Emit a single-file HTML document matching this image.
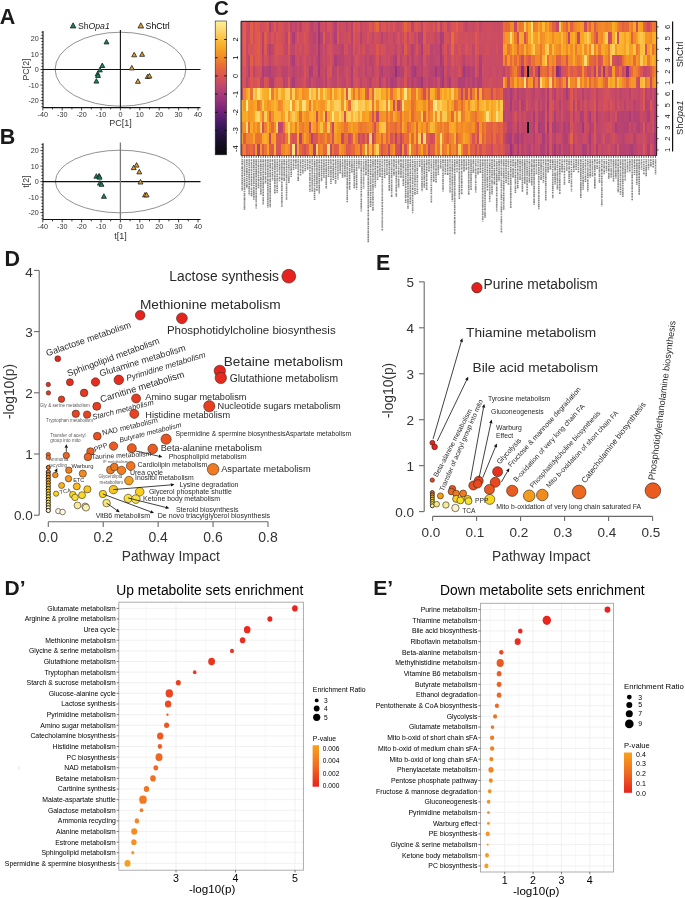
<!DOCTYPE html>
<html><head><meta charset="utf-8"><style>
html,body{margin:0;padding:0;background:#fff;}
svg{display:block;will-change:transform;}
text{font-family:"Liberation Sans", sans-serif;}
</style></head><body>
<svg width="685" height="898" viewBox="0 0 685 898" font-family='"Liberation Sans", sans-serif'>
<rect width="685" height="898" fill="#fff"/>
<text x="-0.30" y="23.80" font-size="21.5" fill="#1a1a1a" font-weight="bold">A</text>
<text x="-0.20" y="144.20" font-size="21.5" fill="#1a1a1a" font-weight="bold">B</text>
<text x="214.00" y="15.30" font-size="20.5" fill="#1a1a1a" font-weight="bold">C</text>
<text x="4.60" y="266.00" font-size="21.5" fill="#1a1a1a" font-weight="bold">D</text>
<text x="376.00" y="270.20" font-size="21.3" fill="#1a1a1a" font-weight="bold">E</text>
<text x="4.60" y="594.80" font-size="21" fill="#1a1a1a" font-weight="bold">D’</text>
<text x="373.20" y="595.20" font-size="21" fill="#1a1a1a" font-weight="bold">E’</text>
<ellipse cx="120.5" cy="69.2" rx="65.4" ry="37.0" fill="none" stroke="#6e6e6e" stroke-width="0.75"/>
<line x1="43.00" y1="31.00" x2="43.00" y2="107.60" stroke="#111" stroke-width="1.1"/>
<line x1="43.00" y1="107.60" x2="200.50" y2="107.60" stroke="#111" stroke-width="1.1"/>
<line x1="43.00" y1="69.50" x2="200.50" y2="69.50" stroke="#111" stroke-width="1.1"/>
<line x1="120.40" y1="30.00" x2="120.40" y2="107.60" stroke="#111" stroke-width="1.1"/>
<line x1="41.40" y1="106.82" x2="43.00" y2="106.82" stroke="#111" stroke-width="0.8"/>
<line x1="41.40" y1="103.71" x2="43.00" y2="103.71" stroke="#111" stroke-width="0.8"/>
<line x1="40.40" y1="100.60" x2="43.00" y2="100.60" stroke="#111" stroke-width="0.8"/>
<line x1="41.40" y1="97.49" x2="43.00" y2="97.49" stroke="#111" stroke-width="0.8"/>
<line x1="41.40" y1="94.38" x2="43.00" y2="94.38" stroke="#111" stroke-width="0.8"/>
<line x1="41.40" y1="91.27" x2="43.00" y2="91.27" stroke="#111" stroke-width="0.8"/>
<line x1="41.40" y1="88.16" x2="43.00" y2="88.16" stroke="#111" stroke-width="0.8"/>
<line x1="40.40" y1="85.05" x2="43.00" y2="85.05" stroke="#111" stroke-width="0.8"/>
<line x1="41.40" y1="81.94" x2="43.00" y2="81.94" stroke="#111" stroke-width="0.8"/>
<line x1="41.40" y1="78.83" x2="43.00" y2="78.83" stroke="#111" stroke-width="0.8"/>
<line x1="41.40" y1="75.72" x2="43.00" y2="75.72" stroke="#111" stroke-width="0.8"/>
<line x1="41.40" y1="72.61" x2="43.00" y2="72.61" stroke="#111" stroke-width="0.8"/>
<line x1="40.40" y1="69.50" x2="43.00" y2="69.50" stroke="#111" stroke-width="0.8"/>
<line x1="41.40" y1="66.39" x2="43.00" y2="66.39" stroke="#111" stroke-width="0.8"/>
<line x1="41.40" y1="63.28" x2="43.00" y2="63.28" stroke="#111" stroke-width="0.8"/>
<line x1="41.40" y1="60.17" x2="43.00" y2="60.17" stroke="#111" stroke-width="0.8"/>
<line x1="41.40" y1="57.06" x2="43.00" y2="57.06" stroke="#111" stroke-width="0.8"/>
<line x1="40.40" y1="53.95" x2="43.00" y2="53.95" stroke="#111" stroke-width="0.8"/>
<line x1="41.40" y1="50.84" x2="43.00" y2="50.84" stroke="#111" stroke-width="0.8"/>
<line x1="41.40" y1="47.73" x2="43.00" y2="47.73" stroke="#111" stroke-width="0.8"/>
<line x1="41.40" y1="44.62" x2="43.00" y2="44.62" stroke="#111" stroke-width="0.8"/>
<line x1="41.40" y1="41.51" x2="43.00" y2="41.51" stroke="#111" stroke-width="0.8"/>
<line x1="40.40" y1="38.40" x2="43.00" y2="38.40" stroke="#111" stroke-width="0.8"/>
<line x1="41.40" y1="35.29" x2="43.00" y2="35.29" stroke="#111" stroke-width="0.8"/>
<line x1="41.40" y1="32.18" x2="43.00" y2="32.18" stroke="#111" stroke-width="0.8"/>
<text x="38.80" y="41.00" font-size="7.2" text-anchor="end" fill="#333">20</text>
<text x="38.80" y="56.55" font-size="7.2" text-anchor="end" fill="#333">10</text>
<text x="38.80" y="72.10" font-size="7.2" text-anchor="end" fill="#333">0</text>
<text x="38.80" y="87.65" font-size="7.2" text-anchor="end" fill="#333">-10</text>
<text x="38.80" y="103.20" font-size="7.2" text-anchor="end" fill="#333">-20</text>
<line x1="42.80" y1="107.60" x2="42.80" y2="110.40" stroke="#111" stroke-width="0.8"/>
<line x1="52.50" y1="107.60" x2="52.50" y2="109.40" stroke="#111" stroke-width="0.8"/>
<line x1="62.20" y1="107.60" x2="62.20" y2="110.40" stroke="#111" stroke-width="0.8"/>
<line x1="71.90" y1="107.60" x2="71.90" y2="109.40" stroke="#111" stroke-width="0.8"/>
<line x1="81.60" y1="107.60" x2="81.60" y2="110.40" stroke="#111" stroke-width="0.8"/>
<line x1="91.30" y1="107.60" x2="91.30" y2="109.40" stroke="#111" stroke-width="0.8"/>
<line x1="101.00" y1="107.60" x2="101.00" y2="110.40" stroke="#111" stroke-width="0.8"/>
<line x1="110.70" y1="107.60" x2="110.70" y2="109.40" stroke="#111" stroke-width="0.8"/>
<line x1="120.40" y1="107.60" x2="120.40" y2="110.40" stroke="#111" stroke-width="0.8"/>
<line x1="130.10" y1="107.60" x2="130.10" y2="109.40" stroke="#111" stroke-width="0.8"/>
<line x1="139.80" y1="107.60" x2="139.80" y2="110.40" stroke="#111" stroke-width="0.8"/>
<line x1="149.50" y1="107.60" x2="149.50" y2="109.40" stroke="#111" stroke-width="0.8"/>
<line x1="159.20" y1="107.60" x2="159.20" y2="110.40" stroke="#111" stroke-width="0.8"/>
<line x1="168.90" y1="107.60" x2="168.90" y2="109.40" stroke="#111" stroke-width="0.8"/>
<line x1="178.60" y1="107.60" x2="178.60" y2="110.40" stroke="#111" stroke-width="0.8"/>
<line x1="188.30" y1="107.60" x2="188.30" y2="109.40" stroke="#111" stroke-width="0.8"/>
<line x1="198.00" y1="107.60" x2="198.00" y2="110.40" stroke="#111" stroke-width="0.8"/>
<text x="42.80" y="117.20" font-size="7.2" text-anchor="middle" fill="#333">-40</text>
<text x="62.20" y="117.20" font-size="7.2" text-anchor="middle" fill="#333">-30</text>
<text x="81.60" y="117.20" font-size="7.2" text-anchor="middle" fill="#333">-20</text>
<text x="101.00" y="117.20" font-size="7.2" text-anchor="middle" fill="#333">-10</text>
<text x="120.40" y="117.20" font-size="7.2" text-anchor="middle" fill="#333">0</text>
<text x="139.80" y="117.20" font-size="7.2" text-anchor="middle" fill="#333">10</text>
<text x="159.20" y="117.20" font-size="7.2" text-anchor="middle" fill="#333">20</text>
<text x="178.60" y="117.20" font-size="7.2" text-anchor="middle" fill="#333">30</text>
<text x="198.00" y="117.20" font-size="7.2" text-anchor="middle" fill="#333">40</text>
<text x="28.60" y="69.50" font-size="8.8" text-anchor="middle" fill="#333" transform="rotate(-90 28.60 69.50)">PC[2]</text>
<text x="120.40" y="126.20" font-size="9" text-anchor="middle" fill="#333">PC[1]</text>
<polygon points="106.50,39.41 104.05,43.91 108.95,43.91" fill="#16855a" stroke="#1e2a26" stroke-width="0.85" stroke-linejoin="round"/>
<polygon points="102.30,63.01 99.85,67.51 104.75,67.51" fill="#16855a" stroke="#1e2a26" stroke-width="0.85" stroke-linejoin="round"/>
<polygon points="99.90,67.41 97.45,71.91 102.35,71.91" fill="#16855a" stroke="#1e2a26" stroke-width="0.85" stroke-linejoin="round"/>
<polygon points="97.60,71.41 95.15,75.91 100.05,75.91" fill="#16855a" stroke="#1e2a26" stroke-width="0.85" stroke-linejoin="round"/>
<polygon points="98.00,73.01 95.55,77.51 100.45,77.51" fill="#16855a" stroke="#1e2a26" stroke-width="0.85" stroke-linejoin="round"/>
<polygon points="96.40,78.61 93.95,83.11 98.85,83.11" fill="#16855a" stroke="#1e2a26" stroke-width="0.85" stroke-linejoin="round"/>
<polygon points="134.20,52.31 131.75,56.81 136.65,56.81" fill="#f09a2c" stroke="#1e2a26" stroke-width="0.85" stroke-linejoin="round"/>
<polygon points="142.10,51.81 139.65,56.31 144.55,56.31" fill="#f09a2c" stroke="#1e2a26" stroke-width="0.85" stroke-linejoin="round"/>
<polygon points="131.80,65.41 129.35,69.91 134.25,69.91" fill="#f09a2c" stroke="#1e2a26" stroke-width="0.85" stroke-linejoin="round"/>
<polygon points="147.70,74.01 145.25,78.51 150.15,78.51" fill="#f09a2c" stroke="#1e2a26" stroke-width="0.85" stroke-linejoin="round"/>
<polygon points="149.50,73.51 147.05,78.01 151.95,78.01" fill="#f09a2c" stroke="#1e2a26" stroke-width="0.85" stroke-linejoin="round"/>
<polygon points="137.90,78.81 135.45,83.31 140.35,83.31" fill="#f09a2c" stroke="#1e2a26" stroke-width="0.85" stroke-linejoin="round"/>
<ellipse cx="120.2" cy="181.5" rx="64.8" ry="31.3" fill="none" stroke="#6e6e6e" stroke-width="0.75"/>
<line x1="43.00" y1="143.20" x2="43.00" y2="219.57" stroke="#111" stroke-width="1.1"/>
<line x1="43.00" y1="219.57" x2="200.50" y2="219.57" stroke="#111" stroke-width="1.1"/>
<line x1="43.00" y1="181.60" x2="200.50" y2="181.60" stroke="#111" stroke-width="1.1"/>
<line x1="120.40" y1="142.50" x2="120.40" y2="219.57" stroke="#7a7a7a" stroke-width="1.3"/>
<line x1="41.40" y1="218.80" x2="43.00" y2="218.80" stroke="#111" stroke-width="0.8"/>
<line x1="41.40" y1="215.70" x2="43.00" y2="215.70" stroke="#111" stroke-width="0.8"/>
<line x1="40.40" y1="212.60" x2="43.00" y2="212.60" stroke="#111" stroke-width="0.8"/>
<line x1="41.40" y1="209.50" x2="43.00" y2="209.50" stroke="#111" stroke-width="0.8"/>
<line x1="41.40" y1="206.40" x2="43.00" y2="206.40" stroke="#111" stroke-width="0.8"/>
<line x1="41.40" y1="203.30" x2="43.00" y2="203.30" stroke="#111" stroke-width="0.8"/>
<line x1="41.40" y1="200.20" x2="43.00" y2="200.20" stroke="#111" stroke-width="0.8"/>
<line x1="40.40" y1="197.10" x2="43.00" y2="197.10" stroke="#111" stroke-width="0.8"/>
<line x1="41.40" y1="194.00" x2="43.00" y2="194.00" stroke="#111" stroke-width="0.8"/>
<line x1="41.40" y1="190.90" x2="43.00" y2="190.90" stroke="#111" stroke-width="0.8"/>
<line x1="41.40" y1="187.80" x2="43.00" y2="187.80" stroke="#111" stroke-width="0.8"/>
<line x1="41.40" y1="184.70" x2="43.00" y2="184.70" stroke="#111" stroke-width="0.8"/>
<line x1="40.40" y1="181.60" x2="43.00" y2="181.60" stroke="#111" stroke-width="0.8"/>
<line x1="41.40" y1="178.50" x2="43.00" y2="178.50" stroke="#111" stroke-width="0.8"/>
<line x1="41.40" y1="175.40" x2="43.00" y2="175.40" stroke="#111" stroke-width="0.8"/>
<line x1="41.40" y1="172.30" x2="43.00" y2="172.30" stroke="#111" stroke-width="0.8"/>
<line x1="41.40" y1="169.20" x2="43.00" y2="169.20" stroke="#111" stroke-width="0.8"/>
<line x1="40.40" y1="166.10" x2="43.00" y2="166.10" stroke="#111" stroke-width="0.8"/>
<line x1="41.40" y1="163.00" x2="43.00" y2="163.00" stroke="#111" stroke-width="0.8"/>
<line x1="41.40" y1="159.90" x2="43.00" y2="159.90" stroke="#111" stroke-width="0.8"/>
<line x1="41.40" y1="156.80" x2="43.00" y2="156.80" stroke="#111" stroke-width="0.8"/>
<line x1="41.40" y1="153.70" x2="43.00" y2="153.70" stroke="#111" stroke-width="0.8"/>
<line x1="40.40" y1="150.60" x2="43.00" y2="150.60" stroke="#111" stroke-width="0.8"/>
<line x1="41.40" y1="147.50" x2="43.00" y2="147.50" stroke="#111" stroke-width="0.8"/>
<line x1="41.40" y1="144.40" x2="43.00" y2="144.40" stroke="#111" stroke-width="0.8"/>
<text x="38.80" y="153.20" font-size="7.2" text-anchor="end" fill="#333">20</text>
<text x="38.80" y="168.70" font-size="7.2" text-anchor="end" fill="#333">10</text>
<text x="38.80" y="184.20" font-size="7.2" text-anchor="end" fill="#333">0</text>
<text x="38.80" y="199.70" font-size="7.2" text-anchor="end" fill="#333">-10</text>
<text x="38.80" y="215.20" font-size="7.2" text-anchor="end" fill="#333">-20</text>
<line x1="42.80" y1="219.57" x2="42.80" y2="222.38" stroke="#111" stroke-width="0.8"/>
<line x1="52.50" y1="219.57" x2="52.50" y2="221.38" stroke="#111" stroke-width="0.8"/>
<line x1="62.20" y1="219.57" x2="62.20" y2="222.38" stroke="#111" stroke-width="0.8"/>
<line x1="71.90" y1="219.57" x2="71.90" y2="221.38" stroke="#111" stroke-width="0.8"/>
<line x1="81.60" y1="219.57" x2="81.60" y2="222.38" stroke="#111" stroke-width="0.8"/>
<line x1="91.30" y1="219.57" x2="91.30" y2="221.38" stroke="#111" stroke-width="0.8"/>
<line x1="101.00" y1="219.57" x2="101.00" y2="222.38" stroke="#111" stroke-width="0.8"/>
<line x1="110.70" y1="219.57" x2="110.70" y2="221.38" stroke="#111" stroke-width="0.8"/>
<line x1="120.40" y1="219.57" x2="120.40" y2="222.38" stroke="#111" stroke-width="0.8"/>
<line x1="130.10" y1="219.57" x2="130.10" y2="221.38" stroke="#111" stroke-width="0.8"/>
<line x1="139.80" y1="219.57" x2="139.80" y2="222.38" stroke="#111" stroke-width="0.8"/>
<line x1="149.50" y1="219.57" x2="149.50" y2="221.38" stroke="#111" stroke-width="0.8"/>
<line x1="159.20" y1="219.57" x2="159.20" y2="222.38" stroke="#111" stroke-width="0.8"/>
<line x1="168.90" y1="219.57" x2="168.90" y2="221.38" stroke="#111" stroke-width="0.8"/>
<line x1="178.60" y1="219.57" x2="178.60" y2="222.38" stroke="#111" stroke-width="0.8"/>
<line x1="188.30" y1="219.57" x2="188.30" y2="221.38" stroke="#111" stroke-width="0.8"/>
<line x1="198.00" y1="219.57" x2="198.00" y2="222.38" stroke="#111" stroke-width="0.8"/>
<text x="42.80" y="229.17" font-size="7.2" text-anchor="middle" fill="#333">-40</text>
<text x="62.20" y="229.17" font-size="7.2" text-anchor="middle" fill="#333">-30</text>
<text x="81.60" y="229.17" font-size="7.2" text-anchor="middle" fill="#333">-20</text>
<text x="101.00" y="229.17" font-size="7.2" text-anchor="middle" fill="#333">-10</text>
<text x="120.40" y="229.17" font-size="7.2" text-anchor="middle" fill="#333">0</text>
<text x="139.80" y="229.17" font-size="7.2" text-anchor="middle" fill="#333">10</text>
<text x="159.20" y="229.17" font-size="7.2" text-anchor="middle" fill="#333">20</text>
<text x="178.60" y="229.17" font-size="7.2" text-anchor="middle" fill="#333">30</text>
<text x="198.00" y="229.17" font-size="7.2" text-anchor="middle" fill="#333">40</text>
<text x="28.60" y="181.60" font-size="8.8" text-anchor="middle" fill="#333" transform="rotate(-90 28.60 181.60)">t[2]</text>
<text x="120.40" y="239.00" font-size="9" text-anchor="middle" fill="#333">t[1]</text>
<polygon points="96.40,173.71 93.95,178.21 98.85,178.21" fill="#16855a" stroke="#1e2a26" stroke-width="0.85" stroke-linejoin="round"/>
<polygon points="99.10,173.41 96.65,177.91 101.55,177.91" fill="#16855a" stroke="#1e2a26" stroke-width="0.85" stroke-linejoin="round"/>
<polygon points="99.60,174.71 97.15,179.21 102.05,179.21" fill="#16855a" stroke="#1e2a26" stroke-width="0.85" stroke-linejoin="round"/>
<polygon points="99.90,180.61 97.45,185.11 102.35,185.11" fill="#16855a" stroke="#1e2a26" stroke-width="0.85" stroke-linejoin="round"/>
<polygon points="101.50,181.81 99.05,186.31 103.95,186.31" fill="#16855a" stroke="#1e2a26" stroke-width="0.85" stroke-linejoin="round"/>
<polygon points="103.90,193.81 101.45,198.31 106.35,198.31" fill="#16855a" stroke="#1e2a26" stroke-width="0.85" stroke-linejoin="round"/>
<polygon points="136.60,162.61 134.15,167.11 139.05,167.11" fill="#f09a2c" stroke="#1e2a26" stroke-width="0.85" stroke-linejoin="round"/>
<polygon points="133.70,165.11 131.25,169.61 136.15,169.61" fill="#f09a2c" stroke="#1e2a26" stroke-width="0.85" stroke-linejoin="round"/>
<polygon points="139.30,169.41 136.85,173.91 141.75,173.91" fill="#f09a2c" stroke="#1e2a26" stroke-width="0.85" stroke-linejoin="round"/>
<polygon points="140.50,179.51 138.05,184.01 142.95,184.01" fill="#f09a2c" stroke="#1e2a26" stroke-width="0.85" stroke-linejoin="round"/>
<polygon points="145.00,192.41 142.55,196.91 147.45,196.91" fill="#f09a2c" stroke="#1e2a26" stroke-width="0.85" stroke-linejoin="round"/>
<polygon points="146.60,192.41 144.15,196.91 149.05,196.91" fill="#f09a2c" stroke="#1e2a26" stroke-width="0.85" stroke-linejoin="round"/>
<polygon points="73.10,22.81 70.30,27.96 75.90,27.96" fill="#16855a" stroke="#1e2a26" stroke-width="0.85" stroke-linejoin="round"/>
<text x="77.9" y="28.8" font-size="8.7" fill="#222">Sh<tspan font-style="italic">Opa1</tspan></text>
<polygon points="140.80,22.81 138.00,27.96 143.60,27.96" fill="#f09a2c" stroke="#1e2a26" stroke-width="0.85" stroke-linejoin="round"/>
<text x="145.60" y="28.80" font-size="8.7">ShCtrl</text>
<g shape-rendering="crispEdges">
<rect x="241.00" y="21.30" width="2.69" height="11.53" fill="#d04f5d"/>
<rect x="243.34" y="21.30" width="2.69" height="11.53" fill="#e05d47"/>
<rect x="245.67" y="21.30" width="2.69" height="11.53" fill="#cd4d60"/>
<rect x="248.01" y="21.30" width="2.69" height="11.53" fill="#c84a66"/>
<rect x="250.34" y="21.30" width="2.69" height="11.53" fill="#e25f45"/>
<rect x="252.68" y="21.30" width="2.69" height="11.53" fill="#d04f5d"/>
<rect x="255.01" y="21.30" width="2.69" height="11.53" fill="#df5a4b"/>
<rect x="257.35" y="21.30" width="2.69" height="11.53" fill="#dc574f"/>
<rect x="259.68" y="21.30" width="2.69" height="11.53" fill="#cf4e5e"/>
<rect x="262.02" y="21.30" width="2.69" height="11.53" fill="#d2505b"/>
<rect x="264.35" y="21.30" width="2.69" height="11.53" fill="#d45258"/>
<rect x="266.69" y="21.30" width="2.69" height="11.53" fill="#de594c"/>
<rect x="269.02" y="21.30" width="2.69" height="11.53" fill="#b03f75"/>
<rect x="271.36" y="21.30" width="2.69" height="11.53" fill="#cb4c63"/>
<rect x="273.70" y="21.30" width="2.69" height="11.53" fill="#de5a4b"/>
<rect x="276.03" y="21.30" width="2.69" height="11.53" fill="#c64968"/>
<rect x="278.37" y="21.30" width="2.69" height="11.53" fill="#d85454"/>
<rect x="280.70" y="21.30" width="2.69" height="11.53" fill="#d75356"/>
<rect x="283.04" y="21.30" width="2.69" height="11.53" fill="#cd4d60"/>
<rect x="285.37" y="21.30" width="2.69" height="11.53" fill="#c74a67"/>
<rect x="287.71" y="21.30" width="2.69" height="11.53" fill="#d85454"/>
<rect x="290.04" y="21.30" width="2.69" height="11.53" fill="#bb446f"/>
<rect x="292.38" y="21.30" width="2.69" height="11.53" fill="#c4486a"/>
<rect x="294.71" y="21.30" width="2.69" height="11.53" fill="#bc446f"/>
<rect x="297.05" y="21.30" width="2.69" height="11.53" fill="#cc4d61"/>
<rect x="299.38" y="21.30" width="2.69" height="11.53" fill="#ba446f"/>
<rect x="301.72" y="21.30" width="2.69" height="11.53" fill="#d1505c"/>
<rect x="304.06" y="21.30" width="2.69" height="11.53" fill="#cf4f5e"/>
<rect x="306.39" y="21.30" width="2.69" height="11.53" fill="#d3515a"/>
<rect x="308.73" y="21.30" width="2.69" height="11.53" fill="#c1476c"/>
<rect x="311.06" y="21.30" width="2.69" height="11.53" fill="#b64272"/>
<rect x="313.40" y="21.30" width="2.69" height="11.53" fill="#c64968"/>
<rect x="315.73" y="21.30" width="2.69" height="11.53" fill="#c74a67"/>
<rect x="318.07" y="21.30" width="2.69" height="11.53" fill="#a2397a"/>
<rect x="320.40" y="21.30" width="2.69" height="11.53" fill="#c94b65"/>
<rect x="322.74" y="21.30" width="2.69" height="11.53" fill="#d2505a"/>
<rect x="325.07" y="21.30" width="2.69" height="11.53" fill="#c2476b"/>
<rect x="327.41" y="21.30" width="2.69" height="11.53" fill="#d65356"/>
<rect x="329.74" y="21.30" width="2.69" height="11.53" fill="#d55257"/>
<rect x="332.08" y="21.30" width="2.69" height="11.53" fill="#c54869"/>
<rect x="334.42" y="21.30" width="2.69" height="11.53" fill="#b44173"/>
<rect x="336.75" y="21.30" width="2.69" height="11.53" fill="#d55258"/>
<rect x="339.09" y="21.30" width="2.69" height="11.53" fill="#ca4c63"/>
<rect x="341.42" y="21.30" width="2.69" height="11.53" fill="#cb4c63"/>
<rect x="343.76" y="21.30" width="2.69" height="11.53" fill="#cd4d60"/>
<rect x="346.09" y="21.30" width="2.69" height="11.53" fill="#bd456e"/>
<rect x="348.43" y="21.30" width="2.69" height="11.53" fill="#cc4d61"/>
<rect x="350.76" y="21.30" width="2.69" height="11.53" fill="#b94370"/>
<rect x="353.10" y="21.30" width="2.69" height="11.53" fill="#de594c"/>
<rect x="355.43" y="21.30" width="2.69" height="11.53" fill="#d3515a"/>
<rect x="357.77" y="21.30" width="2.69" height="11.53" fill="#d95453"/>
<rect x="360.11" y="21.30" width="2.69" height="11.53" fill="#c0466c"/>
<rect x="362.44" y="21.30" width="2.69" height="11.53" fill="#cc4c62"/>
<rect x="364.78" y="21.30" width="2.69" height="11.53" fill="#ca4b64"/>
<rect x="367.11" y="21.30" width="2.69" height="11.53" fill="#d04f5d"/>
<rect x="369.45" y="21.30" width="2.69" height="11.53" fill="#dd574e"/>
<rect x="371.78" y="21.30" width="2.69" height="11.53" fill="#d04f5d"/>
<rect x="374.12" y="21.30" width="2.69" height="11.53" fill="#e05c48"/>
<rect x="376.45" y="21.30" width="2.69" height="11.53" fill="#e76939"/>
<rect x="378.79" y="21.30" width="2.69" height="11.53" fill="#ca4b64"/>
<rect x="381.12" y="21.30" width="2.69" height="11.53" fill="#da5553"/>
<rect x="383.46" y="21.30" width="2.69" height="11.53" fill="#dc5650"/>
<rect x="385.79" y="21.30" width="2.69" height="11.53" fill="#ce4e60"/>
<rect x="388.13" y="21.30" width="2.69" height="11.53" fill="#d85455"/>
<rect x="390.47" y="21.30" width="2.69" height="11.53" fill="#d14f5c"/>
<rect x="392.80" y="21.30" width="2.69" height="11.53" fill="#dd574f"/>
<rect x="395.14" y="21.30" width="2.69" height="11.53" fill="#cc4d61"/>
<rect x="397.47" y="21.30" width="2.69" height="11.53" fill="#c74a67"/>
<rect x="399.81" y="21.30" width="2.69" height="11.53" fill="#cb4c63"/>
<rect x="402.14" y="21.30" width="2.69" height="11.53" fill="#d85454"/>
<rect x="404.48" y="21.30" width="2.69" height="11.53" fill="#e6673c"/>
<rect x="406.81" y="21.30" width="2.69" height="11.53" fill="#db5551"/>
<rect x="409.15" y="21.30" width="2.69" height="11.53" fill="#de5a4b"/>
<rect x="411.48" y="21.30" width="2.69" height="11.53" fill="#bd456e"/>
<rect x="413.82" y="21.30" width="2.69" height="11.53" fill="#d95453"/>
<rect x="416.15" y="21.30" width="2.69" height="11.53" fill="#dd584e"/>
<rect x="418.49" y="21.30" width="2.69" height="11.53" fill="#d55257"/>
<rect x="420.83" y="21.30" width="2.69" height="11.53" fill="#bc456f"/>
<rect x="423.16" y="21.30" width="2.69" height="11.53" fill="#df5a4b"/>
<rect x="425.50" y="21.30" width="2.69" height="11.53" fill="#d85454"/>
<rect x="427.83" y="21.30" width="2.69" height="11.53" fill="#d35159"/>
<rect x="430.17" y="21.30" width="2.69" height="11.53" fill="#d14f5c"/>
<rect x="432.50" y="21.30" width="2.69" height="11.53" fill="#db5651"/>
<rect x="434.84" y="21.30" width="2.69" height="11.53" fill="#c74a67"/>
<rect x="437.17" y="21.30" width="2.69" height="11.53" fill="#e05c49"/>
<rect x="439.51" y="21.30" width="2.69" height="11.53" fill="#bc456e"/>
<rect x="441.84" y="21.30" width="2.69" height="11.53" fill="#d1505c"/>
<rect x="444.18" y="21.30" width="2.69" height="11.53" fill="#dc5650"/>
<rect x="446.51" y="21.30" width="2.69" height="11.53" fill="#bf466d"/>
<rect x="448.85" y="21.30" width="2.69" height="11.53" fill="#ca4b64"/>
<rect x="451.19" y="21.30" width="2.69" height="11.53" fill="#d85455"/>
<rect x="453.52" y="21.30" width="2.69" height="11.53" fill="#d95453"/>
<rect x="455.86" y="21.30" width="2.69" height="11.53" fill="#e25f45"/>
<rect x="458.19" y="21.30" width="2.69" height="11.53" fill="#d3515a"/>
<rect x="460.53" y="21.30" width="2.69" height="11.53" fill="#d75355"/>
<rect x="462.86" y="21.30" width="2.69" height="11.53" fill="#c84a66"/>
<rect x="465.20" y="21.30" width="2.69" height="11.53" fill="#bd456e"/>
<rect x="467.53" y="21.30" width="2.69" height="11.53" fill="#cd4d60"/>
<rect x="469.87" y="21.30" width="2.69" height="11.53" fill="#ca4b64"/>
<rect x="472.20" y="21.30" width="2.69" height="11.53" fill="#c74a67"/>
<rect x="474.54" y="21.30" width="2.69" height="11.53" fill="#cc4d61"/>
<rect x="476.87" y="21.30" width="2.69" height="11.53" fill="#d65257"/>
<rect x="479.21" y="21.30" width="2.69" height="11.53" fill="#c0466c"/>
<rect x="481.55" y="21.30" width="2.69" height="11.53" fill="#ce4e60"/>
<rect x="483.88" y="21.30" width="2.69" height="11.53" fill="#cb4c62"/>
<rect x="486.22" y="21.30" width="2.69" height="11.53" fill="#ce4e5f"/>
<rect x="488.55" y="21.30" width="2.69" height="11.53" fill="#cd4d60"/>
<rect x="490.89" y="21.30" width="2.69" height="11.53" fill="#cc4c62"/>
<rect x="493.22" y="21.30" width="2.69" height="11.53" fill="#c74a66"/>
<rect x="495.56" y="21.30" width="2.69" height="11.53" fill="#ca4b64"/>
<rect x="497.89" y="21.30" width="2.69" height="11.53" fill="#c74a67"/>
<rect x="500.23" y="21.30" width="2.69" height="11.53" fill="#cf4e5e"/>
<rect x="502.56" y="21.30" width="2.69" height="11.53" fill="#e96f36"/>
<rect x="504.90" y="21.30" width="2.69" height="11.53" fill="#e6663c"/>
<rect x="507.23" y="21.30" width="2.69" height="11.53" fill="#e76939"/>
<rect x="509.57" y="21.30" width="2.69" height="11.53" fill="#f28a28"/>
<rect x="511.91" y="21.30" width="2.69" height="11.53" fill="#f28a28"/>
<rect x="514.24" y="21.30" width="2.69" height="11.53" fill="#c54969"/>
<rect x="516.58" y="21.30" width="2.69" height="11.53" fill="#f18829"/>
<rect x="518.91" y="21.30" width="2.69" height="11.53" fill="#ec7732"/>
<rect x="521.25" y="21.30" width="2.69" height="11.53" fill="#ee7c2f"/>
<rect x="523.58" y="21.30" width="2.69" height="11.53" fill="#fbca55"/>
<rect x="525.92" y="21.30" width="2.69" height="11.53" fill="#f38c27"/>
<rect x="528.25" y="21.30" width="2.69" height="11.53" fill="#f8a723"/>
<rect x="530.59" y="21.30" width="2.69" height="11.53" fill="#fcdf7c"/>
<rect x="532.92" y="21.30" width="2.69" height="11.53" fill="#ed7b2f"/>
<rect x="535.26" y="21.30" width="2.69" height="11.53" fill="#f0842b"/>
<rect x="537.59" y="21.30" width="2.69" height="11.53" fill="#f7a223"/>
<rect x="539.93" y="21.30" width="2.69" height="11.53" fill="#f38e27"/>
<rect x="542.27" y="21.30" width="2.69" height="11.53" fill="#fab837"/>
<rect x="544.60" y="21.30" width="2.69" height="11.53" fill="#f38e27"/>
<rect x="546.94" y="21.30" width="2.69" height="11.53" fill="#f8a422"/>
<rect x="549.27" y="21.30" width="2.69" height="11.53" fill="#ef812d"/>
<rect x="551.61" y="21.30" width="2.69" height="11.53" fill="#e15f45"/>
<rect x="553.94" y="21.30" width="2.69" height="11.53" fill="#e26143"/>
<rect x="556.28" y="21.30" width="2.69" height="11.53" fill="#c74a67"/>
<rect x="558.61" y="21.30" width="2.69" height="11.53" fill="#fccd5a"/>
<rect x="560.95" y="21.30" width="2.69" height="11.53" fill="#f28c28"/>
<rect x="563.28" y="21.30" width="2.69" height="11.53" fill="#ec7632"/>
<rect x="565.62" y="21.30" width="2.69" height="11.53" fill="#e36143"/>
<rect x="567.96" y="21.30" width="2.69" height="11.53" fill="#f59725"/>
<rect x="570.29" y="21.30" width="2.69" height="11.53" fill="#e26143"/>
<rect x="572.63" y="21.30" width="2.69" height="11.53" fill="#ee7c2f"/>
<rect x="574.96" y="21.30" width="2.69" height="11.53" fill="#f18829"/>
<rect x="577.30" y="21.30" width="2.69" height="11.53" fill="#f49126"/>
<rect x="579.63" y="21.30" width="2.69" height="11.53" fill="#f69b24"/>
<rect x="581.97" y="21.30" width="2.69" height="11.53" fill="#f59825"/>
<rect x="584.30" y="21.30" width="2.69" height="11.53" fill="#cd4d61"/>
<rect x="586.64" y="21.30" width="2.69" height="11.53" fill="#f0822c"/>
<rect x="588.97" y="21.30" width="2.69" height="11.53" fill="#e5653e"/>
<rect x="591.31" y="21.30" width="2.69" height="11.53" fill="#f39027"/>
<rect x="593.64" y="21.30" width="2.69" height="11.53" fill="#e05d48"/>
<rect x="595.98" y="21.30" width="2.69" height="11.53" fill="#ec7732"/>
<rect x="598.32" y="21.30" width="2.69" height="11.53" fill="#f1862a"/>
<rect x="600.65" y="21.30" width="2.69" height="11.53" fill="#f38d27"/>
<rect x="602.99" y="21.30" width="2.69" height="11.53" fill="#f28b28"/>
<rect x="605.32" y="21.30" width="2.69" height="11.53" fill="#ef802d"/>
<rect x="607.66" y="21.30" width="2.69" height="11.53" fill="#f1872a"/>
<rect x="609.99" y="21.30" width="2.69" height="11.53" fill="#f28928"/>
<rect x="612.33" y="21.30" width="2.69" height="11.53" fill="#f9ac29"/>
<rect x="614.66" y="21.30" width="2.69" height="11.53" fill="#f69c24"/>
<rect x="617.00" y="21.30" width="2.69" height="11.53" fill="#ef7f2d"/>
<rect x="619.33" y="21.30" width="2.69" height="11.53" fill="#ea7035"/>
<rect x="621.67" y="21.30" width="2.69" height="11.53" fill="#e26044"/>
<rect x="624.00" y="21.30" width="2.69" height="11.53" fill="#e7683b"/>
<rect x="626.34" y="21.30" width="2.69" height="11.53" fill="#e7683a"/>
<rect x="628.68" y="21.30" width="2.69" height="11.53" fill="#f28b28"/>
<rect x="631.01" y="21.30" width="2.69" height="11.53" fill="#ef7f2e"/>
<rect x="633.35" y="21.30" width="2.69" height="11.53" fill="#f8a925"/>
<rect x="635.68" y="21.30" width="2.69" height="11.53" fill="#d04f5d"/>
<rect x="638.02" y="21.30" width="2.69" height="11.53" fill="#f8a522"/>
<rect x="640.35" y="21.30" width="2.69" height="11.53" fill="#f79f23"/>
<rect x="642.69" y="21.30" width="2.69" height="11.53" fill="#e36241"/>
<rect x="645.02" y="21.30" width="2.69" height="11.53" fill="#de594c"/>
<rect x="647.36" y="21.30" width="2.69" height="11.53" fill="#ca4b64"/>
<rect x="649.69" y="21.30" width="2.69" height="11.53" fill="#df5a4b"/>
<rect x="652.03" y="21.30" width="2.69" height="11.53" fill="#ed7930"/>
<rect x="654.36" y="21.30" width="2.69" height="11.53" fill="#eb7433"/>
<rect x="241.00" y="32.48" width="2.69" height="11.53" fill="#cd4d61"/>
<rect x="243.34" y="32.48" width="2.69" height="11.53" fill="#e26044"/>
<rect x="245.67" y="32.48" width="2.69" height="11.53" fill="#c74a67"/>
<rect x="248.01" y="32.48" width="2.69" height="11.53" fill="#c94b65"/>
<rect x="250.34" y="32.48" width="2.69" height="11.53" fill="#e05d47"/>
<rect x="252.68" y="32.48" width="2.69" height="11.53" fill="#cf4f5e"/>
<rect x="255.01" y="32.48" width="2.69" height="11.53" fill="#dd574f"/>
<rect x="257.35" y="32.48" width="2.69" height="11.53" fill="#e05d47"/>
<rect x="259.68" y="32.48" width="2.69" height="11.53" fill="#d75355"/>
<rect x="262.02" y="32.48" width="2.69" height="11.53" fill="#b94370"/>
<rect x="264.35" y="32.48" width="2.69" height="11.53" fill="#e05d47"/>
<rect x="266.69" y="32.48" width="2.69" height="11.53" fill="#d14f5c"/>
<rect x="269.02" y="32.48" width="2.69" height="11.53" fill="#c84a66"/>
<rect x="271.36" y="32.48" width="2.69" height="11.53" fill="#d85455"/>
<rect x="273.70" y="32.48" width="2.69" height="11.53" fill="#cc4c62"/>
<rect x="276.03" y="32.48" width="2.69" height="11.53" fill="#dc564f"/>
<rect x="278.37" y="32.48" width="2.69" height="11.53" fill="#d85454"/>
<rect x="280.70" y="32.48" width="2.69" height="11.53" fill="#d04f5c"/>
<rect x="283.04" y="32.48" width="2.69" height="11.53" fill="#cd4d61"/>
<rect x="285.37" y="32.48" width="2.69" height="11.53" fill="#bc446f"/>
<rect x="287.71" y="32.48" width="2.69" height="11.53" fill="#e36241"/>
<rect x="290.04" y="32.48" width="2.69" height="11.53" fill="#c74a67"/>
<rect x="292.38" y="32.48" width="2.69" height="11.53" fill="#ad3e77"/>
<rect x="294.71" y="32.48" width="2.69" height="11.53" fill="#c54969"/>
<rect x="297.05" y="32.48" width="2.69" height="11.53" fill="#d95453"/>
<rect x="299.38" y="32.48" width="2.69" height="11.53" fill="#cd4d60"/>
<rect x="301.72" y="32.48" width="2.69" height="11.53" fill="#d14f5c"/>
<rect x="304.06" y="32.48" width="2.69" height="11.53" fill="#db5551"/>
<rect x="306.39" y="32.48" width="2.69" height="11.53" fill="#d14f5c"/>
<rect x="308.73" y="32.48" width="2.69" height="11.53" fill="#c3476b"/>
<rect x="311.06" y="32.48" width="2.69" height="11.53" fill="#bd456e"/>
<rect x="313.40" y="32.48" width="2.69" height="11.53" fill="#b94370"/>
<rect x="315.73" y="32.48" width="2.69" height="11.53" fill="#c84a66"/>
<rect x="318.07" y="32.48" width="2.69" height="11.53" fill="#9f377b"/>
<rect x="320.40" y="32.48" width="2.69" height="11.53" fill="#b74371"/>
<rect x="322.74" y="32.48" width="2.69" height="11.53" fill="#df5b4a"/>
<rect x="325.07" y="32.48" width="2.69" height="11.53" fill="#c2476b"/>
<rect x="327.41" y="32.48" width="2.69" height="11.53" fill="#c54968"/>
<rect x="329.74" y="32.48" width="2.69" height="11.53" fill="#d3515a"/>
<rect x="332.08" y="32.48" width="2.69" height="11.53" fill="#c0466c"/>
<rect x="334.42" y="32.48" width="2.69" height="11.53" fill="#ae3e77"/>
<rect x="336.75" y="32.48" width="2.69" height="11.53" fill="#df5a4b"/>
<rect x="339.09" y="32.48" width="2.69" height="11.53" fill="#c64968"/>
<rect x="341.42" y="32.48" width="2.69" height="11.53" fill="#c94b64"/>
<rect x="343.76" y="32.48" width="2.69" height="11.53" fill="#ce4e60"/>
<rect x="346.09" y="32.48" width="2.69" height="11.53" fill="#cd4d60"/>
<rect x="348.43" y="32.48" width="2.69" height="11.53" fill="#d2505a"/>
<rect x="350.76" y="32.48" width="2.69" height="11.53" fill="#b64272"/>
<rect x="353.10" y="32.48" width="2.69" height="11.53" fill="#db5651"/>
<rect x="355.43" y="32.48" width="2.69" height="11.53" fill="#cf4f5e"/>
<rect x="357.77" y="32.48" width="2.69" height="11.53" fill="#d2505a"/>
<rect x="360.11" y="32.48" width="2.69" height="11.53" fill="#b54272"/>
<rect x="362.44" y="32.48" width="2.69" height="11.53" fill="#cb4c62"/>
<rect x="364.78" y="32.48" width="2.69" height="11.53" fill="#cb4c62"/>
<rect x="367.11" y="32.48" width="2.69" height="11.53" fill="#d75356"/>
<rect x="369.45" y="32.48" width="2.69" height="11.53" fill="#cf4e5e"/>
<rect x="371.78" y="32.48" width="2.69" height="11.53" fill="#bf466d"/>
<rect x="374.12" y="32.48" width="2.69" height="11.53" fill="#d3515a"/>
<rect x="376.45" y="32.48" width="2.69" height="11.53" fill="#d04f5d"/>
<rect x="378.79" y="32.48" width="2.69" height="11.53" fill="#ca4b64"/>
<rect x="381.12" y="32.48" width="2.69" height="11.53" fill="#b74371"/>
<rect x="383.46" y="32.48" width="2.69" height="11.53" fill="#ca4b64"/>
<rect x="385.79" y="32.48" width="2.69" height="11.53" fill="#c2476b"/>
<rect x="388.13" y="32.48" width="2.69" height="11.53" fill="#d04f5d"/>
<rect x="390.47" y="32.48" width="2.69" height="11.53" fill="#cc4d61"/>
<rect x="392.80" y="32.48" width="2.69" height="11.53" fill="#c0466c"/>
<rect x="395.14" y="32.48" width="2.69" height="11.53" fill="#c84a66"/>
<rect x="397.47" y="32.48" width="2.69" height="11.53" fill="#d75355"/>
<rect x="399.81" y="32.48" width="2.69" height="11.53" fill="#c64968"/>
<rect x="402.14" y="32.48" width="2.69" height="11.53" fill="#cf4e5e"/>
<rect x="404.48" y="32.48" width="2.69" height="11.53" fill="#dd584e"/>
<rect x="406.81" y="32.48" width="2.69" height="11.53" fill="#c2476b"/>
<rect x="409.15" y="32.48" width="2.69" height="11.53" fill="#d95453"/>
<rect x="411.48" y="32.48" width="2.69" height="11.53" fill="#d2505b"/>
<rect x="413.82" y="32.48" width="2.69" height="11.53" fill="#c54869"/>
<rect x="416.15" y="32.48" width="2.69" height="11.53" fill="#d04f5d"/>
<rect x="418.49" y="32.48" width="2.69" height="11.53" fill="#b64272"/>
<rect x="420.83" y="32.48" width="2.69" height="11.53" fill="#b34174"/>
<rect x="423.16" y="32.48" width="2.69" height="11.53" fill="#e05c48"/>
<rect x="425.50" y="32.48" width="2.69" height="11.53" fill="#cb4c63"/>
<rect x="427.83" y="32.48" width="2.69" height="11.53" fill="#cd4d60"/>
<rect x="430.17" y="32.48" width="2.69" height="11.53" fill="#d04f5d"/>
<rect x="432.50" y="32.48" width="2.69" height="11.53" fill="#ca4c63"/>
<rect x="434.84" y="32.48" width="2.69" height="11.53" fill="#bf466d"/>
<rect x="437.17" y="32.48" width="2.69" height="11.53" fill="#c94b64"/>
<rect x="439.51" y="32.48" width="2.69" height="11.53" fill="#ac3e77"/>
<rect x="441.84" y="32.48" width="2.69" height="11.53" fill="#b04075"/>
<rect x="444.18" y="32.48" width="2.69" height="11.53" fill="#d55258"/>
<rect x="446.51" y="32.48" width="2.69" height="11.53" fill="#d65356"/>
<rect x="448.85" y="32.48" width="2.69" height="11.53" fill="#c74a67"/>
<rect x="451.19" y="32.48" width="2.69" height="11.53" fill="#e86b38"/>
<rect x="453.52" y="32.48" width="2.69" height="11.53" fill="#d85454"/>
<rect x="455.86" y="32.48" width="2.69" height="11.53" fill="#da5552"/>
<rect x="458.19" y="32.48" width="2.69" height="11.53" fill="#d04f5d"/>
<rect x="460.53" y="32.48" width="2.69" height="11.53" fill="#d14f5c"/>
<rect x="462.86" y="32.48" width="2.69" height="11.53" fill="#d04f5e"/>
<rect x="465.20" y="32.48" width="2.69" height="11.53" fill="#d1505c"/>
<rect x="467.53" y="32.48" width="2.69" height="11.53" fill="#cf4e5e"/>
<rect x="469.87" y="32.48" width="2.69" height="11.53" fill="#cf4f5e"/>
<rect x="472.20" y="32.48" width="2.69" height="11.53" fill="#cf4e5e"/>
<rect x="474.54" y="32.48" width="2.69" height="11.53" fill="#dd584d"/>
<rect x="476.87" y="32.48" width="2.69" height="11.53" fill="#d3515a"/>
<rect x="479.21" y="32.48" width="2.69" height="11.53" fill="#cc4d61"/>
<rect x="481.55" y="32.48" width="2.69" height="11.53" fill="#cd4d61"/>
<rect x="483.88" y="32.48" width="2.69" height="11.53" fill="#c94b64"/>
<rect x="486.22" y="32.48" width="2.69" height="11.53" fill="#cf4e5e"/>
<rect x="488.55" y="32.48" width="2.69" height="11.53" fill="#ce4e5f"/>
<rect x="490.89" y="32.48" width="2.69" height="11.53" fill="#cb4c62"/>
<rect x="493.22" y="32.48" width="2.69" height="11.53" fill="#cc4d61"/>
<rect x="495.56" y="32.48" width="2.69" height="11.53" fill="#ce4e60"/>
<rect x="497.89" y="32.48" width="2.69" height="11.53" fill="#c84a65"/>
<rect x="500.23" y="32.48" width="2.69" height="11.53" fill="#cc4d61"/>
<rect x="502.56" y="32.48" width="2.69" height="11.53" fill="#f1862a"/>
<rect x="504.90" y="32.48" width="2.69" height="11.53" fill="#f49626"/>
<rect x="507.23" y="32.48" width="2.69" height="11.53" fill="#f59825"/>
<rect x="509.57" y="32.48" width="2.69" height="11.53" fill="#fcdb75"/>
<rect x="511.91" y="32.48" width="2.69" height="11.53" fill="#f9ab27"/>
<rect x="514.24" y="32.48" width="2.69" height="11.53" fill="#ee7c2f"/>
<rect x="516.58" y="32.48" width="2.69" height="11.53" fill="#d2505a"/>
<rect x="518.91" y="32.48" width="2.69" height="11.53" fill="#f9ac29"/>
<rect x="521.25" y="32.48" width="2.69" height="11.53" fill="#f8a824"/>
<rect x="523.58" y="32.48" width="2.69" height="11.53" fill="#d3515a"/>
<rect x="525.92" y="32.48" width="2.69" height="11.53" fill="#ea7134"/>
<rect x="528.25" y="32.48" width="2.69" height="11.53" fill="#f9ae2b"/>
<rect x="530.59" y="32.48" width="2.69" height="11.53" fill="#fccf5e"/>
<rect x="532.92" y="32.48" width="2.69" height="11.53" fill="#f7a323"/>
<rect x="535.26" y="32.48" width="2.69" height="11.53" fill="#f69b24"/>
<rect x="537.59" y="32.48" width="2.69" height="11.53" fill="#fab836"/>
<rect x="539.93" y="32.48" width="2.69" height="11.53" fill="#f28b28"/>
<rect x="542.27" y="32.48" width="2.69" height="11.53" fill="#f49326"/>
<rect x="544.60" y="32.48" width="2.69" height="11.53" fill="#f8a422"/>
<rect x="546.94" y="32.48" width="2.69" height="11.53" fill="#f9ad2a"/>
<rect x="549.27" y="32.48" width="2.69" height="11.53" fill="#f7a323"/>
<rect x="551.61" y="32.48" width="2.69" height="11.53" fill="#f38c27"/>
<rect x="553.94" y="32.48" width="2.69" height="11.53" fill="#f7a223"/>
<rect x="556.28" y="32.48" width="2.69" height="11.53" fill="#f7a323"/>
<rect x="558.61" y="32.48" width="2.69" height="11.53" fill="#f69d24"/>
<rect x="560.95" y="32.48" width="2.69" height="11.53" fill="#faba39"/>
<rect x="563.28" y="32.48" width="2.69" height="11.53" fill="#f69c24"/>
<rect x="565.62" y="32.48" width="2.69" height="11.53" fill="#f0852b"/>
<rect x="567.96" y="32.48" width="2.69" height="11.53" fill="#be466d"/>
<rect x="570.29" y="32.48" width="2.69" height="11.53" fill="#f8a422"/>
<rect x="572.63" y="32.48" width="2.69" height="11.53" fill="#f9af2d"/>
<rect x="574.96" y="32.48" width="2.69" height="11.53" fill="#f49226"/>
<rect x="577.30" y="32.48" width="2.69" height="11.53" fill="#c3486b"/>
<rect x="579.63" y="32.48" width="2.69" height="11.53" fill="#f7a323"/>
<rect x="581.97" y="32.48" width="2.69" height="11.53" fill="#f8a522"/>
<rect x="584.30" y="32.48" width="2.69" height="11.53" fill="#faba39"/>
<rect x="586.64" y="32.48" width="2.69" height="11.53" fill="#fccf5d"/>
<rect x="588.97" y="32.48" width="2.69" height="11.53" fill="#fab432"/>
<rect x="591.31" y="32.48" width="2.69" height="11.53" fill="#f28928"/>
<rect x="593.64" y="32.48" width="2.69" height="11.53" fill="#e6673b"/>
<rect x="595.98" y="32.48" width="2.69" height="11.53" fill="#d14f5c"/>
<rect x="598.32" y="32.48" width="2.69" height="11.53" fill="#f39027"/>
<rect x="600.65" y="32.48" width="2.69" height="11.53" fill="#f1852a"/>
<rect x="602.99" y="32.48" width="2.69" height="11.53" fill="#f9ae2b"/>
<rect x="605.32" y="32.48" width="2.69" height="11.53" fill="#fccf5d"/>
<rect x="607.66" y="32.48" width="2.69" height="11.53" fill="#c74a66"/>
<rect x="609.99" y="32.48" width="2.69" height="11.53" fill="#cf4f5e"/>
<rect x="612.33" y="32.48" width="2.69" height="11.53" fill="#f8aa27"/>
<rect x="614.66" y="32.48" width="2.69" height="11.53" fill="#fcd365"/>
<rect x="617.00" y="32.48" width="2.69" height="11.53" fill="#cc4d61"/>
<rect x="619.33" y="32.48" width="2.69" height="11.53" fill="#fab735"/>
<rect x="621.67" y="32.48" width="2.69" height="11.53" fill="#f9b230"/>
<rect x="624.00" y="32.48" width="2.69" height="11.53" fill="#f7a223"/>
<rect x="626.34" y="32.48" width="2.69" height="11.53" fill="#fab432"/>
<rect x="628.68" y="32.48" width="2.69" height="11.53" fill="#f8a522"/>
<rect x="631.01" y="32.48" width="2.69" height="11.53" fill="#e25f45"/>
<rect x="633.35" y="32.48" width="2.69" height="11.53" fill="#f28a28"/>
<rect x="635.68" y="32.48" width="2.69" height="11.53" fill="#f69d24"/>
<rect x="638.02" y="32.48" width="2.69" height="11.53" fill="#fbbc3b"/>
<rect x="640.35" y="32.48" width="2.69" height="11.53" fill="#fbc64b"/>
<rect x="642.69" y="32.48" width="2.69" height="11.53" fill="#faba39"/>
<rect x="645.02" y="32.48" width="2.69" height="11.53" fill="#f49526"/>
<rect x="647.36" y="32.48" width="2.69" height="11.53" fill="#f49626"/>
<rect x="649.69" y="32.48" width="2.69" height="11.53" fill="#f28c28"/>
<rect x="652.03" y="32.48" width="2.69" height="11.53" fill="#f8aa26"/>
<rect x="654.36" y="32.48" width="2.69" height="11.53" fill="#f9b02e"/>
<rect x="241.00" y="43.67" width="2.69" height="11.53" fill="#c84a66"/>
<rect x="243.34" y="43.67" width="2.69" height="11.53" fill="#e26044"/>
<rect x="245.67" y="43.67" width="2.69" height="11.53" fill="#c4486a"/>
<rect x="248.01" y="43.67" width="2.69" height="11.53" fill="#d75355"/>
<rect x="250.34" y="43.67" width="2.69" height="11.53" fill="#d55258"/>
<rect x="252.68" y="43.67" width="2.69" height="11.53" fill="#db5552"/>
<rect x="255.01" y="43.67" width="2.69" height="11.53" fill="#dd574f"/>
<rect x="257.35" y="43.67" width="2.69" height="11.53" fill="#e15e46"/>
<rect x="259.68" y="43.67" width="2.69" height="11.53" fill="#d75355"/>
<rect x="262.02" y="43.67" width="2.69" height="11.53" fill="#b74272"/>
<rect x="264.35" y="43.67" width="2.69" height="11.53" fill="#de5a4c"/>
<rect x="266.69" y="43.67" width="2.69" height="11.53" fill="#c0466c"/>
<rect x="269.02" y="43.67" width="2.69" height="11.53" fill="#b44173"/>
<rect x="271.36" y="43.67" width="2.69" height="11.53" fill="#c0466c"/>
<rect x="273.70" y="43.67" width="2.69" height="11.53" fill="#d35159"/>
<rect x="276.03" y="43.67" width="2.69" height="11.53" fill="#dc574f"/>
<rect x="278.37" y="43.67" width="2.69" height="11.53" fill="#d75355"/>
<rect x="280.70" y="43.67" width="2.69" height="11.53" fill="#d85454"/>
<rect x="283.04" y="43.67" width="2.69" height="11.53" fill="#cb4c62"/>
<rect x="285.37" y="43.67" width="2.69" height="11.53" fill="#c1476c"/>
<rect x="287.71" y="43.67" width="2.69" height="11.53" fill="#de5a4b"/>
<rect x="290.04" y="43.67" width="2.69" height="11.53" fill="#c2476b"/>
<rect x="292.38" y="43.67" width="2.69" height="11.53" fill="#c1476c"/>
<rect x="294.71" y="43.67" width="2.69" height="11.53" fill="#d3515a"/>
<rect x="297.05" y="43.67" width="2.69" height="11.53" fill="#c94b64"/>
<rect x="299.38" y="43.67" width="2.69" height="11.53" fill="#d2505b"/>
<rect x="301.72" y="43.67" width="2.69" height="11.53" fill="#c84b65"/>
<rect x="304.06" y="43.67" width="2.69" height="11.53" fill="#d45158"/>
<rect x="306.39" y="43.67" width="2.69" height="11.53" fill="#d2505b"/>
<rect x="308.73" y="43.67" width="2.69" height="11.53" fill="#c3486b"/>
<rect x="311.06" y="43.67" width="2.69" height="11.53" fill="#bd456e"/>
<rect x="313.40" y="43.67" width="2.69" height="11.53" fill="#c0466d"/>
<rect x="315.73" y="43.67" width="2.69" height="11.53" fill="#ca4b64"/>
<rect x="318.07" y="43.67" width="2.69" height="11.53" fill="#a73b7a"/>
<rect x="320.40" y="43.67" width="2.69" height="11.53" fill="#bf466d"/>
<rect x="322.74" y="43.67" width="2.69" height="11.53" fill="#cf4f5e"/>
<rect x="325.07" y="43.67" width="2.69" height="11.53" fill="#c0466c"/>
<rect x="327.41" y="43.67" width="2.69" height="11.53" fill="#d45159"/>
<rect x="329.74" y="43.67" width="2.69" height="11.53" fill="#d55258"/>
<rect x="332.08" y="43.67" width="2.69" height="11.53" fill="#c84a65"/>
<rect x="334.42" y="43.67" width="2.69" height="11.53" fill="#c3476b"/>
<rect x="336.75" y="43.67" width="2.69" height="11.53" fill="#c64968"/>
<rect x="339.09" y="43.67" width="2.69" height="11.53" fill="#bd456e"/>
<rect x="341.42" y="43.67" width="2.69" height="11.53" fill="#b84371"/>
<rect x="343.76" y="43.67" width="2.69" height="11.53" fill="#d35159"/>
<rect x="346.09" y="43.67" width="2.69" height="11.53" fill="#d1505c"/>
<rect x="348.43" y="43.67" width="2.69" height="11.53" fill="#c3486b"/>
<rect x="350.76" y="43.67" width="2.69" height="11.53" fill="#bc456e"/>
<rect x="353.10" y="43.67" width="2.69" height="11.53" fill="#d75356"/>
<rect x="355.43" y="43.67" width="2.69" height="11.53" fill="#c94b65"/>
<rect x="357.77" y="43.67" width="2.69" height="11.53" fill="#d65356"/>
<rect x="360.11" y="43.67" width="2.69" height="11.53" fill="#c54968"/>
<rect x="362.44" y="43.67" width="2.69" height="11.53" fill="#d45159"/>
<rect x="364.78" y="43.67" width="2.69" height="11.53" fill="#c4486a"/>
<rect x="367.11" y="43.67" width="2.69" height="11.53" fill="#c1476b"/>
<rect x="369.45" y="43.67" width="2.69" height="11.53" fill="#cd4d60"/>
<rect x="371.78" y="43.67" width="2.69" height="11.53" fill="#cc4d61"/>
<rect x="374.12" y="43.67" width="2.69" height="11.53" fill="#cc4d61"/>
<rect x="376.45" y="43.67" width="2.69" height="11.53" fill="#dd574e"/>
<rect x="378.79" y="43.67" width="2.69" height="11.53" fill="#ce4e60"/>
<rect x="381.12" y="43.67" width="2.69" height="11.53" fill="#d75355"/>
<rect x="383.46" y="43.67" width="2.69" height="11.53" fill="#d2505b"/>
<rect x="385.79" y="43.67" width="2.69" height="11.53" fill="#c64968"/>
<rect x="388.13" y="43.67" width="2.69" height="11.53" fill="#c74a67"/>
<rect x="390.47" y="43.67" width="2.69" height="11.53" fill="#cc4d61"/>
<rect x="392.80" y="43.67" width="2.69" height="11.53" fill="#c54969"/>
<rect x="395.14" y="43.67" width="2.69" height="11.53" fill="#be466d"/>
<rect x="397.47" y="43.67" width="2.69" height="11.53" fill="#d04f5d"/>
<rect x="399.81" y="43.67" width="2.69" height="11.53" fill="#c94b65"/>
<rect x="402.14" y="43.67" width="2.69" height="11.53" fill="#ba4470"/>
<rect x="404.48" y="43.67" width="2.69" height="11.53" fill="#e05d48"/>
<rect x="406.81" y="43.67" width="2.69" height="11.53" fill="#cc4c62"/>
<rect x="409.15" y="43.67" width="2.69" height="11.53" fill="#c84b65"/>
<rect x="411.48" y="43.67" width="2.69" height="11.53" fill="#b44173"/>
<rect x="413.82" y="43.67" width="2.69" height="11.53" fill="#c54968"/>
<rect x="416.15" y="43.67" width="2.69" height="11.53" fill="#d95453"/>
<rect x="418.49" y="43.67" width="2.69" height="11.53" fill="#c54869"/>
<rect x="420.83" y="43.67" width="2.69" height="11.53" fill="#a93c79"/>
<rect x="423.16" y="43.67" width="2.69" height="11.53" fill="#d85454"/>
<rect x="425.50" y="43.67" width="2.69" height="11.53" fill="#d55258"/>
<rect x="427.83" y="43.67" width="2.69" height="11.53" fill="#d65356"/>
<rect x="430.17" y="43.67" width="2.69" height="11.53" fill="#ba4470"/>
<rect x="432.50" y="43.67" width="2.69" height="11.53" fill="#c4486a"/>
<rect x="434.84" y="43.67" width="2.69" height="11.53" fill="#c0466d"/>
<rect x="437.17" y="43.67" width="2.69" height="11.53" fill="#c0466c"/>
<rect x="439.51" y="43.67" width="2.69" height="11.53" fill="#a73b7a"/>
<rect x="441.84" y="43.67" width="2.69" height="11.53" fill="#c84b65"/>
<rect x="444.18" y="43.67" width="2.69" height="11.53" fill="#d75356"/>
<rect x="446.51" y="43.67" width="2.69" height="11.53" fill="#bf466d"/>
<rect x="448.85" y="43.67" width="2.69" height="11.53" fill="#cc4c62"/>
<rect x="451.19" y="43.67" width="2.69" height="11.53" fill="#e5653e"/>
<rect x="453.52" y="43.67" width="2.69" height="11.53" fill="#cd4d61"/>
<rect x="455.86" y="43.67" width="2.69" height="11.53" fill="#c94b64"/>
<rect x="458.19" y="43.67" width="2.69" height="11.53" fill="#d75355"/>
<rect x="460.53" y="43.67" width="2.69" height="11.53" fill="#c74a67"/>
<rect x="462.86" y="43.67" width="2.69" height="11.53" fill="#ca4c63"/>
<rect x="465.20" y="43.67" width="2.69" height="11.53" fill="#d95454"/>
<rect x="467.53" y="43.67" width="2.69" height="11.53" fill="#d14f5c"/>
<rect x="469.87" y="43.67" width="2.69" height="11.53" fill="#d3515a"/>
<rect x="472.20" y="43.67" width="2.69" height="11.53" fill="#c1476b"/>
<rect x="474.54" y="43.67" width="2.69" height="11.53" fill="#dd584e"/>
<rect x="476.87" y="43.67" width="2.69" height="11.53" fill="#d55257"/>
<rect x="479.21" y="43.67" width="2.69" height="11.53" fill="#cb4c62"/>
<rect x="481.55" y="43.67" width="2.69" height="11.53" fill="#ca4b64"/>
<rect x="483.88" y="43.67" width="2.69" height="11.53" fill="#cf4e5e"/>
<rect x="486.22" y="43.67" width="2.69" height="11.53" fill="#d2505b"/>
<rect x="488.55" y="43.67" width="2.69" height="11.53" fill="#ca4b64"/>
<rect x="490.89" y="43.67" width="2.69" height="11.53" fill="#c94b65"/>
<rect x="493.22" y="43.67" width="2.69" height="11.53" fill="#c94b65"/>
<rect x="495.56" y="43.67" width="2.69" height="11.53" fill="#d2505a"/>
<rect x="497.89" y="43.67" width="2.69" height="11.53" fill="#c64968"/>
<rect x="500.23" y="43.67" width="2.69" height="11.53" fill="#cb4c62"/>
<rect x="502.56" y="43.67" width="2.69" height="11.53" fill="#f79f23"/>
<rect x="504.90" y="43.67" width="2.69" height="11.53" fill="#f7a223"/>
<rect x="507.23" y="43.67" width="2.69" height="11.53" fill="#eb7334"/>
<rect x="509.57" y="43.67" width="2.69" height="11.53" fill="#f1852a"/>
<rect x="511.91" y="43.67" width="2.69" height="11.53" fill="#f8a723"/>
<rect x="514.24" y="43.67" width="2.69" height="11.53" fill="#f49226"/>
<rect x="516.58" y="43.67" width="2.69" height="11.53" fill="#e76939"/>
<rect x="518.91" y="43.67" width="2.69" height="11.53" fill="#f38e27"/>
<rect x="521.25" y="43.67" width="2.69" height="11.53" fill="#ef802d"/>
<rect x="523.58" y="43.67" width="2.69" height="11.53" fill="#f9b02e"/>
<rect x="525.92" y="43.67" width="2.69" height="11.53" fill="#f0832b"/>
<rect x="528.25" y="43.67" width="2.69" height="11.53" fill="#f59725"/>
<rect x="530.59" y="43.67" width="2.69" height="11.53" fill="#f9b331"/>
<rect x="532.92" y="43.67" width="2.69" height="11.53" fill="#fbcb56"/>
<rect x="535.26" y="43.67" width="2.69" height="11.53" fill="#f49526"/>
<rect x="537.59" y="43.67" width="2.69" height="11.53" fill="#f59725"/>
<rect x="539.93" y="43.67" width="2.69" height="11.53" fill="#ec7732"/>
<rect x="542.27" y="43.67" width="2.69" height="11.53" fill="#f49526"/>
<rect x="544.60" y="43.67" width="2.69" height="11.53" fill="#fbc448"/>
<rect x="546.94" y="43.67" width="2.69" height="11.53" fill="#fccd5b"/>
<rect x="549.27" y="43.67" width="2.69" height="11.53" fill="#f1862a"/>
<rect x="551.61" y="43.67" width="2.69" height="11.53" fill="#fab836"/>
<rect x="553.94" y="43.67" width="2.69" height="11.53" fill="#f69c24"/>
<rect x="556.28" y="43.67" width="2.69" height="11.53" fill="#f39027"/>
<rect x="558.61" y="43.67" width="2.69" height="11.53" fill="#f0852b"/>
<rect x="560.95" y="43.67" width="2.69" height="11.53" fill="#f9ae2b"/>
<rect x="563.28" y="43.67" width="2.69" height="11.53" fill="#f7a423"/>
<rect x="565.62" y="43.67" width="2.69" height="11.53" fill="#f18829"/>
<rect x="567.96" y="43.67" width="2.69" height="11.53" fill="#f8a926"/>
<rect x="570.29" y="43.67" width="2.69" height="11.53" fill="#f38e27"/>
<rect x="572.63" y="43.67" width="2.69" height="11.53" fill="#f8a925"/>
<rect x="574.96" y="43.67" width="2.69" height="11.53" fill="#ed7a30"/>
<rect x="577.30" y="43.67" width="2.69" height="11.53" fill="#f79f23"/>
<rect x="579.63" y="43.67" width="2.69" height="11.53" fill="#f59625"/>
<rect x="581.97" y="43.67" width="2.69" height="11.53" fill="#fbbe3d"/>
<rect x="584.30" y="43.67" width="2.69" height="11.53" fill="#f38e27"/>
<rect x="586.64" y="43.67" width="2.69" height="11.53" fill="#f9b331"/>
<rect x="588.97" y="43.67" width="2.69" height="11.53" fill="#f1862a"/>
<rect x="591.31" y="43.67" width="2.69" height="11.53" fill="#fcd365"/>
<rect x="593.64" y="43.67" width="2.69" height="11.53" fill="#f0842b"/>
<rect x="595.98" y="43.67" width="2.69" height="11.53" fill="#f9ab27"/>
<rect x="598.32" y="43.67" width="2.69" height="11.53" fill="#ed7b2f"/>
<rect x="600.65" y="43.67" width="2.69" height="11.53" fill="#f8a824"/>
<rect x="602.99" y="43.67" width="2.69" height="11.53" fill="#f8a926"/>
<rect x="605.32" y="43.67" width="2.69" height="11.53" fill="#f59a25"/>
<rect x="607.66" y="43.67" width="2.69" height="11.53" fill="#ed7930"/>
<rect x="609.99" y="43.67" width="2.69" height="11.53" fill="#fbc346"/>
<rect x="612.33" y="43.67" width="2.69" height="11.53" fill="#fcce5c"/>
<rect x="614.66" y="43.67" width="2.69" height="11.53" fill="#f59a25"/>
<rect x="617.00" y="43.67" width="2.69" height="11.53" fill="#fab533"/>
<rect x="619.33" y="43.67" width="2.69" height="11.53" fill="#f9b230"/>
<rect x="621.67" y="43.67" width="2.69" height="11.53" fill="#f9ad2b"/>
<rect x="624.00" y="43.67" width="2.69" height="11.53" fill="#f7a223"/>
<rect x="626.34" y="43.67" width="2.69" height="11.53" fill="#fbbd3c"/>
<rect x="628.68" y="43.67" width="2.69" height="11.53" fill="#f69e24"/>
<rect x="631.01" y="43.67" width="2.69" height="11.53" fill="#f7a023"/>
<rect x="633.35" y="43.67" width="2.69" height="11.53" fill="#fbc346"/>
<rect x="635.68" y="43.67" width="2.69" height="11.53" fill="#eb7532"/>
<rect x="638.02" y="43.67" width="2.69" height="11.53" fill="#f28a28"/>
<rect x="640.35" y="43.67" width="2.69" height="11.53" fill="#fbbd3d"/>
<rect x="642.69" y="43.67" width="2.69" height="11.53" fill="#fbc54a"/>
<rect x="645.02" y="43.67" width="2.69" height="11.53" fill="#d65356"/>
<rect x="647.36" y="43.67" width="2.69" height="11.53" fill="#f59a25"/>
<rect x="649.69" y="43.67" width="2.69" height="11.53" fill="#fab331"/>
<rect x="652.03" y="43.67" width="2.69" height="11.53" fill="#ea7134"/>
<rect x="654.36" y="43.67" width="2.69" height="11.53" fill="#f39127"/>
<rect x="241.00" y="54.85" width="2.69" height="11.53" fill="#cb4c62"/>
<rect x="243.34" y="54.85" width="2.69" height="11.53" fill="#e15e46"/>
<rect x="245.67" y="54.85" width="2.69" height="11.53" fill="#c64968"/>
<rect x="248.01" y="54.85" width="2.69" height="11.53" fill="#ba4470"/>
<rect x="250.34" y="54.85" width="2.69" height="11.53" fill="#e26044"/>
<rect x="252.68" y="54.85" width="2.69" height="11.53" fill="#d04f5d"/>
<rect x="255.01" y="54.85" width="2.69" height="11.53" fill="#dd584e"/>
<rect x="257.35" y="54.85" width="2.69" height="11.53" fill="#df5b49"/>
<rect x="259.68" y="54.85" width="2.69" height="11.53" fill="#dc5650"/>
<rect x="262.02" y="54.85" width="2.69" height="11.53" fill="#bd456e"/>
<rect x="264.35" y="54.85" width="2.69" height="11.53" fill="#d55258"/>
<rect x="266.69" y="54.85" width="2.69" height="11.53" fill="#cd4d60"/>
<rect x="269.02" y="54.85" width="2.69" height="11.53" fill="#bc446f"/>
<rect x="271.36" y="54.85" width="2.69" height="11.53" fill="#c84a66"/>
<rect x="273.70" y="54.85" width="2.69" height="11.53" fill="#d1505c"/>
<rect x="276.03" y="54.85" width="2.69" height="11.53" fill="#d45258"/>
<rect x="278.37" y="54.85" width="2.69" height="11.53" fill="#cd4e60"/>
<rect x="280.70" y="54.85" width="2.69" height="11.53" fill="#ca4b64"/>
<rect x="283.04" y="54.85" width="2.69" height="11.53" fill="#ca4c63"/>
<rect x="285.37" y="54.85" width="2.69" height="11.53" fill="#c94b65"/>
<rect x="287.71" y="54.85" width="2.69" height="11.53" fill="#d3515a"/>
<rect x="290.04" y="54.85" width="2.69" height="11.53" fill="#b94371"/>
<rect x="292.38" y="54.85" width="2.69" height="11.53" fill="#ab3d78"/>
<rect x="294.71" y="54.85" width="2.69" height="11.53" fill="#c84a66"/>
<rect x="297.05" y="54.85" width="2.69" height="11.53" fill="#d1505c"/>
<rect x="299.38" y="54.85" width="2.69" height="11.53" fill="#c3486b"/>
<rect x="301.72" y="54.85" width="2.69" height="11.53" fill="#cc4d61"/>
<rect x="304.06" y="54.85" width="2.69" height="11.53" fill="#d2505b"/>
<rect x="306.39" y="54.85" width="2.69" height="11.53" fill="#c64968"/>
<rect x="308.73" y="54.85" width="2.69" height="11.53" fill="#ca4c63"/>
<rect x="311.06" y="54.85" width="2.69" height="11.53" fill="#bc446f"/>
<rect x="313.40" y="54.85" width="2.69" height="11.53" fill="#c74a67"/>
<rect x="315.73" y="54.85" width="2.69" height="11.53" fill="#be456e"/>
<rect x="318.07" y="54.85" width="2.69" height="11.53" fill="#a83c7a"/>
<rect x="320.40" y="54.85" width="2.69" height="11.53" fill="#c0466c"/>
<rect x="322.74" y="54.85" width="2.69" height="11.53" fill="#cb4c63"/>
<rect x="325.07" y="54.85" width="2.69" height="11.53" fill="#c4486a"/>
<rect x="327.41" y="54.85" width="2.69" height="11.53" fill="#cd4d60"/>
<rect x="329.74" y="54.85" width="2.69" height="11.53" fill="#d75355"/>
<rect x="332.08" y="54.85" width="2.69" height="11.53" fill="#cb4c62"/>
<rect x="334.42" y="54.85" width="2.69" height="11.53" fill="#ab3d79"/>
<rect x="336.75" y="54.85" width="2.69" height="11.53" fill="#ba4470"/>
<rect x="339.09" y="54.85" width="2.69" height="11.53" fill="#bb446f"/>
<rect x="341.42" y="54.85" width="2.69" height="11.53" fill="#bb446f"/>
<rect x="343.76" y="54.85" width="2.69" height="11.53" fill="#c3486a"/>
<rect x="346.09" y="54.85" width="2.69" height="11.53" fill="#c64968"/>
<rect x="348.43" y="54.85" width="2.69" height="11.53" fill="#c54969"/>
<rect x="350.76" y="54.85" width="2.69" height="11.53" fill="#b94370"/>
<rect x="353.10" y="54.85" width="2.69" height="11.53" fill="#c74a67"/>
<rect x="355.43" y="54.85" width="2.69" height="11.53" fill="#d65356"/>
<rect x="357.77" y="54.85" width="2.69" height="11.53" fill="#cd4d61"/>
<rect x="360.11" y="54.85" width="2.69" height="11.53" fill="#c64967"/>
<rect x="362.44" y="54.85" width="2.69" height="11.53" fill="#c84a66"/>
<rect x="364.78" y="54.85" width="2.69" height="11.53" fill="#bc456f"/>
<rect x="367.11" y="54.85" width="2.69" height="11.53" fill="#c84a66"/>
<rect x="369.45" y="54.85" width="2.69" height="11.53" fill="#bb446f"/>
<rect x="371.78" y="54.85" width="2.69" height="11.53" fill="#bc456e"/>
<rect x="374.12" y="54.85" width="2.69" height="11.53" fill="#c84a66"/>
<rect x="376.45" y="54.85" width="2.69" height="11.53" fill="#d85454"/>
<rect x="378.79" y="54.85" width="2.69" height="11.53" fill="#bd456e"/>
<rect x="381.12" y="54.85" width="2.69" height="11.53" fill="#ca4b64"/>
<rect x="383.46" y="54.85" width="2.69" height="11.53" fill="#cd4d61"/>
<rect x="385.79" y="54.85" width="2.69" height="11.53" fill="#c74a66"/>
<rect x="388.13" y="54.85" width="2.69" height="11.53" fill="#ce4e5f"/>
<rect x="390.47" y="54.85" width="2.69" height="11.53" fill="#c1476c"/>
<rect x="392.80" y="54.85" width="2.69" height="11.53" fill="#b54173"/>
<rect x="395.14" y="54.85" width="2.69" height="11.53" fill="#ae3f76"/>
<rect x="397.47" y="54.85" width="2.69" height="11.53" fill="#d45159"/>
<rect x="399.81" y="54.85" width="2.69" height="11.53" fill="#b94370"/>
<rect x="402.14" y="54.85" width="2.69" height="11.53" fill="#cc4c62"/>
<rect x="404.48" y="54.85" width="2.69" height="11.53" fill="#cd4d61"/>
<rect x="406.81" y="54.85" width="2.69" height="11.53" fill="#b84371"/>
<rect x="409.15" y="54.85" width="2.69" height="11.53" fill="#cd4d60"/>
<rect x="411.48" y="54.85" width="2.69" height="11.53" fill="#b84371"/>
<rect x="413.82" y="54.85" width="2.69" height="11.53" fill="#c74a67"/>
<rect x="416.15" y="54.85" width="2.69" height="11.53" fill="#c64968"/>
<rect x="418.49" y="54.85" width="2.69" height="11.53" fill="#bd456e"/>
<rect x="420.83" y="54.85" width="2.69" height="11.53" fill="#b44173"/>
<rect x="423.16" y="54.85" width="2.69" height="11.53" fill="#d55258"/>
<rect x="425.50" y="54.85" width="2.69" height="11.53" fill="#c3486a"/>
<rect x="427.83" y="54.85" width="2.69" height="11.53" fill="#c4486a"/>
<rect x="430.17" y="54.85" width="2.69" height="11.53" fill="#ba4470"/>
<rect x="432.50" y="54.85" width="2.69" height="11.53" fill="#c0466c"/>
<rect x="434.84" y="54.85" width="2.69" height="11.53" fill="#c1476c"/>
<rect x="437.17" y="54.85" width="2.69" height="11.53" fill="#c64967"/>
<rect x="439.51" y="54.85" width="2.69" height="11.53" fill="#a43a7a"/>
<rect x="441.84" y="54.85" width="2.69" height="11.53" fill="#b94370"/>
<rect x="444.18" y="54.85" width="2.69" height="11.53" fill="#d45159"/>
<rect x="446.51" y="54.85" width="2.69" height="11.53" fill="#c44869"/>
<rect x="448.85" y="54.85" width="2.69" height="11.53" fill="#c1476c"/>
<rect x="451.19" y="54.85" width="2.69" height="11.53" fill="#da5552"/>
<rect x="453.52" y="54.85" width="2.69" height="11.53" fill="#cc4c62"/>
<rect x="455.86" y="54.85" width="2.69" height="11.53" fill="#d45159"/>
<rect x="458.19" y="54.85" width="2.69" height="11.53" fill="#cd4d60"/>
<rect x="460.53" y="54.85" width="2.69" height="11.53" fill="#c4486a"/>
<rect x="462.86" y="54.85" width="2.69" height="11.53" fill="#b74371"/>
<rect x="465.20" y="54.85" width="2.69" height="11.53" fill="#ca4b64"/>
<rect x="467.53" y="54.85" width="2.69" height="11.53" fill="#c74a67"/>
<rect x="469.87" y="54.85" width="2.69" height="11.53" fill="#cc4d61"/>
<rect x="472.20" y="54.85" width="2.69" height="11.53" fill="#c1476c"/>
<rect x="474.54" y="54.85" width="2.69" height="11.53" fill="#d75356"/>
<rect x="476.87" y="54.85" width="2.69" height="11.53" fill="#cd4d60"/>
<rect x="479.21" y="54.85" width="2.69" height="11.53" fill="#af3f76"/>
<rect x="481.55" y="54.85" width="2.69" height="11.53" fill="#c94b65"/>
<rect x="483.88" y="54.85" width="2.69" height="11.53" fill="#cc4d61"/>
<rect x="486.22" y="54.85" width="2.69" height="11.53" fill="#ca4b64"/>
<rect x="488.55" y="54.85" width="2.69" height="11.53" fill="#c74a66"/>
<rect x="490.89" y="54.85" width="2.69" height="11.53" fill="#ca4c63"/>
<rect x="493.22" y="54.85" width="2.69" height="11.53" fill="#c74a67"/>
<rect x="495.56" y="54.85" width="2.69" height="11.53" fill="#cc4d61"/>
<rect x="497.89" y="54.85" width="2.69" height="11.53" fill="#ca4c63"/>
<rect x="500.23" y="54.85" width="2.69" height="11.53" fill="#ca4b64"/>
<rect x="502.56" y="54.85" width="2.69" height="11.53" fill="#f28929"/>
<rect x="504.90" y="54.85" width="2.69" height="11.53" fill="#e36142"/>
<rect x="507.23" y="54.85" width="2.69" height="11.53" fill="#f59625"/>
<rect x="509.57" y="54.85" width="2.69" height="11.53" fill="#e86939"/>
<rect x="511.91" y="54.85" width="2.69" height="11.53" fill="#f1862a"/>
<rect x="514.24" y="54.85" width="2.69" height="11.53" fill="#e7693a"/>
<rect x="516.58" y="54.85" width="2.69" height="11.53" fill="#f0832b"/>
<rect x="518.91" y="54.85" width="2.69" height="11.53" fill="#e36241"/>
<rect x="521.25" y="54.85" width="2.69" height="11.53" fill="#c94b64"/>
<rect x="523.58" y="54.85" width="2.69" height="11.53" fill="#ed7a30"/>
<rect x="525.92" y="54.85" width="2.69" height="11.53" fill="#e36242"/>
<rect x="528.25" y="54.85" width="2.69" height="11.53" fill="#de594d"/>
<rect x="530.59" y="54.85" width="2.69" height="11.53" fill="#ec7532"/>
<rect x="532.92" y="54.85" width="2.69" height="11.53" fill="#ea6f35"/>
<rect x="535.26" y="54.85" width="2.69" height="11.53" fill="#f1862a"/>
<rect x="537.59" y="54.85" width="2.69" height="11.53" fill="#f0852b"/>
<rect x="539.93" y="54.85" width="2.69" height="11.53" fill="#ea7134"/>
<rect x="542.27" y="54.85" width="2.69" height="11.53" fill="#fab331"/>
<rect x="544.60" y="54.85" width="2.69" height="11.53" fill="#fbcc57"/>
<rect x="546.94" y="54.85" width="2.69" height="11.53" fill="#e96c37"/>
<rect x="549.27" y="54.85" width="2.69" height="11.53" fill="#f49226"/>
<rect x="551.61" y="54.85" width="2.69" height="11.53" fill="#f0832b"/>
<rect x="553.94" y="54.85" width="2.69" height="11.53" fill="#f38d27"/>
<rect x="556.28" y="54.85" width="2.69" height="11.53" fill="#df5b4a"/>
<rect x="558.61" y="54.85" width="2.69" height="11.53" fill="#e15e46"/>
<rect x="560.95" y="54.85" width="2.69" height="11.53" fill="#ed7831"/>
<rect x="563.28" y="54.85" width="2.69" height="11.53" fill="#ee7d2f"/>
<rect x="565.62" y="54.85" width="2.69" height="11.53" fill="#d85455"/>
<rect x="567.96" y="54.85" width="2.69" height="11.53" fill="#f38e27"/>
<rect x="570.29" y="54.85" width="2.69" height="11.53" fill="#f38d27"/>
<rect x="572.63" y="54.85" width="2.69" height="11.53" fill="#f8a925"/>
<rect x="574.96" y="54.85" width="2.69" height="11.53" fill="#f28928"/>
<rect x="577.30" y="54.85" width="2.69" height="11.53" fill="#ee7c2f"/>
<rect x="579.63" y="54.85" width="2.69" height="11.53" fill="#f28929"/>
<rect x="581.97" y="54.85" width="2.69" height="11.53" fill="#f7a023"/>
<rect x="584.30" y="54.85" width="2.69" height="11.53" fill="#fcd971"/>
<rect x="586.64" y="54.85" width="2.69" height="11.53" fill="#f59625"/>
<rect x="588.97" y="54.85" width="2.69" height="11.53" fill="#e76939"/>
<rect x="591.31" y="54.85" width="2.69" height="11.53" fill="#e5653e"/>
<rect x="593.64" y="54.85" width="2.69" height="11.53" fill="#df5b4a"/>
<rect x="595.98" y="54.85" width="2.69" height="11.53" fill="#eb7533"/>
<rect x="598.32" y="54.85" width="2.69" height="11.53" fill="#d45159"/>
<rect x="600.65" y="54.85" width="2.69" height="11.53" fill="#df5b49"/>
<rect x="602.99" y="54.85" width="2.69" height="11.53" fill="#f59725"/>
<rect x="605.32" y="54.85" width="2.69" height="11.53" fill="#f28928"/>
<rect x="607.66" y="54.85" width="2.69" height="11.53" fill="#ea7035"/>
<rect x="609.99" y="54.85" width="2.69" height="11.53" fill="#fbc245"/>
<rect x="612.33" y="54.85" width="2.69" height="11.53" fill="#d2505b"/>
<rect x="614.66" y="54.85" width="2.69" height="11.53" fill="#cc4c62"/>
<rect x="617.00" y="54.85" width="2.69" height="11.53" fill="#c2476b"/>
<rect x="619.33" y="54.85" width="2.69" height="11.53" fill="#ce4e5f"/>
<rect x="621.67" y="54.85" width="2.69" height="11.53" fill="#ea7234"/>
<rect x="624.00" y="54.85" width="2.69" height="11.53" fill="#f1862a"/>
<rect x="626.34" y="54.85" width="2.69" height="11.53" fill="#f59725"/>
<rect x="628.68" y="54.85" width="2.69" height="11.53" fill="#f39127"/>
<rect x="631.01" y="54.85" width="2.69" height="11.53" fill="#f69b24"/>
<rect x="633.35" y="54.85" width="2.69" height="11.53" fill="#e86a38"/>
<rect x="635.68" y="54.85" width="2.69" height="11.53" fill="#f59a25"/>
<rect x="638.02" y="54.85" width="2.69" height="11.53" fill="#f28a28"/>
<rect x="640.35" y="54.85" width="2.69" height="11.53" fill="#fbcb55"/>
<rect x="642.69" y="54.85" width="2.69" height="11.53" fill="#f8a522"/>
<rect x="645.02" y="54.85" width="2.69" height="11.53" fill="#f9b230"/>
<rect x="647.36" y="54.85" width="2.69" height="11.53" fill="#ed7931"/>
<rect x="649.69" y="54.85" width="2.69" height="11.53" fill="#f69c24"/>
<rect x="652.03" y="54.85" width="2.69" height="11.53" fill="#fab331"/>
<rect x="654.36" y="54.85" width="2.69" height="11.53" fill="#f7a023"/>
<rect x="241.00" y="66.03" width="2.69" height="11.53" fill="#c94b64"/>
<rect x="243.34" y="66.03" width="2.69" height="11.53" fill="#d75355"/>
<rect x="245.67" y="66.03" width="2.69" height="11.53" fill="#c74a67"/>
<rect x="248.01" y="66.03" width="2.69" height="11.53" fill="#b14075"/>
<rect x="250.34" y="66.03" width="2.69" height="11.53" fill="#da5553"/>
<rect x="252.68" y="66.03" width="2.69" height="11.53" fill="#bc456e"/>
<rect x="255.01" y="66.03" width="2.69" height="11.53" fill="#cd4d61"/>
<rect x="257.35" y="66.03" width="2.69" height="11.53" fill="#d1505c"/>
<rect x="259.68" y="66.03" width="2.69" height="11.53" fill="#d45159"/>
<rect x="262.02" y="66.03" width="2.69" height="11.53" fill="#ab3d78"/>
<rect x="264.35" y="66.03" width="2.69" height="11.53" fill="#ba4470"/>
<rect x="266.69" y="66.03" width="2.69" height="11.53" fill="#b44173"/>
<rect x="269.02" y="66.03" width="2.69" height="11.53" fill="#ac3e78"/>
<rect x="271.36" y="66.03" width="2.69" height="11.53" fill="#bc456e"/>
<rect x="273.70" y="66.03" width="2.69" height="11.53" fill="#bf466d"/>
<rect x="276.03" y="66.03" width="2.69" height="11.53" fill="#c4486a"/>
<rect x="278.37" y="66.03" width="2.69" height="11.53" fill="#cd4d60"/>
<rect x="280.70" y="66.03" width="2.69" height="11.53" fill="#be466d"/>
<rect x="283.04" y="66.03" width="2.69" height="11.53" fill="#bb446f"/>
<rect x="285.37" y="66.03" width="2.69" height="11.53" fill="#bc446f"/>
<rect x="287.71" y="66.03" width="2.69" height="11.53" fill="#c94b64"/>
<rect x="290.04" y="66.03" width="2.69" height="11.53" fill="#c54969"/>
<rect x="292.38" y="66.03" width="2.69" height="11.53" fill="#bb446f"/>
<rect x="294.71" y="66.03" width="2.69" height="11.53" fill="#bd456e"/>
<rect x="297.05" y="66.03" width="2.69" height="11.53" fill="#c64968"/>
<rect x="299.38" y="66.03" width="2.69" height="11.53" fill="#be466d"/>
<rect x="301.72" y="66.03" width="2.69" height="11.53" fill="#c64968"/>
<rect x="304.06" y="66.03" width="2.69" height="11.53" fill="#d75356"/>
<rect x="306.39" y="66.03" width="2.69" height="11.53" fill="#ca4b64"/>
<rect x="308.73" y="66.03" width="2.69" height="11.53" fill="#ac3e77"/>
<rect x="311.06" y="66.03" width="2.69" height="11.53" fill="#af3f76"/>
<rect x="313.40" y="66.03" width="2.69" height="11.53" fill="#c84b65"/>
<rect x="315.73" y="66.03" width="2.69" height="11.53" fill="#c94b65"/>
<rect x="318.07" y="66.03" width="2.69" height="11.53" fill="#a3397a"/>
<rect x="320.40" y="66.03" width="2.69" height="11.53" fill="#c2476b"/>
<rect x="322.74" y="66.03" width="2.69" height="11.53" fill="#cb4c62"/>
<rect x="325.07" y="66.03" width="2.69" height="11.53" fill="#bb446f"/>
<rect x="327.41" y="66.03" width="2.69" height="11.53" fill="#d85454"/>
<rect x="329.74" y="66.03" width="2.69" height="11.53" fill="#dc5650"/>
<rect x="332.08" y="66.03" width="2.69" height="11.53" fill="#b94370"/>
<rect x="334.42" y="66.03" width="2.69" height="11.53" fill="#bc456e"/>
<rect x="336.75" y="66.03" width="2.69" height="11.53" fill="#d14f5c"/>
<rect x="339.09" y="66.03" width="2.69" height="11.53" fill="#be456e"/>
<rect x="341.42" y="66.03" width="2.69" height="11.53" fill="#be456d"/>
<rect x="343.76" y="66.03" width="2.69" height="11.53" fill="#c74a67"/>
<rect x="346.09" y="66.03" width="2.69" height="11.53" fill="#cf4f5e"/>
<rect x="348.43" y="66.03" width="2.69" height="11.53" fill="#c54969"/>
<rect x="350.76" y="66.03" width="2.69" height="11.53" fill="#ab3d78"/>
<rect x="353.10" y="66.03" width="2.69" height="11.53" fill="#d45159"/>
<rect x="355.43" y="66.03" width="2.69" height="11.53" fill="#d04f5d"/>
<rect x="357.77" y="66.03" width="2.69" height="11.53" fill="#c0466c"/>
<rect x="360.11" y="66.03" width="2.69" height="11.53" fill="#c4486a"/>
<rect x="362.44" y="66.03" width="2.69" height="11.53" fill="#c94b65"/>
<rect x="364.78" y="66.03" width="2.69" height="11.53" fill="#b84371"/>
<rect x="367.11" y="66.03" width="2.69" height="11.53" fill="#c54969"/>
<rect x="369.45" y="66.03" width="2.69" height="11.53" fill="#c64968"/>
<rect x="371.78" y="66.03" width="2.69" height="11.53" fill="#b84371"/>
<rect x="374.12" y="66.03" width="2.69" height="11.53" fill="#ca4c63"/>
<rect x="376.45" y="66.03" width="2.69" height="11.53" fill="#cd4d61"/>
<rect x="378.79" y="66.03" width="2.69" height="11.53" fill="#bb446f"/>
<rect x="381.12" y="66.03" width="2.69" height="11.53" fill="#af3f76"/>
<rect x="383.46" y="66.03" width="2.69" height="11.53" fill="#c2476b"/>
<rect x="385.79" y="66.03" width="2.69" height="11.53" fill="#bf466d"/>
<rect x="388.13" y="66.03" width="2.69" height="11.53" fill="#c0466d"/>
<rect x="390.47" y="66.03" width="2.69" height="11.53" fill="#b84371"/>
<rect x="392.80" y="66.03" width="2.69" height="11.53" fill="#b54173"/>
<rect x="395.14" y="66.03" width="2.69" height="11.53" fill="#95327b"/>
<rect x="397.47" y="66.03" width="2.69" height="11.53" fill="#b24074"/>
<rect x="399.81" y="66.03" width="2.69" height="11.53" fill="#b74371"/>
<rect x="402.14" y="66.03" width="2.69" height="11.53" fill="#b34174"/>
<rect x="404.48" y="66.03" width="2.69" height="11.53" fill="#d45159"/>
<rect x="406.81" y="66.03" width="2.69" height="11.53" fill="#c64968"/>
<rect x="409.15" y="66.03" width="2.69" height="11.53" fill="#c4486a"/>
<rect x="411.48" y="66.03" width="2.69" height="11.53" fill="#af3f76"/>
<rect x="413.82" y="66.03" width="2.69" height="11.53" fill="#a43a7a"/>
<rect x="416.15" y="66.03" width="2.69" height="11.53" fill="#b84371"/>
<rect x="418.49" y="66.03" width="2.69" height="11.53" fill="#c0466c"/>
<rect x="420.83" y="66.03" width="2.69" height="11.53" fill="#b94370"/>
<rect x="423.16" y="66.03" width="2.69" height="11.53" fill="#ca4c63"/>
<rect x="425.50" y="66.03" width="2.69" height="11.53" fill="#c84a66"/>
<rect x="427.83" y="66.03" width="2.69" height="11.53" fill="#bf466d"/>
<rect x="430.17" y="66.03" width="2.69" height="11.53" fill="#ba4470"/>
<rect x="432.50" y="66.03" width="2.69" height="11.53" fill="#b74371"/>
<rect x="434.84" y="66.03" width="2.69" height="11.53" fill="#a2397a"/>
<rect x="437.17" y="66.03" width="2.69" height="11.53" fill="#b94370"/>
<rect x="439.51" y="66.03" width="2.69" height="11.53" fill="#ae3f77"/>
<rect x="441.84" y="66.03" width="2.69" height="11.53" fill="#a63b7a"/>
<rect x="444.18" y="66.03" width="2.69" height="11.53" fill="#cd4d60"/>
<rect x="446.51" y="66.03" width="2.69" height="11.53" fill="#bc446f"/>
<rect x="448.85" y="66.03" width="2.69" height="11.53" fill="#c1476c"/>
<rect x="451.19" y="66.03" width="2.69" height="11.53" fill="#cd4d60"/>
<rect x="453.52" y="66.03" width="2.69" height="11.53" fill="#c54869"/>
<rect x="455.86" y="66.03" width="2.69" height="11.53" fill="#c84a66"/>
<rect x="458.19" y="66.03" width="2.69" height="11.53" fill="#d45159"/>
<rect x="460.53" y="66.03" width="2.69" height="11.53" fill="#bd456e"/>
<rect x="462.86" y="66.03" width="2.69" height="11.53" fill="#a1387b"/>
<rect x="465.20" y="66.03" width="2.69" height="11.53" fill="#b74271"/>
<rect x="467.53" y="66.03" width="2.69" height="11.53" fill="#af3f76"/>
<rect x="469.87" y="66.03" width="2.69" height="11.53" fill="#bc456e"/>
<rect x="472.20" y="66.03" width="2.69" height="11.53" fill="#b54272"/>
<rect x="474.54" y="66.03" width="2.69" height="11.53" fill="#d65257"/>
<rect x="476.87" y="66.03" width="2.69" height="11.53" fill="#c54969"/>
<rect x="479.21" y="66.03" width="2.69" height="11.53" fill="#ab3d78"/>
<rect x="481.55" y="66.03" width="2.69" height="11.53" fill="#cf4e5f"/>
<rect x="483.88" y="66.03" width="2.69" height="11.53" fill="#c74a66"/>
<rect x="486.22" y="66.03" width="2.69" height="11.53" fill="#c94b65"/>
<rect x="488.55" y="66.03" width="2.69" height="11.53" fill="#c54869"/>
<rect x="490.89" y="66.03" width="2.69" height="11.53" fill="#ca4b64"/>
<rect x="493.22" y="66.03" width="2.69" height="11.53" fill="#cb4c63"/>
<rect x="495.56" y="66.03" width="2.69" height="11.53" fill="#c4486a"/>
<rect x="497.89" y="66.03" width="2.69" height="11.53" fill="#ca4c63"/>
<rect x="500.23" y="66.03" width="2.69" height="11.53" fill="#c74a66"/>
<rect x="502.56" y="66.03" width="2.69" height="11.53" fill="#bb446f"/>
<rect x="504.90" y="66.03" width="2.69" height="11.53" fill="#d35159"/>
<rect x="507.23" y="66.03" width="2.69" height="11.53" fill="#cd4d60"/>
<rect x="509.57" y="66.03" width="2.69" height="11.53" fill="#e05d48"/>
<rect x="511.91" y="66.03" width="2.69" height="11.53" fill="#eb7234"/>
<rect x="514.24" y="66.03" width="2.69" height="11.53" fill="#f0822c"/>
<rect x="516.58" y="66.03" width="2.69" height="11.53" fill="#df5b4a"/>
<rect x="518.91" y="66.03" width="2.69" height="11.53" fill="#d65257"/>
<rect x="521.25" y="66.03" width="2.69" height="11.53" fill="#8f2f7c"/>
<rect x="523.58" y="66.03" width="2.69" height="11.53" fill="#db5552"/>
<rect x="525.92" y="66.03" width="2.69" height="11.53" fill="#e46341"/>
<rect x="528.25" y="66.03" width="2.69" height="11.53" fill="#d55257"/>
<rect x="530.59" y="66.03" width="2.69" height="11.53" fill="#d14f5c"/>
<rect x="532.92" y="66.03" width="2.69" height="11.53" fill="#ea6f35"/>
<rect x="535.26" y="66.03" width="2.69" height="11.53" fill="#c74a66"/>
<rect x="537.59" y="66.03" width="2.69" height="11.53" fill="#92307c"/>
<rect x="539.93" y="66.03" width="2.69" height="11.53" fill="#e6663c"/>
<rect x="542.27" y="66.03" width="2.69" height="11.53" fill="#ea7135"/>
<rect x="544.60" y="66.03" width="2.69" height="11.53" fill="#e96c37"/>
<rect x="546.94" y="66.03" width="2.69" height="11.53" fill="#dd584e"/>
<rect x="549.27" y="66.03" width="2.69" height="11.53" fill="#ef7f2e"/>
<rect x="551.61" y="66.03" width="2.69" height="11.53" fill="#dd574e"/>
<rect x="553.94" y="66.03" width="2.69" height="11.53" fill="#ec7532"/>
<rect x="556.28" y="66.03" width="2.69" height="11.53" fill="#8c2d7c"/>
<rect x="558.61" y="66.03" width="2.69" height="11.53" fill="#a1387b"/>
<rect x="560.95" y="66.03" width="2.69" height="11.53" fill="#cf4e5f"/>
<rect x="563.28" y="66.03" width="2.69" height="11.53" fill="#d55258"/>
<rect x="565.62" y="66.03" width="2.69" height="11.53" fill="#dc5650"/>
<rect x="567.96" y="66.03" width="2.69" height="11.53" fill="#ea7035"/>
<rect x="570.29" y="66.03" width="2.69" height="11.53" fill="#de594c"/>
<rect x="572.63" y="66.03" width="2.69" height="11.53" fill="#e46340"/>
<rect x="574.96" y="66.03" width="2.69" height="11.53" fill="#e46341"/>
<rect x="577.30" y="66.03" width="2.69" height="11.53" fill="#d75356"/>
<rect x="579.63" y="66.03" width="2.69" height="11.53" fill="#dc5650"/>
<rect x="581.97" y="66.03" width="2.69" height="11.53" fill="#f39027"/>
<rect x="584.30" y="66.03" width="2.69" height="11.53" fill="#e36142"/>
<rect x="586.64" y="66.03" width="2.69" height="11.53" fill="#ce4e5f"/>
<rect x="588.97" y="66.03" width="2.69" height="11.53" fill="#d04f5d"/>
<rect x="591.31" y="66.03" width="2.69" height="11.53" fill="#e15e47"/>
<rect x="593.64" y="66.03" width="2.69" height="11.53" fill="#b24074"/>
<rect x="595.98" y="66.03" width="2.69" height="11.53" fill="#f0822c"/>
<rect x="598.32" y="66.03" width="2.69" height="11.53" fill="#c1476c"/>
<rect x="600.65" y="66.03" width="2.69" height="11.53" fill="#ea7134"/>
<rect x="602.99" y="66.03" width="2.69" height="11.53" fill="#9f377b"/>
<rect x="605.32" y="66.03" width="2.69" height="11.53" fill="#e5653e"/>
<rect x="607.66" y="66.03" width="2.69" height="11.53" fill="#ce4e5f"/>
<rect x="609.99" y="66.03" width="2.69" height="11.53" fill="#c54968"/>
<rect x="612.33" y="66.03" width="2.69" height="11.53" fill="#f59a25"/>
<rect x="614.66" y="66.03" width="2.69" height="11.53" fill="#de594d"/>
<rect x="617.00" y="66.03" width="2.69" height="11.53" fill="#d75356"/>
<rect x="619.33" y="66.03" width="2.69" height="11.53" fill="#e96e36"/>
<rect x="621.67" y="66.03" width="2.69" height="11.53" fill="#ca4c63"/>
<rect x="624.00" y="66.03" width="2.69" height="11.53" fill="#d85454"/>
<rect x="626.34" y="66.03" width="2.69" height="11.53" fill="#8e2e7c"/>
<rect x="628.68" y="66.03" width="2.69" height="11.53" fill="#dd584e"/>
<rect x="631.01" y="66.03" width="2.69" height="11.53" fill="#e86b38"/>
<rect x="633.35" y="66.03" width="2.69" height="11.53" fill="#f1872a"/>
<rect x="635.68" y="66.03" width="2.69" height="11.53" fill="#ee7e2e"/>
<rect x="638.02" y="66.03" width="2.69" height="11.53" fill="#e6673b"/>
<rect x="640.35" y="66.03" width="2.69" height="11.53" fill="#db5551"/>
<rect x="642.69" y="66.03" width="2.69" height="11.53" fill="#c3476b"/>
<rect x="645.02" y="66.03" width="2.69" height="11.53" fill="#c1476c"/>
<rect x="647.36" y="66.03" width="2.69" height="11.53" fill="#cc4d61"/>
<rect x="649.69" y="66.03" width="2.69" height="11.53" fill="#dd574e"/>
<rect x="652.03" y="66.03" width="2.69" height="11.53" fill="#ea7035"/>
<rect x="654.36" y="66.03" width="2.69" height="11.53" fill="#ee7f2e"/>
<rect x="241.00" y="77.22" width="2.69" height="11.53" fill="#cb4c62"/>
<rect x="243.34" y="77.22" width="2.69" height="11.53" fill="#d85454"/>
<rect x="245.67" y="77.22" width="2.69" height="11.53" fill="#bb446f"/>
<rect x="248.01" y="77.22" width="2.69" height="11.53" fill="#c84a66"/>
<rect x="250.34" y="77.22" width="2.69" height="11.53" fill="#dd574e"/>
<rect x="252.68" y="77.22" width="2.69" height="11.53" fill="#d3515a"/>
<rect x="255.01" y="77.22" width="2.69" height="11.53" fill="#d75355"/>
<rect x="257.35" y="77.22" width="2.69" height="11.53" fill="#de5a4b"/>
<rect x="259.68" y="77.22" width="2.69" height="11.53" fill="#bd456e"/>
<rect x="262.02" y="77.22" width="2.69" height="11.53" fill="#b84371"/>
<rect x="264.35" y="77.22" width="2.69" height="11.53" fill="#dc5650"/>
<rect x="266.69" y="77.22" width="2.69" height="11.53" fill="#d2505b"/>
<rect x="269.02" y="77.22" width="2.69" height="11.53" fill="#b64272"/>
<rect x="271.36" y="77.22" width="2.69" height="11.53" fill="#b03f76"/>
<rect x="273.70" y="77.22" width="2.69" height="11.53" fill="#cb4c63"/>
<rect x="276.03" y="77.22" width="2.69" height="11.53" fill="#d75355"/>
<rect x="278.37" y="77.22" width="2.69" height="11.53" fill="#d55258"/>
<rect x="280.70" y="77.22" width="2.69" height="11.53" fill="#d45159"/>
<rect x="283.04" y="77.22" width="2.69" height="11.53" fill="#b94370"/>
<rect x="285.37" y="77.22" width="2.69" height="11.53" fill="#c1476c"/>
<rect x="287.71" y="77.22" width="2.69" height="11.53" fill="#e05d48"/>
<rect x="290.04" y="77.22" width="2.69" height="11.53" fill="#bc446f"/>
<rect x="292.38" y="77.22" width="2.69" height="11.53" fill="#aa3d79"/>
<rect x="294.71" y="77.22" width="2.69" height="11.53" fill="#c3486a"/>
<rect x="297.05" y="77.22" width="2.69" height="11.53" fill="#c64968"/>
<rect x="299.38" y="77.22" width="2.69" height="11.53" fill="#c84a66"/>
<rect x="301.72" y="77.22" width="2.69" height="11.53" fill="#ce4e60"/>
<rect x="304.06" y="77.22" width="2.69" height="11.53" fill="#d65356"/>
<rect x="306.39" y="77.22" width="2.69" height="11.53" fill="#c0466c"/>
<rect x="308.73" y="77.22" width="2.69" height="11.53" fill="#b64272"/>
<rect x="311.06" y="77.22" width="2.69" height="11.53" fill="#cc4d61"/>
<rect x="313.40" y="77.22" width="2.69" height="11.53" fill="#c3486b"/>
<rect x="315.73" y="77.22" width="2.69" height="11.53" fill="#bb446f"/>
<rect x="318.07" y="77.22" width="2.69" height="11.53" fill="#bb446f"/>
<rect x="320.40" y="77.22" width="2.69" height="11.53" fill="#bc446f"/>
<rect x="322.74" y="77.22" width="2.69" height="11.53" fill="#c94b64"/>
<rect x="325.07" y="77.22" width="2.69" height="11.53" fill="#b84371"/>
<rect x="327.41" y="77.22" width="2.69" height="11.53" fill="#d1505c"/>
<rect x="329.74" y="77.22" width="2.69" height="11.53" fill="#c74a66"/>
<rect x="332.08" y="77.22" width="2.69" height="11.53" fill="#bf466d"/>
<rect x="334.42" y="77.22" width="2.69" height="11.53" fill="#be466d"/>
<rect x="336.75" y="77.22" width="2.69" height="11.53" fill="#d1505c"/>
<rect x="339.09" y="77.22" width="2.69" height="11.53" fill="#c74a67"/>
<rect x="341.42" y="77.22" width="2.69" height="11.53" fill="#bf466d"/>
<rect x="343.76" y="77.22" width="2.69" height="11.53" fill="#be456e"/>
<rect x="346.09" y="77.22" width="2.69" height="11.53" fill="#d2505b"/>
<rect x="348.43" y="77.22" width="2.69" height="11.53" fill="#c84a66"/>
<rect x="350.76" y="77.22" width="2.69" height="11.53" fill="#af3f76"/>
<rect x="353.10" y="77.22" width="2.69" height="11.53" fill="#d1505c"/>
<rect x="355.43" y="77.22" width="2.69" height="11.53" fill="#d75355"/>
<rect x="357.77" y="77.22" width="2.69" height="11.53" fill="#cc4d61"/>
<rect x="360.11" y="77.22" width="2.69" height="11.53" fill="#bc446f"/>
<rect x="362.44" y="77.22" width="2.69" height="11.53" fill="#ca4b64"/>
<rect x="364.78" y="77.22" width="2.69" height="11.53" fill="#cc4c62"/>
<rect x="367.11" y="77.22" width="2.69" height="11.53" fill="#c1476c"/>
<rect x="369.45" y="77.22" width="2.69" height="11.53" fill="#b84371"/>
<rect x="371.78" y="77.22" width="2.69" height="11.53" fill="#ce4e5f"/>
<rect x="374.12" y="77.22" width="2.69" height="11.53" fill="#cc4d61"/>
<rect x="376.45" y="77.22" width="2.69" height="11.53" fill="#d1505c"/>
<rect x="378.79" y="77.22" width="2.69" height="11.53" fill="#b03f76"/>
<rect x="381.12" y="77.22" width="2.69" height="11.53" fill="#c54968"/>
<rect x="383.46" y="77.22" width="2.69" height="11.53" fill="#d1505b"/>
<rect x="385.79" y="77.22" width="2.69" height="11.53" fill="#b34174"/>
<rect x="388.13" y="77.22" width="2.69" height="11.53" fill="#c74a67"/>
<rect x="390.47" y="77.22" width="2.69" height="11.53" fill="#ad3e77"/>
<rect x="392.80" y="77.22" width="2.69" height="11.53" fill="#b44173"/>
<rect x="395.14" y="77.22" width="2.69" height="11.53" fill="#b34174"/>
<rect x="397.47" y="77.22" width="2.69" height="11.53" fill="#cc4d61"/>
<rect x="399.81" y="77.22" width="2.69" height="11.53" fill="#c0466c"/>
<rect x="402.14" y="77.22" width="2.69" height="11.53" fill="#c2476b"/>
<rect x="404.48" y="77.22" width="2.69" height="11.53" fill="#da5552"/>
<rect x="406.81" y="77.22" width="2.69" height="11.53" fill="#b54272"/>
<rect x="409.15" y="77.22" width="2.69" height="11.53" fill="#c84a66"/>
<rect x="411.48" y="77.22" width="2.69" height="11.53" fill="#b14075"/>
<rect x="413.82" y="77.22" width="2.69" height="11.53" fill="#c1476c"/>
<rect x="416.15" y="77.22" width="2.69" height="11.53" fill="#b94370"/>
<rect x="418.49" y="77.22" width="2.69" height="11.53" fill="#b04075"/>
<rect x="420.83" y="77.22" width="2.69" height="11.53" fill="#9e377b"/>
<rect x="423.16" y="77.22" width="2.69" height="11.53" fill="#c1476c"/>
<rect x="425.50" y="77.22" width="2.69" height="11.53" fill="#c84a65"/>
<rect x="427.83" y="77.22" width="2.69" height="11.53" fill="#b94370"/>
<rect x="430.17" y="77.22" width="2.69" height="11.53" fill="#bb446f"/>
<rect x="432.50" y="77.22" width="2.69" height="11.53" fill="#c4486a"/>
<rect x="434.84" y="77.22" width="2.69" height="11.53" fill="#b74371"/>
<rect x="437.17" y="77.22" width="2.69" height="11.53" fill="#ce4e5f"/>
<rect x="439.51" y="77.22" width="2.69" height="11.53" fill="#b34174"/>
<rect x="441.84" y="77.22" width="2.69" height="11.53" fill="#a3397a"/>
<rect x="444.18" y="77.22" width="2.69" height="11.53" fill="#c74a67"/>
<rect x="446.51" y="77.22" width="2.69" height="11.53" fill="#b74271"/>
<rect x="448.85" y="77.22" width="2.69" height="11.53" fill="#a93c7a"/>
<rect x="451.19" y="77.22" width="2.69" height="11.53" fill="#ce4e5f"/>
<rect x="453.52" y="77.22" width="2.69" height="11.53" fill="#c74a66"/>
<rect x="455.86" y="77.22" width="2.69" height="11.53" fill="#c84a66"/>
<rect x="458.19" y="77.22" width="2.69" height="11.53" fill="#b14075"/>
<rect x="460.53" y="77.22" width="2.69" height="11.53" fill="#b44173"/>
<rect x="462.86" y="77.22" width="2.69" height="11.53" fill="#b24074"/>
<rect x="465.20" y="77.22" width="2.69" height="11.53" fill="#c3476b"/>
<rect x="467.53" y="77.22" width="2.69" height="11.53" fill="#b74371"/>
<rect x="469.87" y="77.22" width="2.69" height="11.53" fill="#c2476b"/>
<rect x="472.20" y="77.22" width="2.69" height="11.53" fill="#b04075"/>
<rect x="474.54" y="77.22" width="2.69" height="11.53" fill="#c1476c"/>
<rect x="476.87" y="77.22" width="2.69" height="11.53" fill="#b24074"/>
<rect x="479.21" y="77.22" width="2.69" height="11.53" fill="#af3f76"/>
<rect x="481.55" y="77.22" width="2.69" height="11.53" fill="#c84a66"/>
<rect x="483.88" y="77.22" width="2.69" height="11.53" fill="#cc4d61"/>
<rect x="486.22" y="77.22" width="2.69" height="11.53" fill="#ca4c63"/>
<rect x="488.55" y="77.22" width="2.69" height="11.53" fill="#d2505b"/>
<rect x="490.89" y="77.22" width="2.69" height="11.53" fill="#ce4e5f"/>
<rect x="493.22" y="77.22" width="2.69" height="11.53" fill="#ca4c63"/>
<rect x="495.56" y="77.22" width="2.69" height="11.53" fill="#c74a67"/>
<rect x="497.89" y="77.22" width="2.69" height="11.53" fill="#cd4d60"/>
<rect x="500.23" y="77.22" width="2.69" height="11.53" fill="#ca4b64"/>
<rect x="502.56" y="77.22" width="2.69" height="11.53" fill="#f7a223"/>
<rect x="504.90" y="77.22" width="2.69" height="11.53" fill="#ee7d2f"/>
<rect x="507.23" y="77.22" width="2.69" height="11.53" fill="#c74a67"/>
<rect x="509.57" y="77.22" width="2.69" height="11.53" fill="#ef822c"/>
<rect x="511.91" y="77.22" width="2.69" height="11.53" fill="#ec7632"/>
<rect x="514.24" y="77.22" width="2.69" height="11.53" fill="#f8a522"/>
<rect x="516.58" y="77.22" width="2.69" height="11.53" fill="#f0822c"/>
<rect x="518.91" y="77.22" width="2.69" height="11.53" fill="#f59825"/>
<rect x="521.25" y="77.22" width="2.69" height="11.53" fill="#f38c27"/>
<rect x="523.58" y="77.22" width="2.69" height="11.53" fill="#fce180"/>
<rect x="525.92" y="77.22" width="2.69" height="11.53" fill="#e46340"/>
<rect x="528.25" y="77.22" width="2.69" height="11.53" fill="#f49526"/>
<rect x="530.59" y="77.22" width="2.69" height="11.53" fill="#f69b24"/>
<rect x="532.92" y="77.22" width="2.69" height="11.53" fill="#d2505b"/>
<rect x="535.26" y="77.22" width="2.69" height="11.53" fill="#ef802d"/>
<rect x="537.59" y="77.22" width="2.69" height="11.53" fill="#cb4c63"/>
<rect x="539.93" y="77.22" width="2.69" height="11.53" fill="#fcd871"/>
<rect x="542.27" y="77.22" width="2.69" height="11.53" fill="#f9ac29"/>
<rect x="544.60" y="77.22" width="2.69" height="11.53" fill="#f49526"/>
<rect x="546.94" y="77.22" width="2.69" height="11.53" fill="#f0832b"/>
<rect x="549.27" y="77.22" width="2.69" height="11.53" fill="#fcd56a"/>
<rect x="551.61" y="77.22" width="2.69" height="11.53" fill="#e4643f"/>
<rect x="553.94" y="77.22" width="2.69" height="11.53" fill="#f39127"/>
<rect x="556.28" y="77.22" width="2.69" height="11.53" fill="#ea7135"/>
<rect x="558.61" y="77.22" width="2.69" height="11.53" fill="#e05c48"/>
<rect x="560.95" y="77.22" width="2.69" height="11.53" fill="#ec7732"/>
<rect x="563.28" y="77.22" width="2.69" height="11.53" fill="#f49426"/>
<rect x="565.62" y="77.22" width="2.69" height="11.53" fill="#ca4c63"/>
<rect x="567.96" y="77.22" width="2.69" height="11.53" fill="#fbc64c"/>
<rect x="570.29" y="77.22" width="2.69" height="11.53" fill="#f28928"/>
<rect x="572.63" y="77.22" width="2.69" height="11.53" fill="#f28b28"/>
<rect x="574.96" y="77.22" width="2.69" height="11.53" fill="#ed7931"/>
<rect x="577.30" y="77.22" width="2.69" height="11.53" fill="#fccf5e"/>
<rect x="579.63" y="77.22" width="2.69" height="11.53" fill="#f1852a"/>
<rect x="581.97" y="77.22" width="2.69" height="11.53" fill="#f7a023"/>
<rect x="584.30" y="77.22" width="2.69" height="11.53" fill="#ef7f2d"/>
<rect x="586.64" y="77.22" width="2.69" height="11.53" fill="#f7a023"/>
<rect x="588.97" y="77.22" width="2.69" height="11.53" fill="#e5653f"/>
<rect x="591.31" y="77.22" width="2.69" height="11.53" fill="#f1852a"/>
<rect x="593.64" y="77.22" width="2.69" height="11.53" fill="#e96d36"/>
<rect x="595.98" y="77.22" width="2.69" height="11.53" fill="#ee7e2e"/>
<rect x="598.32" y="77.22" width="2.69" height="11.53" fill="#f69b24"/>
<rect x="600.65" y="77.22" width="2.69" height="11.53" fill="#f39027"/>
<rect x="602.99" y="77.22" width="2.69" height="11.53" fill="#ea7134"/>
<rect x="605.32" y="77.22" width="2.69" height="11.53" fill="#e36143"/>
<rect x="607.66" y="77.22" width="2.69" height="11.53" fill="#f9b02d"/>
<rect x="609.99" y="77.22" width="2.69" height="11.53" fill="#f69d24"/>
<rect x="612.33" y="77.22" width="2.69" height="11.53" fill="#f9ad2a"/>
<rect x="614.66" y="77.22" width="2.69" height="11.53" fill="#ec7831"/>
<rect x="617.00" y="77.22" width="2.69" height="11.53" fill="#fbc143"/>
<rect x="619.33" y="77.22" width="2.69" height="11.53" fill="#f7a123"/>
<rect x="621.67" y="77.22" width="2.69" height="11.53" fill="#f28a28"/>
<rect x="624.00" y="77.22" width="2.69" height="11.53" fill="#ef802d"/>
<rect x="626.34" y="77.22" width="2.69" height="11.53" fill="#e6673b"/>
<rect x="628.68" y="77.22" width="2.69" height="11.53" fill="#f28929"/>
<rect x="631.01" y="77.22" width="2.69" height="11.53" fill="#f59a25"/>
<rect x="633.35" y="77.22" width="2.69" height="11.53" fill="#f59925"/>
<rect x="635.68" y="77.22" width="2.69" height="11.53" fill="#d1505c"/>
<rect x="638.02" y="77.22" width="2.69" height="11.53" fill="#c64968"/>
<rect x="640.35" y="77.22" width="2.69" height="11.53" fill="#fab635"/>
<rect x="642.69" y="77.22" width="2.69" height="11.53" fill="#fbc347"/>
<rect x="645.02" y="77.22" width="2.69" height="11.53" fill="#ef7f2e"/>
<rect x="647.36" y="77.22" width="2.69" height="11.53" fill="#f38f27"/>
<rect x="649.69" y="77.22" width="2.69" height="11.53" fill="#c74a67"/>
<rect x="652.03" y="77.22" width="2.69" height="11.53" fill="#f0852b"/>
<rect x="654.36" y="77.22" width="2.69" height="11.53" fill="#f49426"/>
<rect x="241.00" y="88.40" width="2.69" height="11.53" fill="#c0466c"/>
<rect x="243.34" y="88.40" width="2.69" height="11.53" fill="#f1862a"/>
<rect x="245.67" y="88.40" width="2.69" height="11.53" fill="#f7a223"/>
<rect x="248.01" y="88.40" width="2.69" height="11.53" fill="#fab433"/>
<rect x="250.34" y="88.40" width="2.69" height="11.53" fill="#ea7134"/>
<rect x="252.68" y="88.40" width="2.69" height="11.53" fill="#fccd5a"/>
<rect x="255.01" y="88.40" width="2.69" height="11.53" fill="#fab635"/>
<rect x="257.35" y="88.40" width="2.69" height="11.53" fill="#fce281"/>
<rect x="259.68" y="88.40" width="2.69" height="11.53" fill="#fbc850"/>
<rect x="262.02" y="88.40" width="2.69" height="11.53" fill="#f9b12f"/>
<rect x="264.35" y="88.40" width="2.69" height="11.53" fill="#f9ae2b"/>
<rect x="266.69" y="88.40" width="2.69" height="11.53" fill="#f8a825"/>
<rect x="269.02" y="88.40" width="2.69" height="11.53" fill="#fcde7a"/>
<rect x="271.36" y="88.40" width="2.69" height="11.53" fill="#ed7a30"/>
<rect x="273.70" y="88.40" width="2.69" height="11.53" fill="#f9ae2b"/>
<rect x="276.03" y="88.40" width="2.69" height="11.53" fill="#f49326"/>
<rect x="278.37" y="88.40" width="2.69" height="11.53" fill="#fbc347"/>
<rect x="280.70" y="88.40" width="2.69" height="11.53" fill="#f9ac29"/>
<rect x="283.04" y="88.40" width="2.69" height="11.53" fill="#f8aa26"/>
<rect x="285.37" y="88.40" width="2.69" height="11.53" fill="#fcd163"/>
<rect x="287.71" y="88.40" width="2.69" height="11.53" fill="#fcd365"/>
<rect x="290.04" y="88.40" width="2.69" height="11.53" fill="#f38d27"/>
<rect x="292.38" y="88.40" width="2.69" height="11.53" fill="#fccc58"/>
<rect x="294.71" y="88.40" width="2.69" height="11.53" fill="#f38e27"/>
<rect x="297.05" y="88.40" width="2.69" height="11.53" fill="#f69e24"/>
<rect x="299.38" y="88.40" width="2.69" height="11.53" fill="#f9ae2b"/>
<rect x="301.72" y="88.40" width="2.69" height="11.53" fill="#f28b28"/>
<rect x="304.06" y="88.40" width="2.69" height="11.53" fill="#f49226"/>
<rect x="306.39" y="88.40" width="2.69" height="11.53" fill="#f59825"/>
<rect x="308.73" y="88.40" width="2.69" height="11.53" fill="#fcdb76"/>
<rect x="311.06" y="88.40" width="2.69" height="11.53" fill="#fab938"/>
<rect x="313.40" y="88.40" width="2.69" height="11.53" fill="#fbc74e"/>
<rect x="315.73" y="88.40" width="2.69" height="11.53" fill="#f38f27"/>
<rect x="318.07" y="88.40" width="2.69" height="11.53" fill="#fcd66c"/>
<rect x="320.40" y="88.40" width="2.69" height="11.53" fill="#f7a023"/>
<rect x="322.74" y="88.40" width="2.69" height="11.53" fill="#fcce5c"/>
<rect x="325.07" y="88.40" width="2.69" height="11.53" fill="#fab634"/>
<rect x="327.41" y="88.40" width="2.69" height="11.53" fill="#f7a023"/>
<rect x="329.74" y="88.40" width="2.69" height="11.53" fill="#f28929"/>
<rect x="332.08" y="88.40" width="2.69" height="11.53" fill="#fbc54b"/>
<rect x="334.42" y="88.40" width="2.69" height="11.53" fill="#f69e24"/>
<rect x="336.75" y="88.40" width="2.69" height="11.53" fill="#f9b230"/>
<rect x="339.09" y="88.40" width="2.69" height="11.53" fill="#fbbc3b"/>
<rect x="341.42" y="88.40" width="2.69" height="11.53" fill="#f49526"/>
<rect x="343.76" y="88.40" width="2.69" height="11.53" fill="#fbc345"/>
<rect x="346.09" y="88.40" width="2.69" height="11.53" fill="#d95453"/>
<rect x="348.43" y="88.40" width="2.69" height="11.53" fill="#fcd76f"/>
<rect x="350.76" y="88.40" width="2.69" height="11.53" fill="#f69d24"/>
<rect x="353.10" y="88.40" width="2.69" height="11.53" fill="#eb7433"/>
<rect x="355.43" y="88.40" width="2.69" height="11.53" fill="#f8a925"/>
<rect x="357.77" y="88.40" width="2.69" height="11.53" fill="#ec7632"/>
<rect x="360.11" y="88.40" width="2.69" height="11.53" fill="#f59a25"/>
<rect x="362.44" y="88.40" width="2.69" height="11.53" fill="#f8aa27"/>
<rect x="364.78" y="88.40" width="2.69" height="11.53" fill="#e15e47"/>
<rect x="367.11" y="88.40" width="2.69" height="11.53" fill="#d85454"/>
<rect x="369.45" y="88.40" width="2.69" height="11.53" fill="#f69b24"/>
<rect x="371.78" y="88.40" width="2.69" height="11.53" fill="#e46340"/>
<rect x="374.12" y="88.40" width="2.69" height="11.53" fill="#fbca53"/>
<rect x="376.45" y="88.40" width="2.69" height="11.53" fill="#fabc3b"/>
<rect x="378.79" y="88.40" width="2.69" height="11.53" fill="#fbc244"/>
<rect x="381.12" y="88.40" width="2.69" height="11.53" fill="#f8a622"/>
<rect x="383.46" y="88.40" width="2.69" height="11.53" fill="#f9ab28"/>
<rect x="385.79" y="88.40" width="2.69" height="11.53" fill="#f1862a"/>
<rect x="388.13" y="88.40" width="2.69" height="11.53" fill="#f9ad2a"/>
<rect x="390.47" y="88.40" width="2.69" height="11.53" fill="#e96f36"/>
<rect x="392.80" y="88.40" width="2.69" height="11.53" fill="#f59725"/>
<rect x="395.14" y="88.40" width="2.69" height="11.53" fill="#f7a123"/>
<rect x="397.47" y="88.40" width="2.69" height="11.53" fill="#fbc040"/>
<rect x="399.81" y="88.40" width="2.69" height="11.53" fill="#f1862a"/>
<rect x="402.14" y="88.40" width="2.69" height="11.53" fill="#f8a723"/>
<rect x="404.48" y="88.40" width="2.69" height="11.53" fill="#fce281"/>
<rect x="406.81" y="88.40" width="2.69" height="11.53" fill="#f69c24"/>
<rect x="409.15" y="88.40" width="2.69" height="11.53" fill="#f9ad2a"/>
<rect x="411.48" y="88.40" width="2.69" height="11.53" fill="#ed7931"/>
<rect x="413.82" y="88.40" width="2.69" height="11.53" fill="#ec7632"/>
<rect x="416.15" y="88.40" width="2.69" height="11.53" fill="#fab837"/>
<rect x="418.49" y="88.40" width="2.69" height="11.53" fill="#f28a28"/>
<rect x="420.83" y="88.40" width="2.69" height="11.53" fill="#ea7234"/>
<rect x="423.16" y="88.40" width="2.69" height="11.53" fill="#d04f5d"/>
<rect x="425.50" y="88.40" width="2.69" height="11.53" fill="#f1862a"/>
<rect x="427.83" y="88.40" width="2.69" height="11.53" fill="#dd584d"/>
<rect x="430.17" y="88.40" width="2.69" height="11.53" fill="#f9b12e"/>
<rect x="432.50" y="88.40" width="2.69" height="11.53" fill="#f8aa26"/>
<rect x="434.84" y="88.40" width="2.69" height="11.53" fill="#ef822c"/>
<rect x="437.17" y="88.40" width="2.69" height="11.53" fill="#e46341"/>
<rect x="439.51" y="88.40" width="2.69" height="11.53" fill="#f79f23"/>
<rect x="441.84" y="88.40" width="2.69" height="11.53" fill="#fab433"/>
<rect x="444.18" y="88.40" width="2.69" height="11.53" fill="#f8a522"/>
<rect x="446.51" y="88.40" width="2.69" height="11.53" fill="#fab533"/>
<rect x="448.85" y="88.40" width="2.69" height="11.53" fill="#f7a123"/>
<rect x="451.19" y="88.40" width="2.69" height="11.53" fill="#fbcc57"/>
<rect x="453.52" y="88.40" width="2.69" height="11.53" fill="#f49226"/>
<rect x="455.86" y="88.40" width="2.69" height="11.53" fill="#f69c24"/>
<rect x="458.19" y="88.40" width="2.69" height="11.53" fill="#ea7135"/>
<rect x="460.53" y="88.40" width="2.69" height="11.53" fill="#c1476b"/>
<rect x="462.86" y="88.40" width="2.69" height="11.53" fill="#ec7632"/>
<rect x="465.20" y="88.40" width="2.69" height="11.53" fill="#cb4c63"/>
<rect x="467.53" y="88.40" width="2.69" height="11.53" fill="#f28a28"/>
<rect x="469.87" y="88.40" width="2.69" height="11.53" fill="#ce4e5f"/>
<rect x="472.20" y="88.40" width="2.69" height="11.53" fill="#ee7c2f"/>
<rect x="474.54" y="88.40" width="2.69" height="11.53" fill="#f9aa27"/>
<rect x="476.87" y="88.40" width="2.69" height="11.53" fill="#d35159"/>
<rect x="479.21" y="88.40" width="2.69" height="11.53" fill="#f9ab28"/>
<rect x="481.55" y="88.40" width="2.69" height="11.53" fill="#dc574f"/>
<rect x="483.88" y="88.40" width="2.69" height="11.53" fill="#e76939"/>
<rect x="486.22" y="88.40" width="2.69" height="11.53" fill="#e86a38"/>
<rect x="488.55" y="88.40" width="2.69" height="11.53" fill="#e46340"/>
<rect x="490.89" y="88.40" width="2.69" height="11.53" fill="#ca4b64"/>
<rect x="493.22" y="88.40" width="2.69" height="11.53" fill="#e76939"/>
<rect x="495.56" y="88.40" width="2.69" height="11.53" fill="#de594c"/>
<rect x="497.89" y="88.40" width="2.69" height="11.53" fill="#e15e46"/>
<rect x="500.23" y="88.40" width="2.69" height="11.53" fill="#e6673b"/>
<rect x="502.56" y="88.40" width="2.69" height="11.53" fill="#bd456e"/>
<rect x="504.90" y="88.40" width="2.69" height="11.53" fill="#b74371"/>
<rect x="507.23" y="88.40" width="2.69" height="11.53" fill="#c0466d"/>
<rect x="509.57" y="88.40" width="2.69" height="11.53" fill="#a83c7a"/>
<rect x="511.91" y="88.40" width="2.69" height="11.53" fill="#b74371"/>
<rect x="514.24" y="88.40" width="2.69" height="11.53" fill="#c94b65"/>
<rect x="516.58" y="88.40" width="2.69" height="11.53" fill="#b14075"/>
<rect x="518.91" y="88.40" width="2.69" height="11.53" fill="#c1476c"/>
<rect x="521.25" y="88.40" width="2.69" height="11.53" fill="#ba4470"/>
<rect x="523.58" y="88.40" width="2.69" height="11.53" fill="#bf466d"/>
<rect x="525.92" y="88.40" width="2.69" height="11.53" fill="#cb4c63"/>
<rect x="528.25" y="88.40" width="2.69" height="11.53" fill="#c74a67"/>
<rect x="530.59" y="88.40" width="2.69" height="11.53" fill="#bd456e"/>
<rect x="532.92" y="88.40" width="2.69" height="11.53" fill="#b94370"/>
<rect x="535.26" y="88.40" width="2.69" height="11.53" fill="#c84b65"/>
<rect x="537.59" y="88.40" width="2.69" height="11.53" fill="#c4486a"/>
<rect x="539.93" y="88.40" width="2.69" height="11.53" fill="#c0466d"/>
<rect x="542.27" y="88.40" width="2.69" height="11.53" fill="#b84371"/>
<rect x="544.60" y="88.40" width="2.69" height="11.53" fill="#ce4e5f"/>
<rect x="546.94" y="88.40" width="2.69" height="11.53" fill="#ae3f76"/>
<rect x="549.27" y="88.40" width="2.69" height="11.53" fill="#d95453"/>
<rect x="551.61" y="88.40" width="2.69" height="11.53" fill="#c0466c"/>
<rect x="553.94" y="88.40" width="2.69" height="11.53" fill="#b14075"/>
<rect x="556.28" y="88.40" width="2.69" height="11.53" fill="#ce4e5f"/>
<rect x="558.61" y="88.40" width="2.69" height="11.53" fill="#c3486b"/>
<rect x="560.95" y="88.40" width="2.69" height="11.53" fill="#cf4e5e"/>
<rect x="563.28" y="88.40" width="2.69" height="11.53" fill="#be466d"/>
<rect x="565.62" y="88.40" width="2.69" height="11.53" fill="#a83c7a"/>
<rect x="567.96" y="88.40" width="2.69" height="11.53" fill="#bf466d"/>
<rect x="570.29" y="88.40" width="2.69" height="11.53" fill="#de594c"/>
<rect x="572.63" y="88.40" width="2.69" height="11.53" fill="#c84a65"/>
<rect x="574.96" y="88.40" width="2.69" height="11.53" fill="#d3515a"/>
<rect x="577.30" y="88.40" width="2.69" height="11.53" fill="#c64968"/>
<rect x="579.63" y="88.40" width="2.69" height="11.53" fill="#ca4b64"/>
<rect x="581.97" y="88.40" width="2.69" height="11.53" fill="#b34174"/>
<rect x="584.30" y="88.40" width="2.69" height="11.53" fill="#c84b65"/>
<rect x="586.64" y="88.40" width="2.69" height="11.53" fill="#be456d"/>
<rect x="588.97" y="88.40" width="2.69" height="11.53" fill="#c54869"/>
<rect x="591.31" y="88.40" width="2.69" height="11.53" fill="#cf4e5e"/>
<rect x="593.64" y="88.40" width="2.69" height="11.53" fill="#d65257"/>
<rect x="595.98" y="88.40" width="2.69" height="11.53" fill="#b84371"/>
<rect x="598.32" y="88.40" width="2.69" height="11.53" fill="#cb4c62"/>
<rect x="600.65" y="88.40" width="2.69" height="11.53" fill="#c94b65"/>
<rect x="602.99" y="88.40" width="2.69" height="11.53" fill="#d04f5d"/>
<rect x="605.32" y="88.40" width="2.69" height="11.53" fill="#d45258"/>
<rect x="607.66" y="88.40" width="2.69" height="11.53" fill="#d35159"/>
<rect x="609.99" y="88.40" width="2.69" height="11.53" fill="#ca4c63"/>
<rect x="612.33" y="88.40" width="2.69" height="11.53" fill="#c74a67"/>
<rect x="614.66" y="88.40" width="2.69" height="11.53" fill="#c0466c"/>
<rect x="617.00" y="88.40" width="2.69" height="11.53" fill="#cd4d60"/>
<rect x="619.33" y="88.40" width="2.69" height="11.53" fill="#be456e"/>
<rect x="621.67" y="88.40" width="2.69" height="11.53" fill="#c54968"/>
<rect x="624.00" y="88.40" width="2.69" height="11.53" fill="#c3486b"/>
<rect x="626.34" y="88.40" width="2.69" height="11.53" fill="#c84a66"/>
<rect x="628.68" y="88.40" width="2.69" height="11.53" fill="#b94370"/>
<rect x="631.01" y="88.40" width="2.69" height="11.53" fill="#d04f5d"/>
<rect x="633.35" y="88.40" width="2.69" height="11.53" fill="#c74a66"/>
<rect x="635.68" y="88.40" width="2.69" height="11.53" fill="#c84b65"/>
<rect x="638.02" y="88.40" width="2.69" height="11.53" fill="#c0466c"/>
<rect x="640.35" y="88.40" width="2.69" height="11.53" fill="#cd4d61"/>
<rect x="642.69" y="88.40" width="2.69" height="11.53" fill="#df5a4b"/>
<rect x="645.02" y="88.40" width="2.69" height="11.53" fill="#b94370"/>
<rect x="647.36" y="88.40" width="2.69" height="11.53" fill="#c3486a"/>
<rect x="649.69" y="88.40" width="2.69" height="11.53" fill="#b84371"/>
<rect x="652.03" y="88.40" width="2.69" height="11.53" fill="#cc4d61"/>
<rect x="654.36" y="88.40" width="2.69" height="11.53" fill="#b94370"/>
<rect x="241.00" y="99.58" width="2.69" height="11.53" fill="#f9ab28"/>
<rect x="243.34" y="99.58" width="2.69" height="11.53" fill="#f49426"/>
<rect x="245.67" y="99.58" width="2.69" height="11.53" fill="#fdee95"/>
<rect x="248.01" y="99.58" width="2.69" height="11.53" fill="#f7a023"/>
<rect x="250.34" y="99.58" width="2.69" height="11.53" fill="#f59625"/>
<rect x="252.68" y="99.58" width="2.69" height="11.53" fill="#f7a123"/>
<rect x="255.01" y="99.58" width="2.69" height="11.53" fill="#f8a925"/>
<rect x="257.35" y="99.58" width="2.69" height="11.53" fill="#eb7234"/>
<rect x="259.68" y="99.58" width="2.69" height="11.53" fill="#f28c28"/>
<rect x="262.02" y="99.58" width="2.69" height="11.53" fill="#fbc74d"/>
<rect x="264.35" y="99.58" width="2.69" height="11.53" fill="#f7a223"/>
<rect x="266.69" y="99.58" width="2.69" height="11.53" fill="#f49126"/>
<rect x="269.02" y="99.58" width="2.69" height="11.53" fill="#f59925"/>
<rect x="271.36" y="99.58" width="2.69" height="11.53" fill="#f8a824"/>
<rect x="273.70" y="99.58" width="2.69" height="11.53" fill="#fab635"/>
<rect x="276.03" y="99.58" width="2.69" height="11.53" fill="#f8aa26"/>
<rect x="278.37" y="99.58" width="2.69" height="11.53" fill="#f0852a"/>
<rect x="280.70" y="99.58" width="2.69" height="11.53" fill="#f49226"/>
<rect x="283.04" y="99.58" width="2.69" height="11.53" fill="#fab837"/>
<rect x="285.37" y="99.58" width="2.69" height="11.53" fill="#fbc141"/>
<rect x="287.71" y="99.58" width="2.69" height="11.53" fill="#fbbe3d"/>
<rect x="290.04" y="99.58" width="2.69" height="11.53" fill="#fdee96"/>
<rect x="292.38" y="99.58" width="2.69" height="11.53" fill="#f59725"/>
<rect x="294.71" y="99.58" width="2.69" height="11.53" fill="#fbc346"/>
<rect x="297.05" y="99.58" width="2.69" height="11.53" fill="#fcce5d"/>
<rect x="299.38" y="99.58" width="2.69" height="11.53" fill="#f8a422"/>
<rect x="301.72" y="99.58" width="2.69" height="11.53" fill="#fcdd78"/>
<rect x="304.06" y="99.58" width="2.69" height="11.53" fill="#fcdd79"/>
<rect x="306.39" y="99.58" width="2.69" height="11.53" fill="#f9ad2a"/>
<rect x="308.73" y="99.58" width="2.69" height="11.53" fill="#eb7533"/>
<rect x="311.06" y="99.58" width="2.69" height="11.53" fill="#fbc346"/>
<rect x="313.40" y="99.58" width="2.69" height="11.53" fill="#f59625"/>
<rect x="315.73" y="99.58" width="2.69" height="11.53" fill="#f8aa27"/>
<rect x="318.07" y="99.58" width="2.69" height="11.53" fill="#f69d24"/>
<rect x="320.40" y="99.58" width="2.69" height="11.53" fill="#f49326"/>
<rect x="322.74" y="99.58" width="2.69" height="11.53" fill="#f49426"/>
<rect x="325.07" y="99.58" width="2.69" height="11.53" fill="#f9ad2a"/>
<rect x="327.41" y="99.58" width="2.69" height="11.53" fill="#fcd163"/>
<rect x="329.74" y="99.58" width="2.69" height="11.53" fill="#f9ae2c"/>
<rect x="332.08" y="99.58" width="2.69" height="11.53" fill="#fab938"/>
<rect x="334.42" y="99.58" width="2.69" height="11.53" fill="#fccd5b"/>
<rect x="336.75" y="99.58" width="2.69" height="11.53" fill="#fcd061"/>
<rect x="339.09" y="99.58" width="2.69" height="11.53" fill="#fbc850"/>
<rect x="341.42" y="99.58" width="2.69" height="11.53" fill="#f39127"/>
<rect x="343.76" y="99.58" width="2.69" height="11.53" fill="#fcd76e"/>
<rect x="346.09" y="99.58" width="2.69" height="11.53" fill="#f7a423"/>
<rect x="348.43" y="99.58" width="2.69" height="11.53" fill="#e86b37"/>
<rect x="350.76" y="99.58" width="2.69" height="11.53" fill="#fbcb57"/>
<rect x="353.10" y="99.58" width="2.69" height="11.53" fill="#fcd468"/>
<rect x="355.43" y="99.58" width="2.69" height="11.53" fill="#fce281"/>
<rect x="357.77" y="99.58" width="2.69" height="11.53" fill="#fbc850"/>
<rect x="360.11" y="99.58" width="2.69" height="11.53" fill="#fbc64d"/>
<rect x="362.44" y="99.58" width="2.69" height="11.53" fill="#fccd5a"/>
<rect x="364.78" y="99.58" width="2.69" height="11.53" fill="#f9b331"/>
<rect x="367.11" y="99.58" width="2.69" height="11.53" fill="#faba3a"/>
<rect x="369.45" y="99.58" width="2.69" height="11.53" fill="#fbcb57"/>
<rect x="371.78" y="99.58" width="2.69" height="11.53" fill="#ea7035"/>
<rect x="374.12" y="99.58" width="2.69" height="11.53" fill="#fbc345"/>
<rect x="376.45" y="99.58" width="2.69" height="11.53" fill="#f38e27"/>
<rect x="378.79" y="99.58" width="2.69" height="11.53" fill="#fbbf3f"/>
<rect x="381.12" y="99.58" width="2.69" height="11.53" fill="#fbc346"/>
<rect x="383.46" y="99.58" width="2.69" height="11.53" fill="#fcce5c"/>
<rect x="385.79" y="99.58" width="2.69" height="11.53" fill="#f18829"/>
<rect x="388.13" y="99.58" width="2.69" height="11.53" fill="#fcde7a"/>
<rect x="390.47" y="99.58" width="2.69" height="11.53" fill="#f8a622"/>
<rect x="392.80" y="99.58" width="2.69" height="11.53" fill="#ca4c63"/>
<rect x="395.14" y="99.58" width="2.69" height="11.53" fill="#f69b24"/>
<rect x="397.47" y="99.58" width="2.69" height="11.53" fill="#c64968"/>
<rect x="399.81" y="99.58" width="2.69" height="11.53" fill="#e36242"/>
<rect x="402.14" y="99.58" width="2.69" height="11.53" fill="#fcdc76"/>
<rect x="404.48" y="99.58" width="2.69" height="11.53" fill="#f69e24"/>
<rect x="406.81" y="99.58" width="2.69" height="11.53" fill="#f59625"/>
<rect x="409.15" y="99.58" width="2.69" height="11.53" fill="#f59725"/>
<rect x="411.48" y="99.58" width="2.69" height="11.53" fill="#e96d37"/>
<rect x="413.82" y="99.58" width="2.69" height="11.53" fill="#ed7c2f"/>
<rect x="416.15" y="99.58" width="2.69" height="11.53" fill="#f69b24"/>
<rect x="418.49" y="99.58" width="2.69" height="11.53" fill="#f8a622"/>
<rect x="420.83" y="99.58" width="2.69" height="11.53" fill="#f7a323"/>
<rect x="423.16" y="99.58" width="2.69" height="11.53" fill="#f38c27"/>
<rect x="425.50" y="99.58" width="2.69" height="11.53" fill="#f7a323"/>
<rect x="427.83" y="99.58" width="2.69" height="11.53" fill="#e96e36"/>
<rect x="430.17" y="99.58" width="2.69" height="11.53" fill="#f0822c"/>
<rect x="432.50" y="99.58" width="2.69" height="11.53" fill="#fcdf7c"/>
<rect x="434.84" y="99.58" width="2.69" height="11.53" fill="#fce383"/>
<rect x="437.17" y="99.58" width="2.69" height="11.53" fill="#fbc447"/>
<rect x="439.51" y="99.58" width="2.69" height="11.53" fill="#fcce5b"/>
<rect x="441.84" y="99.58" width="2.69" height="11.53" fill="#fabb3b"/>
<rect x="444.18" y="99.58" width="2.69" height="11.53" fill="#fab937"/>
<rect x="446.51" y="99.58" width="2.69" height="11.53" fill="#f59925"/>
<rect x="448.85" y="99.58" width="2.69" height="11.53" fill="#f9b02d"/>
<rect x="451.19" y="99.58" width="2.69" height="11.53" fill="#f69b24"/>
<rect x="453.52" y="99.58" width="2.69" height="11.53" fill="#e7693a"/>
<rect x="455.86" y="99.58" width="2.69" height="11.53" fill="#eb7234"/>
<rect x="458.19" y="99.58" width="2.69" height="11.53" fill="#f38e27"/>
<rect x="460.53" y="99.58" width="2.69" height="11.53" fill="#e96c37"/>
<rect x="462.86" y="99.58" width="2.69" height="11.53" fill="#f18829"/>
<rect x="465.20" y="99.58" width="2.69" height="11.53" fill="#f8a825"/>
<rect x="467.53" y="99.58" width="2.69" height="11.53" fill="#f0842b"/>
<rect x="469.87" y="99.58" width="2.69" height="11.53" fill="#f9b230"/>
<rect x="472.20" y="99.58" width="2.69" height="11.53" fill="#fbbc3c"/>
<rect x="474.54" y="99.58" width="2.69" height="11.53" fill="#f9ab28"/>
<rect x="476.87" y="99.58" width="2.69" height="11.53" fill="#f0832c"/>
<rect x="479.21" y="99.58" width="2.69" height="11.53" fill="#f9b02e"/>
<rect x="481.55" y="99.58" width="2.69" height="11.53" fill="#fab533"/>
<rect x="483.88" y="99.58" width="2.69" height="11.53" fill="#fbbe3d"/>
<rect x="486.22" y="99.58" width="2.69" height="11.53" fill="#f8a522"/>
<rect x="488.55" y="99.58" width="2.69" height="11.53" fill="#fab938"/>
<rect x="490.89" y="99.58" width="2.69" height="11.53" fill="#f7a323"/>
<rect x="493.22" y="99.58" width="2.69" height="11.53" fill="#f9ae2b"/>
<rect x="495.56" y="99.58" width="2.69" height="11.53" fill="#fbc64c"/>
<rect x="497.89" y="99.58" width="2.69" height="11.53" fill="#f8a723"/>
<rect x="500.23" y="99.58" width="2.69" height="11.53" fill="#fbc851"/>
<rect x="502.56" y="99.58" width="2.69" height="11.53" fill="#cd4d60"/>
<rect x="504.90" y="99.58" width="2.69" height="11.53" fill="#bf466d"/>
<rect x="507.23" y="99.58" width="2.69" height="11.53" fill="#c1476c"/>
<rect x="509.57" y="99.58" width="2.69" height="11.53" fill="#a53b7a"/>
<rect x="511.91" y="99.58" width="2.69" height="11.53" fill="#c64968"/>
<rect x="514.24" y="99.58" width="2.69" height="11.53" fill="#bd456e"/>
<rect x="516.58" y="99.58" width="2.69" height="11.53" fill="#ba4470"/>
<rect x="518.91" y="99.58" width="2.69" height="11.53" fill="#d3515a"/>
<rect x="521.25" y="99.58" width="2.69" height="11.53" fill="#b14075"/>
<rect x="523.58" y="99.58" width="2.69" height="11.53" fill="#ba4470"/>
<rect x="525.92" y="99.58" width="2.69" height="11.53" fill="#d75356"/>
<rect x="528.25" y="99.58" width="2.69" height="11.53" fill="#c74a66"/>
<rect x="530.59" y="99.58" width="2.69" height="11.53" fill="#bd456e"/>
<rect x="532.92" y="99.58" width="2.69" height="11.53" fill="#c0466c"/>
<rect x="535.26" y="99.58" width="2.69" height="11.53" fill="#d3505a"/>
<rect x="537.59" y="99.58" width="2.69" height="11.53" fill="#b94370"/>
<rect x="539.93" y="99.58" width="2.69" height="11.53" fill="#ca4b64"/>
<rect x="542.27" y="99.58" width="2.69" height="11.53" fill="#bb446f"/>
<rect x="544.60" y="99.58" width="2.69" height="11.53" fill="#cf4f5e"/>
<rect x="546.94" y="99.58" width="2.69" height="11.53" fill="#a83c7a"/>
<rect x="549.27" y="99.58" width="2.69" height="11.53" fill="#dc5651"/>
<rect x="551.61" y="99.58" width="2.69" height="11.53" fill="#d55257"/>
<rect x="553.94" y="99.58" width="2.69" height="11.53" fill="#be466d"/>
<rect x="556.28" y="99.58" width="2.69" height="11.53" fill="#cb4c62"/>
<rect x="558.61" y="99.58" width="2.69" height="11.53" fill="#b44173"/>
<rect x="560.95" y="99.58" width="2.69" height="11.53" fill="#cf4e5e"/>
<rect x="563.28" y="99.58" width="2.69" height="11.53" fill="#c0466c"/>
<rect x="565.62" y="99.58" width="2.69" height="11.53" fill="#c0466c"/>
<rect x="567.96" y="99.58" width="2.69" height="11.53" fill="#ca4c63"/>
<rect x="570.29" y="99.58" width="2.69" height="11.53" fill="#df5a4b"/>
<rect x="572.63" y="99.58" width="2.69" height="11.53" fill="#b54273"/>
<rect x="574.96" y="99.58" width="2.69" height="11.53" fill="#de594d"/>
<rect x="577.30" y="99.58" width="2.69" height="11.53" fill="#bb446f"/>
<rect x="579.63" y="99.58" width="2.69" height="11.53" fill="#ce4e60"/>
<rect x="581.97" y="99.58" width="2.69" height="11.53" fill="#c1476c"/>
<rect x="584.30" y="99.58" width="2.69" height="11.53" fill="#d2505b"/>
<rect x="586.64" y="99.58" width="2.69" height="11.53" fill="#c3486b"/>
<rect x="588.97" y="99.58" width="2.69" height="11.53" fill="#cc4d61"/>
<rect x="591.31" y="99.58" width="2.69" height="11.53" fill="#d2505b"/>
<rect x="593.64" y="99.58" width="2.69" height="11.53" fill="#dc574f"/>
<rect x="595.98" y="99.58" width="2.69" height="11.53" fill="#b84371"/>
<rect x="598.32" y="99.58" width="2.69" height="11.53" fill="#ce4e5f"/>
<rect x="600.65" y="99.58" width="2.69" height="11.53" fill="#ca4b64"/>
<rect x="602.99" y="99.58" width="2.69" height="11.53" fill="#d65257"/>
<rect x="605.32" y="99.58" width="2.69" height="11.53" fill="#d3515a"/>
<rect x="607.66" y="99.58" width="2.69" height="11.53" fill="#cb4c62"/>
<rect x="609.99" y="99.58" width="2.69" height="11.53" fill="#da5552"/>
<rect x="612.33" y="99.58" width="2.69" height="11.53" fill="#ce4e5f"/>
<rect x="614.66" y="99.58" width="2.69" height="11.53" fill="#bf466d"/>
<rect x="617.00" y="99.58" width="2.69" height="11.53" fill="#d04f5e"/>
<rect x="619.33" y="99.58" width="2.69" height="11.53" fill="#c64968"/>
<rect x="621.67" y="99.58" width="2.69" height="11.53" fill="#ca4b64"/>
<rect x="624.00" y="99.58" width="2.69" height="11.53" fill="#ba4470"/>
<rect x="626.34" y="99.58" width="2.69" height="11.53" fill="#ca4b64"/>
<rect x="628.68" y="99.58" width="2.69" height="11.53" fill="#c3486b"/>
<rect x="631.01" y="99.58" width="2.69" height="11.53" fill="#c74a67"/>
<rect x="633.35" y="99.58" width="2.69" height="11.53" fill="#bb446f"/>
<rect x="635.68" y="99.58" width="2.69" height="11.53" fill="#c4486a"/>
<rect x="638.02" y="99.58" width="2.69" height="11.53" fill="#bf466d"/>
<rect x="640.35" y="99.58" width="2.69" height="11.53" fill="#cc4d61"/>
<rect x="642.69" y="99.58" width="2.69" height="11.53" fill="#df5a4b"/>
<rect x="645.02" y="99.58" width="2.69" height="11.53" fill="#b24074"/>
<rect x="647.36" y="99.58" width="2.69" height="11.53" fill="#b84371"/>
<rect x="649.69" y="99.58" width="2.69" height="11.53" fill="#db5551"/>
<rect x="652.03" y="99.58" width="2.69" height="11.53" fill="#c94b64"/>
<rect x="654.36" y="99.58" width="2.69" height="11.53" fill="#b54272"/>
<rect x="241.00" y="110.77" width="2.69" height="11.53" fill="#f8a522"/>
<rect x="243.34" y="110.77" width="2.69" height="11.53" fill="#f8a824"/>
<rect x="245.67" y="110.77" width="2.69" height="11.53" fill="#f9ad2a"/>
<rect x="248.01" y="110.77" width="2.69" height="11.53" fill="#f49526"/>
<rect x="250.34" y="110.77" width="2.69" height="11.53" fill="#f69c24"/>
<rect x="252.68" y="110.77" width="2.69" height="11.53" fill="#f7a323"/>
<rect x="255.01" y="110.77" width="2.69" height="11.53" fill="#fcd162"/>
<rect x="257.35" y="110.77" width="2.69" height="11.53" fill="#fcd76d"/>
<rect x="259.68" y="110.77" width="2.69" height="11.53" fill="#f9ae2b"/>
<rect x="262.02" y="110.77" width="2.69" height="11.53" fill="#ee7c2f"/>
<rect x="264.35" y="110.77" width="2.69" height="11.53" fill="#fccd5a"/>
<rect x="266.69" y="110.77" width="2.69" height="11.53" fill="#f69d24"/>
<rect x="269.02" y="110.77" width="2.69" height="11.53" fill="#e4643f"/>
<rect x="271.36" y="110.77" width="2.69" height="11.53" fill="#f38d27"/>
<rect x="273.70" y="110.77" width="2.69" height="11.53" fill="#f9b331"/>
<rect x="276.03" y="110.77" width="2.69" height="11.53" fill="#fab533"/>
<rect x="278.37" y="110.77" width="2.69" height="11.53" fill="#fab432"/>
<rect x="280.70" y="110.77" width="2.69" height="11.53" fill="#f59625"/>
<rect x="283.04" y="110.77" width="2.69" height="11.53" fill="#f8a522"/>
<rect x="285.37" y="110.77" width="2.69" height="11.53" fill="#fcd061"/>
<rect x="287.71" y="110.77" width="2.69" height="11.53" fill="#f49326"/>
<rect x="290.04" y="110.77" width="2.69" height="11.53" fill="#fab432"/>
<rect x="292.38" y="110.77" width="2.69" height="11.53" fill="#fbcb55"/>
<rect x="294.71" y="110.77" width="2.69" height="11.53" fill="#fab938"/>
<rect x="297.05" y="110.77" width="2.69" height="11.53" fill="#f8a622"/>
<rect x="299.38" y="110.77" width="2.69" height="11.53" fill="#e7693a"/>
<rect x="301.72" y="110.77" width="2.69" height="11.53" fill="#f8a926"/>
<rect x="304.06" y="110.77" width="2.69" height="11.53" fill="#f59a25"/>
<rect x="306.39" y="110.77" width="2.69" height="11.53" fill="#f38f27"/>
<rect x="308.73" y="110.77" width="2.69" height="11.53" fill="#f8aa27"/>
<rect x="311.06" y="110.77" width="2.69" height="11.53" fill="#fab432"/>
<rect x="313.40" y="110.77" width="2.69" height="11.53" fill="#f9ab27"/>
<rect x="315.73" y="110.77" width="2.69" height="11.53" fill="#cd4d60"/>
<rect x="318.07" y="110.77" width="2.69" height="11.53" fill="#f7a023"/>
<rect x="320.40" y="110.77" width="2.69" height="11.53" fill="#f49226"/>
<rect x="322.74" y="110.77" width="2.69" height="11.53" fill="#fbc54a"/>
<rect x="325.07" y="110.77" width="2.69" height="11.53" fill="#cc4d61"/>
<rect x="327.41" y="110.77" width="2.69" height="11.53" fill="#f8a422"/>
<rect x="329.74" y="110.77" width="2.69" height="11.53" fill="#f9b02e"/>
<rect x="332.08" y="110.77" width="2.69" height="11.53" fill="#fce485"/>
<rect x="334.42" y="110.77" width="2.69" height="11.53" fill="#fab736"/>
<rect x="336.75" y="110.77" width="2.69" height="11.53" fill="#fab533"/>
<rect x="339.09" y="110.77" width="2.69" height="11.53" fill="#fcd163"/>
<rect x="341.42" y="110.77" width="2.69" height="11.53" fill="#fbbc3c"/>
<rect x="343.76" y="110.77" width="2.69" height="11.53" fill="#d04f5d"/>
<rect x="346.09" y="110.77" width="2.69" height="11.53" fill="#fbc345"/>
<rect x="348.43" y="110.77" width="2.69" height="11.53" fill="#fccf5d"/>
<rect x="350.76" y="110.77" width="2.69" height="11.53" fill="#f9b02e"/>
<rect x="353.10" y="110.77" width="2.69" height="11.53" fill="#fcd265"/>
<rect x="355.43" y="110.77" width="2.69" height="11.53" fill="#fbc74f"/>
<rect x="357.77" y="110.77" width="2.69" height="11.53" fill="#f9ac29"/>
<rect x="360.11" y="110.77" width="2.69" height="11.53" fill="#fbca53"/>
<rect x="362.44" y="110.77" width="2.69" height="11.53" fill="#f69c24"/>
<rect x="364.78" y="110.77" width="2.69" height="11.53" fill="#f8a622"/>
<rect x="367.11" y="110.77" width="2.69" height="11.53" fill="#f8a824"/>
<rect x="369.45" y="110.77" width="2.69" height="11.53" fill="#f0852b"/>
<rect x="371.78" y="110.77" width="2.69" height="11.53" fill="#d55258"/>
<rect x="374.12" y="110.77" width="2.69" height="11.53" fill="#f28928"/>
<rect x="376.45" y="110.77" width="2.69" height="11.53" fill="#c1476c"/>
<rect x="378.79" y="110.77" width="2.69" height="11.53" fill="#f38f27"/>
<rect x="381.12" y="110.77" width="2.69" height="11.53" fill="#f39027"/>
<rect x="383.46" y="110.77" width="2.69" height="11.53" fill="#f59925"/>
<rect x="385.79" y="110.77" width="2.69" height="11.53" fill="#eb7334"/>
<rect x="388.13" y="110.77" width="2.69" height="11.53" fill="#f59a25"/>
<rect x="390.47" y="110.77" width="2.69" height="11.53" fill="#ed7a30"/>
<rect x="392.80" y="110.77" width="2.69" height="11.53" fill="#f9ad2a"/>
<rect x="395.14" y="110.77" width="2.69" height="11.53" fill="#f59925"/>
<rect x="397.47" y="110.77" width="2.69" height="11.53" fill="#f0842b"/>
<rect x="399.81" y="110.77" width="2.69" height="11.53" fill="#e6663c"/>
<rect x="402.14" y="110.77" width="2.69" height="11.53" fill="#f69e24"/>
<rect x="404.48" y="110.77" width="2.69" height="11.53" fill="#f28b28"/>
<rect x="406.81" y="110.77" width="2.69" height="11.53" fill="#f28c28"/>
<rect x="409.15" y="110.77" width="2.69" height="11.53" fill="#f8a622"/>
<rect x="411.48" y="110.77" width="2.69" height="11.53" fill="#e6673c"/>
<rect x="413.82" y="110.77" width="2.69" height="11.53" fill="#ef802d"/>
<rect x="416.15" y="110.77" width="2.69" height="11.53" fill="#f28c28"/>
<rect x="418.49" y="110.77" width="2.69" height="11.53" fill="#f28c28"/>
<rect x="420.83" y="110.77" width="2.69" height="11.53" fill="#fbc952"/>
<rect x="423.16" y="110.77" width="2.69" height="11.53" fill="#e15e46"/>
<rect x="425.50" y="110.77" width="2.69" height="11.53" fill="#f7a023"/>
<rect x="427.83" y="110.77" width="2.69" height="11.53" fill="#ed7a30"/>
<rect x="430.17" y="110.77" width="2.69" height="11.53" fill="#f38d27"/>
<rect x="432.50" y="110.77" width="2.69" height="11.53" fill="#fbc952"/>
<rect x="434.84" y="110.77" width="2.69" height="11.53" fill="#f38e27"/>
<rect x="437.17" y="110.77" width="2.69" height="11.53" fill="#fcce5c"/>
<rect x="439.51" y="110.77" width="2.69" height="11.53" fill="#f38f27"/>
<rect x="441.84" y="110.77" width="2.69" height="11.53" fill="#fbc74f"/>
<rect x="444.18" y="110.77" width="2.69" height="11.53" fill="#fbc850"/>
<rect x="446.51" y="110.77" width="2.69" height="11.53" fill="#f59925"/>
<rect x="448.85" y="110.77" width="2.69" height="11.53" fill="#f69c24"/>
<rect x="451.19" y="110.77" width="2.69" height="11.53" fill="#e5653e"/>
<rect x="453.52" y="110.77" width="2.69" height="11.53" fill="#fbbc3c"/>
<rect x="455.86" y="110.77" width="2.69" height="11.53" fill="#f18829"/>
<rect x="458.19" y="110.77" width="2.69" height="11.53" fill="#fbca55"/>
<rect x="460.53" y="110.77" width="2.69" height="11.53" fill="#ec7632"/>
<rect x="462.86" y="110.77" width="2.69" height="11.53" fill="#ef812d"/>
<rect x="465.20" y="110.77" width="2.69" height="11.53" fill="#f69f24"/>
<rect x="467.53" y="110.77" width="2.69" height="11.53" fill="#f8a622"/>
<rect x="469.87" y="110.77" width="2.69" height="11.53" fill="#f1872a"/>
<rect x="472.20" y="110.77" width="2.69" height="11.53" fill="#ef802d"/>
<rect x="474.54" y="110.77" width="2.69" height="11.53" fill="#ea7135"/>
<rect x="476.87" y="110.77" width="2.69" height="11.53" fill="#f38e27"/>
<rect x="479.21" y="110.77" width="2.69" height="11.53" fill="#f49426"/>
<rect x="481.55" y="110.77" width="2.69" height="11.53" fill="#f69b24"/>
<rect x="483.88" y="110.77" width="2.69" height="11.53" fill="#f9b02d"/>
<rect x="486.22" y="110.77" width="2.69" height="11.53" fill="#fce07d"/>
<rect x="488.55" y="110.77" width="2.69" height="11.53" fill="#fab837"/>
<rect x="490.89" y="110.77" width="2.69" height="11.53" fill="#f69e24"/>
<rect x="493.22" y="110.77" width="2.69" height="11.53" fill="#f9b02d"/>
<rect x="495.56" y="110.77" width="2.69" height="11.53" fill="#fce180"/>
<rect x="497.89" y="110.77" width="2.69" height="11.53" fill="#fbc03f"/>
<rect x="500.23" y="110.77" width="2.69" height="11.53" fill="#fbc347"/>
<rect x="502.56" y="110.77" width="2.69" height="11.53" fill="#b64272"/>
<rect x="504.90" y="110.77" width="2.69" height="11.53" fill="#c1476c"/>
<rect x="507.23" y="110.77" width="2.69" height="11.53" fill="#bd456e"/>
<rect x="509.57" y="110.77" width="2.69" height="11.53" fill="#bb446f"/>
<rect x="511.91" y="110.77" width="2.69" height="11.53" fill="#c3486a"/>
<rect x="514.24" y="110.77" width="2.69" height="11.53" fill="#d65257"/>
<rect x="516.58" y="110.77" width="2.69" height="11.53" fill="#be466d"/>
<rect x="518.91" y="110.77" width="2.69" height="11.53" fill="#cd4d61"/>
<rect x="521.25" y="110.77" width="2.69" height="11.53" fill="#c3486a"/>
<rect x="523.58" y="110.77" width="2.69" height="11.53" fill="#d14f5c"/>
<rect x="525.92" y="110.77" width="2.69" height="11.53" fill="#be466d"/>
<rect x="528.25" y="110.77" width="2.69" height="11.53" fill="#be456e"/>
<rect x="530.59" y="110.77" width="2.69" height="11.53" fill="#c74a67"/>
<rect x="532.92" y="110.77" width="2.69" height="11.53" fill="#a83c7a"/>
<rect x="535.26" y="110.77" width="2.69" height="11.53" fill="#d04f5d"/>
<rect x="537.59" y="110.77" width="2.69" height="11.53" fill="#b64272"/>
<rect x="539.93" y="110.77" width="2.69" height="11.53" fill="#b84371"/>
<rect x="542.27" y="110.77" width="2.69" height="11.53" fill="#b24074"/>
<rect x="544.60" y="110.77" width="2.69" height="11.53" fill="#d95454"/>
<rect x="546.94" y="110.77" width="2.69" height="11.53" fill="#af3f76"/>
<rect x="549.27" y="110.77" width="2.69" height="11.53" fill="#db5651"/>
<rect x="551.61" y="110.77" width="2.69" height="11.53" fill="#cd4d60"/>
<rect x="553.94" y="110.77" width="2.69" height="11.53" fill="#ae3f76"/>
<rect x="556.28" y="110.77" width="2.69" height="11.53" fill="#c64968"/>
<rect x="558.61" y="110.77" width="2.69" height="11.53" fill="#bf466d"/>
<rect x="560.95" y="110.77" width="2.69" height="11.53" fill="#cf4f5e"/>
<rect x="563.28" y="110.77" width="2.69" height="11.53" fill="#bf466d"/>
<rect x="565.62" y="110.77" width="2.69" height="11.53" fill="#bb446f"/>
<rect x="567.96" y="110.77" width="2.69" height="11.53" fill="#ba4470"/>
<rect x="570.29" y="110.77" width="2.69" height="11.53" fill="#d55258"/>
<rect x="572.63" y="110.77" width="2.69" height="11.53" fill="#b94370"/>
<rect x="574.96" y="110.77" width="2.69" height="11.53" fill="#d14f5c"/>
<rect x="577.30" y="110.77" width="2.69" height="11.53" fill="#c94b64"/>
<rect x="579.63" y="110.77" width="2.69" height="11.53" fill="#ad3e77"/>
<rect x="581.97" y="110.77" width="2.69" height="11.53" fill="#b24074"/>
<rect x="584.30" y="110.77" width="2.69" height="11.53" fill="#d14f5c"/>
<rect x="586.64" y="110.77" width="2.69" height="11.53" fill="#bb446f"/>
<rect x="588.97" y="110.77" width="2.69" height="11.53" fill="#aa3d79"/>
<rect x="591.31" y="110.77" width="2.69" height="11.53" fill="#ca4b64"/>
<rect x="593.64" y="110.77" width="2.69" height="11.53" fill="#d85355"/>
<rect x="595.98" y="110.77" width="2.69" height="11.53" fill="#ac3e77"/>
<rect x="598.32" y="110.77" width="2.69" height="11.53" fill="#c1476b"/>
<rect x="600.65" y="110.77" width="2.69" height="11.53" fill="#c74a67"/>
<rect x="602.99" y="110.77" width="2.69" height="11.53" fill="#c84a65"/>
<rect x="605.32" y="110.77" width="2.69" height="11.53" fill="#c3476b"/>
<rect x="607.66" y="110.77" width="2.69" height="11.53" fill="#bb446f"/>
<rect x="609.99" y="110.77" width="2.69" height="11.53" fill="#cf4e5e"/>
<rect x="612.33" y="110.77" width="2.69" height="11.53" fill="#c64968"/>
<rect x="614.66" y="110.77" width="2.69" height="11.53" fill="#d3515a"/>
<rect x="617.00" y="110.77" width="2.69" height="11.53" fill="#b74271"/>
<rect x="619.33" y="110.77" width="2.69" height="11.53" fill="#b94370"/>
<rect x="621.67" y="110.77" width="2.69" height="11.53" fill="#b74272"/>
<rect x="624.00" y="110.77" width="2.69" height="11.53" fill="#bb446f"/>
<rect x="626.34" y="110.77" width="2.69" height="11.53" fill="#b94370"/>
<rect x="628.68" y="110.77" width="2.69" height="11.53" fill="#a93c7a"/>
<rect x="631.01" y="110.77" width="2.69" height="11.53" fill="#c2476b"/>
<rect x="633.35" y="110.77" width="2.69" height="11.53" fill="#b54272"/>
<rect x="635.68" y="110.77" width="2.69" height="11.53" fill="#b44173"/>
<rect x="638.02" y="110.77" width="2.69" height="11.53" fill="#b84371"/>
<rect x="640.35" y="110.77" width="2.69" height="11.53" fill="#c74a66"/>
<rect x="642.69" y="110.77" width="2.69" height="11.53" fill="#c3486b"/>
<rect x="645.02" y="110.77" width="2.69" height="11.53" fill="#c0466c"/>
<rect x="647.36" y="110.77" width="2.69" height="11.53" fill="#ab3d78"/>
<rect x="649.69" y="110.77" width="2.69" height="11.53" fill="#cb4c62"/>
<rect x="652.03" y="110.77" width="2.69" height="11.53" fill="#d04f5d"/>
<rect x="654.36" y="110.77" width="2.69" height="11.53" fill="#b03f76"/>
<rect x="241.00" y="121.95" width="2.69" height="11.53" fill="#f0822c"/>
<rect x="243.34" y="121.95" width="2.69" height="11.53" fill="#f49326"/>
<rect x="245.67" y="121.95" width="2.69" height="11.53" fill="#fcda74"/>
<rect x="248.01" y="121.95" width="2.69" height="11.53" fill="#e5663d"/>
<rect x="250.34" y="121.95" width="2.69" height="11.53" fill="#f8a926"/>
<rect x="252.68" y="121.95" width="2.69" height="11.53" fill="#f38e27"/>
<rect x="255.01" y="121.95" width="2.69" height="11.53" fill="#f69b24"/>
<rect x="257.35" y="121.95" width="2.69" height="11.53" fill="#f0852b"/>
<rect x="259.68" y="121.95" width="2.69" height="11.53" fill="#fbc953"/>
<rect x="262.02" y="121.95" width="2.69" height="11.53" fill="#d1505c"/>
<rect x="264.35" y="121.95" width="2.69" height="11.53" fill="#ef802d"/>
<rect x="266.69" y="121.95" width="2.69" height="11.53" fill="#f9ab28"/>
<rect x="269.02" y="121.95" width="2.69" height="11.53" fill="#f0832c"/>
<rect x="271.36" y="121.95" width="2.69" height="11.53" fill="#e7683a"/>
<rect x="273.70" y="121.95" width="2.69" height="11.53" fill="#f38e27"/>
<rect x="276.03" y="121.95" width="2.69" height="11.53" fill="#fcd163"/>
<rect x="278.37" y="121.95" width="2.69" height="11.53" fill="#bf466d"/>
<rect x="280.70" y="121.95" width="2.69" height="11.53" fill="#c4486a"/>
<rect x="283.04" y="121.95" width="2.69" height="11.53" fill="#e96d37"/>
<rect x="285.37" y="121.95" width="2.69" height="11.53" fill="#f9b230"/>
<rect x="287.71" y="121.95" width="2.69" height="11.53" fill="#fcd05f"/>
<rect x="290.04" y="121.95" width="2.69" height="11.53" fill="#f59725"/>
<rect x="292.38" y="121.95" width="2.69" height="11.53" fill="#f8aa26"/>
<rect x="294.71" y="121.95" width="2.69" height="11.53" fill="#ed7b30"/>
<rect x="297.05" y="121.95" width="2.69" height="11.53" fill="#f9ae2b"/>
<rect x="299.38" y="121.95" width="2.69" height="11.53" fill="#f0832b"/>
<rect x="301.72" y="121.95" width="2.69" height="11.53" fill="#ed7a30"/>
<rect x="304.06" y="121.95" width="2.69" height="11.53" fill="#f38d27"/>
<rect x="306.39" y="121.95" width="2.69" height="11.53" fill="#f38d27"/>
<rect x="308.73" y="121.95" width="2.69" height="11.53" fill="#c54969"/>
<rect x="311.06" y="121.95" width="2.69" height="11.53" fill="#f8a824"/>
<rect x="313.40" y="121.95" width="2.69" height="11.53" fill="#f69b24"/>
<rect x="315.73" y="121.95" width="2.69" height="11.53" fill="#eb7433"/>
<rect x="318.07" y="121.95" width="2.69" height="11.53" fill="#f69f24"/>
<rect x="320.40" y="121.95" width="2.69" height="11.53" fill="#fbc142"/>
<rect x="322.74" y="121.95" width="2.69" height="11.53" fill="#f38e27"/>
<rect x="325.07" y="121.95" width="2.69" height="11.53" fill="#ee7c2f"/>
<rect x="327.41" y="121.95" width="2.69" height="11.53" fill="#fbcb57"/>
<rect x="329.74" y="121.95" width="2.69" height="11.53" fill="#ee7e2e"/>
<rect x="332.08" y="121.95" width="2.69" height="11.53" fill="#c1476c"/>
<rect x="334.42" y="121.95" width="2.69" height="11.53" fill="#f8a824"/>
<rect x="336.75" y="121.95" width="2.69" height="11.53" fill="#f59925"/>
<rect x="339.09" y="121.95" width="2.69" height="11.53" fill="#f49426"/>
<rect x="341.42" y="121.95" width="2.69" height="11.53" fill="#f1872a"/>
<rect x="343.76" y="121.95" width="2.69" height="11.53" fill="#ea7234"/>
<rect x="346.09" y="121.95" width="2.69" height="11.53" fill="#ec7632"/>
<rect x="348.43" y="121.95" width="2.69" height="11.53" fill="#f49426"/>
<rect x="350.76" y="121.95" width="2.69" height="11.53" fill="#f7a223"/>
<rect x="353.10" y="121.95" width="2.69" height="11.53" fill="#f49226"/>
<rect x="355.43" y="121.95" width="2.69" height="11.53" fill="#f59725"/>
<rect x="357.77" y="121.95" width="2.69" height="11.53" fill="#ee7e2e"/>
<rect x="360.11" y="121.95" width="2.69" height="11.53" fill="#eb7433"/>
<rect x="362.44" y="121.95" width="2.69" height="11.53" fill="#ef7f2e"/>
<rect x="364.78" y="121.95" width="2.69" height="11.53" fill="#ee7d2e"/>
<rect x="367.11" y="121.95" width="2.69" height="11.53" fill="#f28928"/>
<rect x="369.45" y="121.95" width="2.69" height="11.53" fill="#f28b28"/>
<rect x="371.78" y="121.95" width="2.69" height="11.53" fill="#eb7433"/>
<rect x="374.12" y="121.95" width="2.69" height="11.53" fill="#cf4f5e"/>
<rect x="376.45" y="121.95" width="2.69" height="11.53" fill="#ef822c"/>
<rect x="378.79" y="121.95" width="2.69" height="11.53" fill="#fab938"/>
<rect x="381.12" y="121.95" width="2.69" height="11.53" fill="#fbc346"/>
<rect x="383.46" y="121.95" width="2.69" height="11.53" fill="#fbc64b"/>
<rect x="385.79" y="121.95" width="2.69" height="11.53" fill="#e96c37"/>
<rect x="388.13" y="121.95" width="2.69" height="11.53" fill="#ef7f2d"/>
<rect x="390.47" y="121.95" width="2.69" height="11.53" fill="#eb7234"/>
<rect x="392.80" y="121.95" width="2.69" height="11.53" fill="#ea7035"/>
<rect x="395.14" y="121.95" width="2.69" height="11.53" fill="#e5653e"/>
<rect x="397.47" y="121.95" width="2.69" height="11.53" fill="#ee7e2e"/>
<rect x="399.81" y="121.95" width="2.69" height="11.53" fill="#e5653e"/>
<rect x="402.14" y="121.95" width="2.69" height="11.53" fill="#f8a925"/>
<rect x="404.48" y="121.95" width="2.69" height="11.53" fill="#f28b28"/>
<rect x="406.81" y="121.95" width="2.69" height="11.53" fill="#e5653e"/>
<rect x="409.15" y="121.95" width="2.69" height="11.53" fill="#ec7632"/>
<rect x="411.48" y="121.95" width="2.69" height="11.53" fill="#f1862a"/>
<rect x="413.82" y="121.95" width="2.69" height="11.53" fill="#f7a123"/>
<rect x="416.15" y="121.95" width="2.69" height="11.53" fill="#e7683a"/>
<rect x="418.49" y="121.95" width="2.69" height="11.53" fill="#f8a422"/>
<rect x="420.83" y="121.95" width="2.69" height="11.53" fill="#f28b28"/>
<rect x="423.16" y="121.95" width="2.69" height="11.53" fill="#f59925"/>
<rect x="425.50" y="121.95" width="2.69" height="11.53" fill="#eb7433"/>
<rect x="427.83" y="121.95" width="2.69" height="11.53" fill="#f49426"/>
<rect x="430.17" y="121.95" width="2.69" height="11.53" fill="#fab938"/>
<rect x="432.50" y="121.95" width="2.69" height="11.53" fill="#f9b22f"/>
<rect x="434.84" y="121.95" width="2.69" height="11.53" fill="#f49426"/>
<rect x="437.17" y="121.95" width="2.69" height="11.53" fill="#f0842b"/>
<rect x="439.51" y="121.95" width="2.69" height="11.53" fill="#ec7831"/>
<rect x="441.84" y="121.95" width="2.69" height="11.53" fill="#f38e27"/>
<rect x="444.18" y="121.95" width="2.69" height="11.53" fill="#ee7c2f"/>
<rect x="446.51" y="121.95" width="2.69" height="11.53" fill="#eb7533"/>
<rect x="448.85" y="121.95" width="2.69" height="11.53" fill="#f8a622"/>
<rect x="451.19" y="121.95" width="2.69" height="11.53" fill="#f9aa27"/>
<rect x="453.52" y="121.95" width="2.69" height="11.53" fill="#f7a323"/>
<rect x="455.86" y="121.95" width="2.69" height="11.53" fill="#f0822c"/>
<rect x="458.19" y="121.95" width="2.69" height="11.53" fill="#f39027"/>
<rect x="460.53" y="121.95" width="2.69" height="11.53" fill="#f18729"/>
<rect x="462.86" y="121.95" width="2.69" height="11.53" fill="#f59625"/>
<rect x="465.20" y="121.95" width="2.69" height="11.53" fill="#f38d27"/>
<rect x="467.53" y="121.95" width="2.69" height="11.53" fill="#f1862a"/>
<rect x="469.87" y="121.95" width="2.69" height="11.53" fill="#f1862a"/>
<rect x="472.20" y="121.95" width="2.69" height="11.53" fill="#f49126"/>
<rect x="474.54" y="121.95" width="2.69" height="11.53" fill="#e96e36"/>
<rect x="476.87" y="121.95" width="2.69" height="11.53" fill="#d65356"/>
<rect x="479.21" y="121.95" width="2.69" height="11.53" fill="#f49226"/>
<rect x="481.55" y="121.95" width="2.69" height="11.53" fill="#e96d36"/>
<rect x="483.88" y="121.95" width="2.69" height="11.53" fill="#ee7c2f"/>
<rect x="486.22" y="121.95" width="2.69" height="11.53" fill="#e36242"/>
<rect x="488.55" y="121.95" width="2.69" height="11.53" fill="#e25f45"/>
<rect x="490.89" y="121.95" width="2.69" height="11.53" fill="#e15e46"/>
<rect x="493.22" y="121.95" width="2.69" height="11.53" fill="#e96c37"/>
<rect x="495.56" y="121.95" width="2.69" height="11.53" fill="#e5663d"/>
<rect x="497.89" y="121.95" width="2.69" height="11.53" fill="#de5a4b"/>
<rect x="500.23" y="121.95" width="2.69" height="11.53" fill="#e4643f"/>
<rect x="502.56" y="121.95" width="2.69" height="11.53" fill="#d14f5c"/>
<rect x="504.90" y="121.95" width="2.69" height="11.53" fill="#ce4e60"/>
<rect x="507.23" y="121.95" width="2.69" height="11.53" fill="#b54273"/>
<rect x="509.57" y="121.95" width="2.69" height="11.53" fill="#b64272"/>
<rect x="511.91" y="121.95" width="2.69" height="11.53" fill="#c1476c"/>
<rect x="514.24" y="121.95" width="2.69" height="11.53" fill="#cd4d60"/>
<rect x="516.58" y="121.95" width="2.69" height="11.53" fill="#ad3e77"/>
<rect x="518.91" y="121.95" width="2.69" height="11.53" fill="#cc4c62"/>
<rect x="521.25" y="121.95" width="2.69" height="11.53" fill="#c0466d"/>
<rect x="523.58" y="121.95" width="2.69" height="11.53" fill="#bf466d"/>
<rect x="525.92" y="121.95" width="2.69" height="11.53" fill="#c74a67"/>
<rect x="528.25" y="121.95" width="2.69" height="11.53" fill="#be466d"/>
<rect x="530.59" y="121.95" width="2.69" height="11.53" fill="#bd456e"/>
<rect x="532.92" y="121.95" width="2.69" height="11.53" fill="#b03f76"/>
<rect x="535.26" y="121.95" width="2.69" height="11.53" fill="#d55257"/>
<rect x="537.59" y="121.95" width="2.69" height="11.53" fill="#a83c7a"/>
<rect x="539.93" y="121.95" width="2.69" height="11.53" fill="#af3f76"/>
<rect x="542.27" y="121.95" width="2.69" height="11.53" fill="#b04075"/>
<rect x="544.60" y="121.95" width="2.69" height="11.53" fill="#d95453"/>
<rect x="546.94" y="121.95" width="2.69" height="11.53" fill="#9c357b"/>
<rect x="549.27" y="121.95" width="2.69" height="11.53" fill="#db5651"/>
<rect x="551.61" y="121.95" width="2.69" height="11.53" fill="#ae3f77"/>
<rect x="553.94" y="121.95" width="2.69" height="11.53" fill="#ac3e78"/>
<rect x="556.28" y="121.95" width="2.69" height="11.53" fill="#b94370"/>
<rect x="558.61" y="121.95" width="2.69" height="11.53" fill="#bd456e"/>
<rect x="560.95" y="121.95" width="2.69" height="11.53" fill="#c64968"/>
<rect x="563.28" y="121.95" width="2.69" height="11.53" fill="#b03f76"/>
<rect x="565.62" y="121.95" width="2.69" height="11.53" fill="#b94371"/>
<rect x="567.96" y="121.95" width="2.69" height="11.53" fill="#b04075"/>
<rect x="570.29" y="121.95" width="2.69" height="11.53" fill="#d65356"/>
<rect x="572.63" y="121.95" width="2.69" height="11.53" fill="#c64968"/>
<rect x="574.96" y="121.95" width="2.69" height="11.53" fill="#c84a66"/>
<rect x="577.30" y="121.95" width="2.69" height="11.53" fill="#c0466d"/>
<rect x="579.63" y="121.95" width="2.69" height="11.53" fill="#bf466d"/>
<rect x="581.97" y="121.95" width="2.69" height="11.53" fill="#a1387b"/>
<rect x="584.30" y="121.95" width="2.69" height="11.53" fill="#cd4d60"/>
<rect x="586.64" y="121.95" width="2.69" height="11.53" fill="#cb4c62"/>
<rect x="588.97" y="121.95" width="2.69" height="11.53" fill="#b04075"/>
<rect x="591.31" y="121.95" width="2.69" height="11.53" fill="#ba4470"/>
<rect x="593.64" y="121.95" width="2.69" height="11.53" fill="#dc5650"/>
<rect x="595.98" y="121.95" width="2.69" height="11.53" fill="#bc446f"/>
<rect x="598.32" y="121.95" width="2.69" height="11.53" fill="#c1476b"/>
<rect x="600.65" y="121.95" width="2.69" height="11.53" fill="#c74a67"/>
<rect x="602.99" y="121.95" width="2.69" height="11.53" fill="#c74a67"/>
<rect x="605.32" y="121.95" width="2.69" height="11.53" fill="#cd4d61"/>
<rect x="607.66" y="121.95" width="2.69" height="11.53" fill="#d04f5d"/>
<rect x="609.99" y="121.95" width="2.69" height="11.53" fill="#cf4f5e"/>
<rect x="612.33" y="121.95" width="2.69" height="11.53" fill="#c64968"/>
<rect x="614.66" y="121.95" width="2.69" height="11.53" fill="#aa3d79"/>
<rect x="617.00" y="121.95" width="2.69" height="11.53" fill="#ba4470"/>
<rect x="619.33" y="121.95" width="2.69" height="11.53" fill="#ba4470"/>
<rect x="621.67" y="121.95" width="2.69" height="11.53" fill="#b74371"/>
<rect x="624.00" y="121.95" width="2.69" height="11.53" fill="#b44173"/>
<rect x="626.34" y="121.95" width="2.69" height="11.53" fill="#b74272"/>
<rect x="628.68" y="121.95" width="2.69" height="11.53" fill="#c74a67"/>
<rect x="631.01" y="121.95" width="2.69" height="11.53" fill="#ba4470"/>
<rect x="633.35" y="121.95" width="2.69" height="11.53" fill="#c4486a"/>
<rect x="635.68" y="121.95" width="2.69" height="11.53" fill="#b64272"/>
<rect x="638.02" y="121.95" width="2.69" height="11.53" fill="#b03f76"/>
<rect x="640.35" y="121.95" width="2.69" height="11.53" fill="#be456d"/>
<rect x="642.69" y="121.95" width="2.69" height="11.53" fill="#da5553"/>
<rect x="645.02" y="121.95" width="2.69" height="11.53" fill="#b74271"/>
<rect x="647.36" y="121.95" width="2.69" height="11.53" fill="#c84b65"/>
<rect x="649.69" y="121.95" width="2.69" height="11.53" fill="#c2476b"/>
<rect x="652.03" y="121.95" width="2.69" height="11.53" fill="#d14f5c"/>
<rect x="654.36" y="121.95" width="2.69" height="11.53" fill="#b04075"/>
<rect x="241.00" y="133.13" width="2.69" height="11.53" fill="#f69c24"/>
<rect x="243.34" y="133.13" width="2.69" height="11.53" fill="#df5b4a"/>
<rect x="245.67" y="133.13" width="2.69" height="11.53" fill="#f0832c"/>
<rect x="248.01" y="133.13" width="2.69" height="11.53" fill="#f0832c"/>
<rect x="250.34" y="133.13" width="2.69" height="11.53" fill="#f1862a"/>
<rect x="252.68" y="133.13" width="2.69" height="11.53" fill="#f8a422"/>
<rect x="255.01" y="133.13" width="2.69" height="11.53" fill="#eb7333"/>
<rect x="257.35" y="133.13" width="2.69" height="11.53" fill="#e96f36"/>
<rect x="259.68" y="133.13" width="2.69" height="11.53" fill="#ec7632"/>
<rect x="262.02" y="133.13" width="2.69" height="11.53" fill="#f8a723"/>
<rect x="264.35" y="133.13" width="2.69" height="11.53" fill="#f9af2c"/>
<rect x="266.69" y="133.13" width="2.69" height="11.53" fill="#f7a023"/>
<rect x="269.02" y="133.13" width="2.69" height="11.53" fill="#c4486a"/>
<rect x="271.36" y="133.13" width="2.69" height="11.53" fill="#f69a24"/>
<rect x="273.70" y="133.13" width="2.69" height="11.53" fill="#f8a623"/>
<rect x="276.03" y="133.13" width="2.69" height="11.53" fill="#db5552"/>
<rect x="278.37" y="133.13" width="2.69" height="11.53" fill="#d95453"/>
<rect x="280.70" y="133.13" width="2.69" height="11.53" fill="#e15e46"/>
<rect x="283.04" y="133.13" width="2.69" height="11.53" fill="#d85454"/>
<rect x="285.37" y="133.13" width="2.69" height="11.53" fill="#ec7731"/>
<rect x="287.71" y="133.13" width="2.69" height="11.53" fill="#fbc952"/>
<rect x="290.04" y="133.13" width="2.69" height="11.53" fill="#e05d48"/>
<rect x="292.38" y="133.13" width="2.69" height="11.53" fill="#d85355"/>
<rect x="294.71" y="133.13" width="2.69" height="11.53" fill="#d95454"/>
<rect x="297.05" y="133.13" width="2.69" height="11.53" fill="#f8a926"/>
<rect x="299.38" y="133.13" width="2.69" height="11.53" fill="#ba4470"/>
<rect x="301.72" y="133.13" width="2.69" height="11.53" fill="#ef802d"/>
<rect x="304.06" y="133.13" width="2.69" height="11.53" fill="#f7a023"/>
<rect x="306.39" y="133.13" width="2.69" height="11.53" fill="#f1872a"/>
<rect x="308.73" y="133.13" width="2.69" height="11.53" fill="#e7693a"/>
<rect x="311.06" y="133.13" width="2.69" height="11.53" fill="#b84371"/>
<rect x="313.40" y="133.13" width="2.69" height="11.53" fill="#dc5650"/>
<rect x="315.73" y="133.13" width="2.69" height="11.53" fill="#dd574e"/>
<rect x="318.07" y="133.13" width="2.69" height="11.53" fill="#ed7831"/>
<rect x="320.40" y="133.13" width="2.69" height="11.53" fill="#e96e36"/>
<rect x="322.74" y="133.13" width="2.69" height="11.53" fill="#ed7930"/>
<rect x="325.07" y="133.13" width="2.69" height="11.53" fill="#f38d27"/>
<rect x="327.41" y="133.13" width="2.69" height="11.53" fill="#e86b38"/>
<rect x="329.74" y="133.13" width="2.69" height="11.53" fill="#f0832b"/>
<rect x="332.08" y="133.13" width="2.69" height="11.53" fill="#d3515a"/>
<rect x="334.42" y="133.13" width="2.69" height="11.53" fill="#f69b24"/>
<rect x="336.75" y="133.13" width="2.69" height="11.53" fill="#f38f27"/>
<rect x="339.09" y="133.13" width="2.69" height="11.53" fill="#f49126"/>
<rect x="341.42" y="133.13" width="2.69" height="11.53" fill="#c54969"/>
<rect x="343.76" y="133.13" width="2.69" height="11.53" fill="#e96d36"/>
<rect x="346.09" y="133.13" width="2.69" height="11.53" fill="#eb7234"/>
<rect x="348.43" y="133.13" width="2.69" height="11.53" fill="#cc4d61"/>
<rect x="350.76" y="133.13" width="2.69" height="11.53" fill="#e25f45"/>
<rect x="353.10" y="133.13" width="2.69" height="11.53" fill="#f69d24"/>
<rect x="355.43" y="133.13" width="2.69" height="11.53" fill="#ee7e2e"/>
<rect x="357.77" y="133.13" width="2.69" height="11.53" fill="#ca4b64"/>
<rect x="360.11" y="133.13" width="2.69" height="11.53" fill="#dc574f"/>
<rect x="362.44" y="133.13" width="2.69" height="11.53" fill="#d14f5c"/>
<rect x="364.78" y="133.13" width="2.69" height="11.53" fill="#e6663d"/>
<rect x="367.11" y="133.13" width="2.69" height="11.53" fill="#c84a66"/>
<rect x="369.45" y="133.13" width="2.69" height="11.53" fill="#fcd05f"/>
<rect x="371.78" y="133.13" width="2.69" height="11.53" fill="#b94370"/>
<rect x="374.12" y="133.13" width="2.69" height="11.53" fill="#e15f45"/>
<rect x="376.45" y="133.13" width="2.69" height="11.53" fill="#f28928"/>
<rect x="378.79" y="133.13" width="2.69" height="11.53" fill="#f49326"/>
<rect x="381.12" y="133.13" width="2.69" height="11.53" fill="#e7683a"/>
<rect x="383.46" y="133.13" width="2.69" height="11.53" fill="#f49426"/>
<rect x="385.79" y="133.13" width="2.69" height="11.53" fill="#e5653e"/>
<rect x="388.13" y="133.13" width="2.69" height="11.53" fill="#ef812d"/>
<rect x="390.47" y="133.13" width="2.69" height="11.53" fill="#d75355"/>
<rect x="392.80" y="133.13" width="2.69" height="11.53" fill="#e6663c"/>
<rect x="395.14" y="133.13" width="2.69" height="11.53" fill="#bb446f"/>
<rect x="397.47" y="133.13" width="2.69" height="11.53" fill="#e36242"/>
<rect x="399.81" y="133.13" width="2.69" height="11.53" fill="#c4486a"/>
<rect x="402.14" y="133.13" width="2.69" height="11.53" fill="#e05c49"/>
<rect x="404.48" y="133.13" width="2.69" height="11.53" fill="#ea7035"/>
<rect x="406.81" y="133.13" width="2.69" height="11.53" fill="#e86b37"/>
<rect x="409.15" y="133.13" width="2.69" height="11.53" fill="#f8a723"/>
<rect x="411.48" y="133.13" width="2.69" height="11.53" fill="#e6673c"/>
<rect x="413.82" y="133.13" width="2.69" height="11.53" fill="#f8a422"/>
<rect x="416.15" y="133.13" width="2.69" height="11.53" fill="#e6663d"/>
<rect x="418.49" y="133.13" width="2.69" height="11.53" fill="#fbcc58"/>
<rect x="420.83" y="133.13" width="2.69" height="11.53" fill="#d75355"/>
<rect x="423.16" y="133.13" width="2.69" height="11.53" fill="#fcda73"/>
<rect x="425.50" y="133.13" width="2.69" height="11.53" fill="#e26044"/>
<rect x="427.83" y="133.13" width="2.69" height="11.53" fill="#de5a4b"/>
<rect x="430.17" y="133.13" width="2.69" height="11.53" fill="#ce4e5f"/>
<rect x="432.50" y="133.13" width="2.69" height="11.53" fill="#d65257"/>
<rect x="434.84" y="133.13" width="2.69" height="11.53" fill="#f49326"/>
<rect x="437.17" y="133.13" width="2.69" height="11.53" fill="#ef812d"/>
<rect x="439.51" y="133.13" width="2.69" height="11.53" fill="#fcde7a"/>
<rect x="441.84" y="133.13" width="2.69" height="11.53" fill="#f28c28"/>
<rect x="444.18" y="133.13" width="2.69" height="11.53" fill="#ea6f35"/>
<rect x="446.51" y="133.13" width="2.69" height="11.53" fill="#e26143"/>
<rect x="448.85" y="133.13" width="2.69" height="11.53" fill="#ef7f2d"/>
<rect x="451.19" y="133.13" width="2.69" height="11.53" fill="#f1862a"/>
<rect x="453.52" y="133.13" width="2.69" height="11.53" fill="#f9b02d"/>
<rect x="455.86" y="133.13" width="2.69" height="11.53" fill="#de5a4b"/>
<rect x="458.19" y="133.13" width="2.69" height="11.53" fill="#ee7e2e"/>
<rect x="460.53" y="133.13" width="2.69" height="11.53" fill="#f28929"/>
<rect x="462.86" y="133.13" width="2.69" height="11.53" fill="#f8a723"/>
<rect x="465.20" y="133.13" width="2.69" height="11.53" fill="#f69b24"/>
<rect x="467.53" y="133.13" width="2.69" height="11.53" fill="#f49126"/>
<rect x="469.87" y="133.13" width="2.69" height="11.53" fill="#eb7334"/>
<rect x="472.20" y="133.13" width="2.69" height="11.53" fill="#d75355"/>
<rect x="474.54" y="133.13" width="2.69" height="11.53" fill="#ea6f35"/>
<rect x="476.87" y="133.13" width="2.69" height="11.53" fill="#cb4c63"/>
<rect x="479.21" y="133.13" width="2.69" height="11.53" fill="#f79f23"/>
<rect x="481.55" y="133.13" width="2.69" height="11.53" fill="#e26044"/>
<rect x="483.88" y="133.13" width="2.69" height="11.53" fill="#ec7831"/>
<rect x="486.22" y="133.13" width="2.69" height="11.53" fill="#e05d47"/>
<rect x="488.55" y="133.13" width="2.69" height="11.53" fill="#e36242"/>
<rect x="490.89" y="133.13" width="2.69" height="11.53" fill="#da5552"/>
<rect x="493.22" y="133.13" width="2.69" height="11.53" fill="#e96c37"/>
<rect x="495.56" y="133.13" width="2.69" height="11.53" fill="#da5552"/>
<rect x="497.89" y="133.13" width="2.69" height="11.53" fill="#dd574f"/>
<rect x="500.23" y="133.13" width="2.69" height="11.53" fill="#e46340"/>
<rect x="502.56" y="133.13" width="2.69" height="11.53" fill="#c84a66"/>
<rect x="504.90" y="133.13" width="2.69" height="11.53" fill="#b64272"/>
<rect x="507.23" y="133.13" width="2.69" height="11.53" fill="#ac3e78"/>
<rect x="509.57" y="133.13" width="2.69" height="11.53" fill="#a83c7a"/>
<rect x="511.91" y="133.13" width="2.69" height="11.53" fill="#c84a66"/>
<rect x="514.24" y="133.13" width="2.69" height="11.53" fill="#b14075"/>
<rect x="516.58" y="133.13" width="2.69" height="11.53" fill="#a83c7a"/>
<rect x="518.91" y="133.13" width="2.69" height="11.53" fill="#bc446f"/>
<rect x="521.25" y="133.13" width="2.69" height="11.53" fill="#b24074"/>
<rect x="523.58" y="133.13" width="2.69" height="11.53" fill="#c4486a"/>
<rect x="525.92" y="133.13" width="2.69" height="11.53" fill="#bd456e"/>
<rect x="528.25" y="133.13" width="2.69" height="11.53" fill="#bf466d"/>
<rect x="530.59" y="133.13" width="2.69" height="11.53" fill="#c3486b"/>
<rect x="532.92" y="133.13" width="2.69" height="11.53" fill="#b24074"/>
<rect x="535.26" y="133.13" width="2.69" height="11.53" fill="#c84a66"/>
<rect x="537.59" y="133.13" width="2.69" height="11.53" fill="#cf4e5e"/>
<rect x="539.93" y="133.13" width="2.69" height="11.53" fill="#c74a67"/>
<rect x="542.27" y="133.13" width="2.69" height="11.53" fill="#a93c79"/>
<rect x="544.60" y="133.13" width="2.69" height="11.53" fill="#c64968"/>
<rect x="546.94" y="133.13" width="2.69" height="11.53" fill="#b04075"/>
<rect x="549.27" y="133.13" width="2.69" height="11.53" fill="#d65356"/>
<rect x="551.61" y="133.13" width="2.69" height="11.53" fill="#c0466c"/>
<rect x="553.94" y="133.13" width="2.69" height="11.53" fill="#b74371"/>
<rect x="556.28" y="133.13" width="2.69" height="11.53" fill="#c94b64"/>
<rect x="558.61" y="133.13" width="2.69" height="11.53" fill="#cb4c63"/>
<rect x="560.95" y="133.13" width="2.69" height="11.53" fill="#c3476b"/>
<rect x="563.28" y="133.13" width="2.69" height="11.53" fill="#b24074"/>
<rect x="565.62" y="133.13" width="2.69" height="11.53" fill="#b04075"/>
<rect x="567.96" y="133.13" width="2.69" height="11.53" fill="#c74a67"/>
<rect x="570.29" y="133.13" width="2.69" height="11.53" fill="#e5653e"/>
<rect x="572.63" y="133.13" width="2.69" height="11.53" fill="#c0466c"/>
<rect x="574.96" y="133.13" width="2.69" height="11.53" fill="#d04f5d"/>
<rect x="577.30" y="133.13" width="2.69" height="11.53" fill="#c4486a"/>
<rect x="579.63" y="133.13" width="2.69" height="11.53" fill="#c1476c"/>
<rect x="581.97" y="133.13" width="2.69" height="11.53" fill="#c84a66"/>
<rect x="584.30" y="133.13" width="2.69" height="11.53" fill="#cc4c62"/>
<rect x="586.64" y="133.13" width="2.69" height="11.53" fill="#c0466d"/>
<rect x="588.97" y="133.13" width="2.69" height="11.53" fill="#a83c7a"/>
<rect x="591.31" y="133.13" width="2.69" height="11.53" fill="#c64968"/>
<rect x="593.64" y="133.13" width="2.69" height="11.53" fill="#db5651"/>
<rect x="595.98" y="133.13" width="2.69" height="11.53" fill="#bd456e"/>
<rect x="598.32" y="133.13" width="2.69" height="11.53" fill="#bc456f"/>
<rect x="600.65" y="133.13" width="2.69" height="11.53" fill="#ca4c63"/>
<rect x="602.99" y="133.13" width="2.69" height="11.53" fill="#d2505b"/>
<rect x="605.32" y="133.13" width="2.69" height="11.53" fill="#c1476c"/>
<rect x="607.66" y="133.13" width="2.69" height="11.53" fill="#c1476c"/>
<rect x="609.99" y="133.13" width="2.69" height="11.53" fill="#c84a66"/>
<rect x="612.33" y="133.13" width="2.69" height="11.53" fill="#d2505b"/>
<rect x="614.66" y="133.13" width="2.69" height="11.53" fill="#c74a67"/>
<rect x="617.00" y="133.13" width="2.69" height="11.53" fill="#c1476c"/>
<rect x="619.33" y="133.13" width="2.69" height="11.53" fill="#bd456e"/>
<rect x="621.67" y="133.13" width="2.69" height="11.53" fill="#b94370"/>
<rect x="624.00" y="133.13" width="2.69" height="11.53" fill="#c0466c"/>
<rect x="626.34" y="133.13" width="2.69" height="11.53" fill="#c84a65"/>
<rect x="628.68" y="133.13" width="2.69" height="11.53" fill="#c74a67"/>
<rect x="631.01" y="133.13" width="2.69" height="11.53" fill="#cd4d60"/>
<rect x="633.35" y="133.13" width="2.69" height="11.53" fill="#b94370"/>
<rect x="635.68" y="133.13" width="2.69" height="11.53" fill="#c54969"/>
<rect x="638.02" y="133.13" width="2.69" height="11.53" fill="#cc4c62"/>
<rect x="640.35" y="133.13" width="2.69" height="11.53" fill="#c74a66"/>
<rect x="642.69" y="133.13" width="2.69" height="11.53" fill="#d04f5d"/>
<rect x="645.02" y="133.13" width="2.69" height="11.53" fill="#c94b65"/>
<rect x="647.36" y="133.13" width="2.69" height="11.53" fill="#bb446f"/>
<rect x="649.69" y="133.13" width="2.69" height="11.53" fill="#c2476b"/>
<rect x="652.03" y="133.13" width="2.69" height="11.53" fill="#c1476c"/>
<rect x="654.36" y="133.13" width="2.69" height="11.53" fill="#a43a7a"/>
<rect x="241.00" y="144.32" width="2.69" height="11.53" fill="#e46340"/>
<rect x="243.34" y="144.32" width="2.69" height="11.53" fill="#ee7f2e"/>
<rect x="245.67" y="144.32" width="2.69" height="11.53" fill="#dd584e"/>
<rect x="248.01" y="144.32" width="2.69" height="11.53" fill="#e46341"/>
<rect x="250.34" y="144.32" width="2.69" height="11.53" fill="#e86b38"/>
<rect x="252.68" y="144.32" width="2.69" height="11.53" fill="#da5553"/>
<rect x="255.01" y="144.32" width="2.69" height="11.53" fill="#f49626"/>
<rect x="257.35" y="144.32" width="2.69" height="11.53" fill="#b74271"/>
<rect x="259.68" y="144.32" width="2.69" height="11.53" fill="#f59725"/>
<rect x="262.02" y="144.32" width="2.69" height="11.53" fill="#de594d"/>
<rect x="264.35" y="144.32" width="2.69" height="11.53" fill="#ec7632"/>
<rect x="266.69" y="144.32" width="2.69" height="11.53" fill="#f8a422"/>
<rect x="269.02" y="144.32" width="2.69" height="11.53" fill="#e05d48"/>
<rect x="271.36" y="144.32" width="2.69" height="11.53" fill="#de5a4c"/>
<rect x="273.70" y="144.32" width="2.69" height="11.53" fill="#f9b12e"/>
<rect x="276.03" y="144.32" width="2.69" height="11.53" fill="#d85454"/>
<rect x="278.37" y="144.32" width="2.69" height="11.53" fill="#d65356"/>
<rect x="280.70" y="144.32" width="2.69" height="11.53" fill="#ef822c"/>
<rect x="283.04" y="144.32" width="2.69" height="11.53" fill="#f0852a"/>
<rect x="285.37" y="144.32" width="2.69" height="11.53" fill="#f59725"/>
<rect x="287.71" y="144.32" width="2.69" height="11.53" fill="#f28928"/>
<rect x="290.04" y="144.32" width="2.69" height="11.53" fill="#dd584e"/>
<rect x="292.38" y="144.32" width="2.69" height="11.53" fill="#fcde7a"/>
<rect x="294.71" y="144.32" width="2.69" height="11.53" fill="#b94370"/>
<rect x="297.05" y="144.32" width="2.69" height="11.53" fill="#f7a023"/>
<rect x="299.38" y="144.32" width="2.69" height="11.53" fill="#e6663d"/>
<rect x="301.72" y="144.32" width="2.69" height="11.53" fill="#dd584d"/>
<rect x="304.06" y="144.32" width="2.69" height="11.53" fill="#d04f5d"/>
<rect x="306.39" y="144.32" width="2.69" height="11.53" fill="#e46341"/>
<rect x="308.73" y="144.32" width="2.69" height="11.53" fill="#f49426"/>
<rect x="311.06" y="144.32" width="2.69" height="11.53" fill="#f38f27"/>
<rect x="313.40" y="144.32" width="2.69" height="11.53" fill="#b24074"/>
<rect x="315.73" y="144.32" width="2.69" height="11.53" fill="#fcd161"/>
<rect x="318.07" y="144.32" width="2.69" height="11.53" fill="#ed7b30"/>
<rect x="320.40" y="144.32" width="2.69" height="11.53" fill="#f18829"/>
<rect x="322.74" y="144.32" width="2.69" height="11.53" fill="#e86939"/>
<rect x="325.07" y="144.32" width="2.69" height="11.53" fill="#e6673c"/>
<rect x="327.41" y="144.32" width="2.69" height="11.53" fill="#fcdd78"/>
<rect x="329.74" y="144.32" width="2.69" height="11.53" fill="#bf466d"/>
<rect x="332.08" y="144.32" width="2.69" height="11.53" fill="#eb7433"/>
<rect x="334.42" y="144.32" width="2.69" height="11.53" fill="#de5a4b"/>
<rect x="336.75" y="144.32" width="2.69" height="11.53" fill="#e15f45"/>
<rect x="339.09" y="144.32" width="2.69" height="11.53" fill="#f69b24"/>
<rect x="341.42" y="144.32" width="2.69" height="11.53" fill="#f38d27"/>
<rect x="343.76" y="144.32" width="2.69" height="11.53" fill="#ee7c2f"/>
<rect x="346.09" y="144.32" width="2.69" height="11.53" fill="#dd574f"/>
<rect x="348.43" y="144.32" width="2.69" height="11.53" fill="#df5a4b"/>
<rect x="350.76" y="144.32" width="2.69" height="11.53" fill="#e86939"/>
<rect x="353.10" y="144.32" width="2.69" height="11.53" fill="#e76939"/>
<rect x="355.43" y="144.32" width="2.69" height="11.53" fill="#f1862a"/>
<rect x="357.77" y="144.32" width="2.69" height="11.53" fill="#f28b28"/>
<rect x="360.11" y="144.32" width="2.69" height="11.53" fill="#da5552"/>
<rect x="362.44" y="144.32" width="2.69" height="11.53" fill="#f1852a"/>
<rect x="364.78" y="144.32" width="2.69" height="11.53" fill="#fcd76e"/>
<rect x="367.11" y="144.32" width="2.69" height="11.53" fill="#eb7433"/>
<rect x="369.45" y="144.32" width="2.69" height="11.53" fill="#faba39"/>
<rect x="371.78" y="144.32" width="2.69" height="11.53" fill="#e76939"/>
<rect x="374.12" y="144.32" width="2.69" height="11.53" fill="#f9b02d"/>
<rect x="376.45" y="144.32" width="2.69" height="11.53" fill="#fccf5f"/>
<rect x="378.79" y="144.32" width="2.69" height="11.53" fill="#ec7632"/>
<rect x="381.12" y="144.32" width="2.69" height="11.53" fill="#d85455"/>
<rect x="383.46" y="144.32" width="2.69" height="11.53" fill="#e7683a"/>
<rect x="385.79" y="144.32" width="2.69" height="11.53" fill="#eb7334"/>
<rect x="388.13" y="144.32" width="2.69" height="11.53" fill="#c64968"/>
<rect x="390.47" y="144.32" width="2.69" height="11.53" fill="#ef802d"/>
<rect x="392.80" y="144.32" width="2.69" height="11.53" fill="#f49526"/>
<rect x="395.14" y="144.32" width="2.69" height="11.53" fill="#d85454"/>
<rect x="397.47" y="144.32" width="2.69" height="11.53" fill="#d45158"/>
<rect x="399.81" y="144.32" width="2.69" height="11.53" fill="#b64272"/>
<rect x="402.14" y="144.32" width="2.69" height="11.53" fill="#f49526"/>
<rect x="404.48" y="144.32" width="2.69" height="11.53" fill="#d55257"/>
<rect x="406.81" y="144.32" width="2.69" height="11.53" fill="#f0842b"/>
<rect x="409.15" y="144.32" width="2.69" height="11.53" fill="#fcd971"/>
<rect x="411.48" y="144.32" width="2.69" height="11.53" fill="#ee7c2f"/>
<rect x="413.82" y="144.32" width="2.69" height="11.53" fill="#eb7533"/>
<rect x="416.15" y="144.32" width="2.69" height="11.53" fill="#dd584d"/>
<rect x="418.49" y="144.32" width="2.69" height="11.53" fill="#f0832b"/>
<rect x="420.83" y="144.32" width="2.69" height="11.53" fill="#f7a423"/>
<rect x="423.16" y="144.32" width="2.69" height="11.53" fill="#e96c37"/>
<rect x="425.50" y="144.32" width="2.69" height="11.53" fill="#f18729"/>
<rect x="427.83" y="144.32" width="2.69" height="11.53" fill="#c84a66"/>
<rect x="430.17" y="144.32" width="2.69" height="11.53" fill="#e36241"/>
<rect x="432.50" y="144.32" width="2.69" height="11.53" fill="#e36142"/>
<rect x="434.84" y="144.32" width="2.69" height="11.53" fill="#f59a25"/>
<rect x="437.17" y="144.32" width="2.69" height="11.53" fill="#ec7632"/>
<rect x="439.51" y="144.32" width="2.69" height="11.53" fill="#fccf5f"/>
<rect x="441.84" y="144.32" width="2.69" height="11.53" fill="#eb7333"/>
<rect x="444.18" y="144.32" width="2.69" height="11.53" fill="#ef7f2d"/>
<rect x="446.51" y="144.32" width="2.69" height="11.53" fill="#f8a926"/>
<rect x="448.85" y="144.32" width="2.69" height="11.53" fill="#e7693a"/>
<rect x="451.19" y="144.32" width="2.69" height="11.53" fill="#f28929"/>
<rect x="453.52" y="144.32" width="2.69" height="11.53" fill="#f28c28"/>
<rect x="455.86" y="144.32" width="2.69" height="11.53" fill="#e5653e"/>
<rect x="458.19" y="144.32" width="2.69" height="11.53" fill="#fbcb56"/>
<rect x="460.53" y="144.32" width="2.69" height="11.53" fill="#f38e27"/>
<rect x="462.86" y="144.32" width="2.69" height="11.53" fill="#e36241"/>
<rect x="465.20" y="144.32" width="2.69" height="11.53" fill="#e15e47"/>
<rect x="467.53" y="144.32" width="2.69" height="11.53" fill="#f38f27"/>
<rect x="469.87" y="144.32" width="2.69" height="11.53" fill="#e05c48"/>
<rect x="472.20" y="144.32" width="2.69" height="11.53" fill="#e26143"/>
<rect x="474.54" y="144.32" width="2.69" height="11.53" fill="#cc4d61"/>
<rect x="476.87" y="144.32" width="2.69" height="11.53" fill="#e76939"/>
<rect x="479.21" y="144.32" width="2.69" height="11.53" fill="#d2505b"/>
<rect x="481.55" y="144.32" width="2.69" height="11.53" fill="#e26044"/>
<rect x="483.88" y="144.32" width="2.69" height="11.53" fill="#e26143"/>
<rect x="486.22" y="144.32" width="2.69" height="11.53" fill="#d85454"/>
<rect x="488.55" y="144.32" width="2.69" height="11.53" fill="#d65257"/>
<rect x="490.89" y="144.32" width="2.69" height="11.53" fill="#c84a66"/>
<rect x="493.22" y="144.32" width="2.69" height="11.53" fill="#e05c49"/>
<rect x="495.56" y="144.32" width="2.69" height="11.53" fill="#de5a4b"/>
<rect x="497.89" y="144.32" width="2.69" height="11.53" fill="#d35159"/>
<rect x="500.23" y="144.32" width="2.69" height="11.53" fill="#de5a4b"/>
<rect x="502.56" y="144.32" width="2.69" height="11.53" fill="#d3515a"/>
<rect x="504.90" y="144.32" width="2.69" height="11.53" fill="#c54968"/>
<rect x="507.23" y="144.32" width="2.69" height="11.53" fill="#c4486a"/>
<rect x="509.57" y="144.32" width="2.69" height="11.53" fill="#99347b"/>
<rect x="511.91" y="144.32" width="2.69" height="11.53" fill="#b14075"/>
<rect x="514.24" y="144.32" width="2.69" height="11.53" fill="#c94b64"/>
<rect x="516.58" y="144.32" width="2.69" height="11.53" fill="#aa3d79"/>
<rect x="518.91" y="144.32" width="2.69" height="11.53" fill="#ce4e5f"/>
<rect x="521.25" y="144.32" width="2.69" height="11.53" fill="#b94370"/>
<rect x="523.58" y="144.32" width="2.69" height="11.53" fill="#c74a66"/>
<rect x="525.92" y="144.32" width="2.69" height="11.53" fill="#bd456e"/>
<rect x="528.25" y="144.32" width="2.69" height="11.53" fill="#b54272"/>
<rect x="530.59" y="144.32" width="2.69" height="11.53" fill="#c94b65"/>
<rect x="532.92" y="144.32" width="2.69" height="11.53" fill="#bb446f"/>
<rect x="535.26" y="144.32" width="2.69" height="11.53" fill="#c64968"/>
<rect x="537.59" y="144.32" width="2.69" height="11.53" fill="#c84a66"/>
<rect x="539.93" y="144.32" width="2.69" height="11.53" fill="#b03f75"/>
<rect x="542.27" y="144.32" width="2.69" height="11.53" fill="#ae3f77"/>
<rect x="544.60" y="144.32" width="2.69" height="11.53" fill="#ca4b64"/>
<rect x="546.94" y="144.32" width="2.69" height="11.53" fill="#a73c7a"/>
<rect x="549.27" y="144.32" width="2.69" height="11.53" fill="#d85454"/>
<rect x="551.61" y="144.32" width="2.69" height="11.53" fill="#b64272"/>
<rect x="553.94" y="144.32" width="2.69" height="11.53" fill="#a43a7a"/>
<rect x="556.28" y="144.32" width="2.69" height="11.53" fill="#c0466c"/>
<rect x="558.61" y="144.32" width="2.69" height="11.53" fill="#af3f76"/>
<rect x="560.95" y="144.32" width="2.69" height="11.53" fill="#ca4c63"/>
<rect x="563.28" y="144.32" width="2.69" height="11.53" fill="#b54272"/>
<rect x="565.62" y="144.32" width="2.69" height="11.53" fill="#ba4470"/>
<rect x="567.96" y="144.32" width="2.69" height="11.53" fill="#b64272"/>
<rect x="570.29" y="144.32" width="2.69" height="11.53" fill="#d04f5c"/>
<rect x="572.63" y="144.32" width="2.69" height="11.53" fill="#b14075"/>
<rect x="574.96" y="144.32" width="2.69" height="11.53" fill="#c84b65"/>
<rect x="577.30" y="144.32" width="2.69" height="11.53" fill="#c64968"/>
<rect x="579.63" y="144.32" width="2.69" height="11.53" fill="#c4486a"/>
<rect x="581.97" y="144.32" width="2.69" height="11.53" fill="#ae3f76"/>
<rect x="584.30" y="144.32" width="2.69" height="11.53" fill="#b03f75"/>
<rect x="586.64" y="144.32" width="2.69" height="11.53" fill="#c94b65"/>
<rect x="588.97" y="144.32" width="2.69" height="11.53" fill="#af3f76"/>
<rect x="591.31" y="144.32" width="2.69" height="11.53" fill="#c54969"/>
<rect x="593.64" y="144.32" width="2.69" height="11.53" fill="#d45159"/>
<rect x="595.98" y="144.32" width="2.69" height="11.53" fill="#ad3e77"/>
<rect x="598.32" y="144.32" width="2.69" height="11.53" fill="#ca4c63"/>
<rect x="600.65" y="144.32" width="2.69" height="11.53" fill="#c0466c"/>
<rect x="602.99" y="144.32" width="2.69" height="11.53" fill="#c64968"/>
<rect x="605.32" y="144.32" width="2.69" height="11.53" fill="#c74a66"/>
<rect x="607.66" y="144.32" width="2.69" height="11.53" fill="#d04f5c"/>
<rect x="609.99" y="144.32" width="2.69" height="11.53" fill="#c54969"/>
<rect x="612.33" y="144.32" width="2.69" height="11.53" fill="#c4486a"/>
<rect x="614.66" y="144.32" width="2.69" height="11.53" fill="#b44173"/>
<rect x="617.00" y="144.32" width="2.69" height="11.53" fill="#d65356"/>
<rect x="619.33" y="144.32" width="2.69" height="11.53" fill="#b64272"/>
<rect x="621.67" y="144.32" width="2.69" height="11.53" fill="#b94370"/>
<rect x="624.00" y="144.32" width="2.69" height="11.53" fill="#b54272"/>
<rect x="626.34" y="144.32" width="2.69" height="11.53" fill="#b94371"/>
<rect x="628.68" y="144.32" width="2.69" height="11.53" fill="#b14075"/>
<rect x="631.01" y="144.32" width="2.69" height="11.53" fill="#ac3e77"/>
<rect x="633.35" y="144.32" width="2.69" height="11.53" fill="#b94370"/>
<rect x="635.68" y="144.32" width="2.69" height="11.53" fill="#bf466d"/>
<rect x="638.02" y="144.32" width="2.69" height="11.53" fill="#c64967"/>
<rect x="640.35" y="144.32" width="2.69" height="11.53" fill="#c3476b"/>
<rect x="642.69" y="144.32" width="2.69" height="11.53" fill="#db5651"/>
<rect x="645.02" y="144.32" width="2.69" height="11.53" fill="#c64968"/>
<rect x="647.36" y="144.32" width="2.69" height="11.53" fill="#ac3e78"/>
<rect x="649.69" y="144.32" width="2.69" height="11.53" fill="#d55258"/>
<rect x="652.03" y="144.32" width="2.69" height="11.53" fill="#c84a66"/>
<rect x="654.36" y="144.32" width="2.69" height="11.53" fill="#a83c7a"/>
<rect x="527.1" y="66.03" width="2.3" height="11.18" fill="#0a0810"/>
<rect x="527.1" y="121.95" width="2.3" height="11.18" fill="#0a0810"/>
</g>
<line x1="241.00" y1="21.30" x2="656.70" y2="21.30" stroke="#1a1a1a" stroke-width="1.0"/>
<line x1="241.00" y1="21.30" x2="241.00" y2="155.50" stroke="#1a1a1a" stroke-width="0.9"/>
<line x1="656.70" y1="21.30" x2="656.70" y2="155.50" stroke="#1a1a1a" stroke-width="1.0"/>
<line x1="241.00" y1="155.50" x2="656.70" y2="155.50" stroke="#3a2a2a" stroke-width="0.5"/>
<line x1="242.17" y1="155.50" x2="242.17" y2="157.90" stroke="#222" stroke-width="0.7"/>
<line x1="244.50" y1="155.50" x2="244.50" y2="157.90" stroke="#222" stroke-width="0.7"/>
<line x1="246.84" y1="155.50" x2="246.84" y2="157.90" stroke="#222" stroke-width="0.7"/>
<line x1="249.17" y1="155.50" x2="249.17" y2="157.90" stroke="#222" stroke-width="0.7"/>
<line x1="251.51" y1="155.50" x2="251.51" y2="157.90" stroke="#222" stroke-width="0.7"/>
<line x1="253.84" y1="155.50" x2="253.84" y2="157.90" stroke="#222" stroke-width="0.7"/>
<line x1="256.18" y1="155.50" x2="256.18" y2="157.90" stroke="#222" stroke-width="0.7"/>
<line x1="258.52" y1="155.50" x2="258.52" y2="157.90" stroke="#222" stroke-width="0.7"/>
<line x1="260.85" y1="155.50" x2="260.85" y2="157.90" stroke="#222" stroke-width="0.7"/>
<line x1="263.19" y1="155.50" x2="263.19" y2="157.90" stroke="#222" stroke-width="0.7"/>
<line x1="265.52" y1="155.50" x2="265.52" y2="157.90" stroke="#222" stroke-width="0.7"/>
<line x1="267.86" y1="155.50" x2="267.86" y2="157.90" stroke="#222" stroke-width="0.7"/>
<line x1="270.19" y1="155.50" x2="270.19" y2="157.90" stroke="#222" stroke-width="0.7"/>
<line x1="272.53" y1="155.50" x2="272.53" y2="157.90" stroke="#222" stroke-width="0.7"/>
<line x1="274.86" y1="155.50" x2="274.86" y2="157.90" stroke="#222" stroke-width="0.7"/>
<line x1="277.20" y1="155.50" x2="277.20" y2="157.90" stroke="#222" stroke-width="0.7"/>
<line x1="279.53" y1="155.50" x2="279.53" y2="157.90" stroke="#222" stroke-width="0.7"/>
<line x1="281.87" y1="155.50" x2="281.87" y2="157.90" stroke="#222" stroke-width="0.7"/>
<line x1="284.20" y1="155.50" x2="284.20" y2="157.90" stroke="#222" stroke-width="0.7"/>
<line x1="286.54" y1="155.50" x2="286.54" y2="157.90" stroke="#222" stroke-width="0.7"/>
<line x1="288.88" y1="155.50" x2="288.88" y2="157.90" stroke="#222" stroke-width="0.7"/>
<line x1="291.21" y1="155.50" x2="291.21" y2="157.90" stroke="#222" stroke-width="0.7"/>
<line x1="293.55" y1="155.50" x2="293.55" y2="157.90" stroke="#222" stroke-width="0.7"/>
<line x1="295.88" y1="155.50" x2="295.88" y2="157.90" stroke="#222" stroke-width="0.7"/>
<line x1="298.22" y1="155.50" x2="298.22" y2="157.90" stroke="#222" stroke-width="0.7"/>
<line x1="300.55" y1="155.50" x2="300.55" y2="157.90" stroke="#222" stroke-width="0.7"/>
<line x1="302.89" y1="155.50" x2="302.89" y2="157.90" stroke="#222" stroke-width="0.7"/>
<line x1="305.22" y1="155.50" x2="305.22" y2="157.90" stroke="#222" stroke-width="0.7"/>
<line x1="307.56" y1="155.50" x2="307.56" y2="157.90" stroke="#222" stroke-width="0.7"/>
<line x1="309.89" y1="155.50" x2="309.89" y2="157.90" stroke="#222" stroke-width="0.7"/>
<line x1="312.23" y1="155.50" x2="312.23" y2="157.90" stroke="#222" stroke-width="0.7"/>
<line x1="314.56" y1="155.50" x2="314.56" y2="157.90" stroke="#222" stroke-width="0.7"/>
<line x1="316.90" y1="155.50" x2="316.90" y2="157.90" stroke="#222" stroke-width="0.7"/>
<line x1="319.24" y1="155.50" x2="319.24" y2="157.90" stroke="#222" stroke-width="0.7"/>
<line x1="321.57" y1="155.50" x2="321.57" y2="157.90" stroke="#222" stroke-width="0.7"/>
<line x1="323.91" y1="155.50" x2="323.91" y2="157.90" stroke="#222" stroke-width="0.7"/>
<line x1="326.24" y1="155.50" x2="326.24" y2="157.90" stroke="#222" stroke-width="0.7"/>
<line x1="328.58" y1="155.50" x2="328.58" y2="157.90" stroke="#222" stroke-width="0.7"/>
<line x1="330.91" y1="155.50" x2="330.91" y2="157.90" stroke="#222" stroke-width="0.7"/>
<line x1="333.25" y1="155.50" x2="333.25" y2="157.90" stroke="#222" stroke-width="0.7"/>
<line x1="335.58" y1="155.50" x2="335.58" y2="157.90" stroke="#222" stroke-width="0.7"/>
<line x1="337.92" y1="155.50" x2="337.92" y2="157.90" stroke="#222" stroke-width="0.7"/>
<line x1="340.25" y1="155.50" x2="340.25" y2="157.90" stroke="#222" stroke-width="0.7"/>
<line x1="342.59" y1="155.50" x2="342.59" y2="157.90" stroke="#222" stroke-width="0.7"/>
<line x1="344.93" y1="155.50" x2="344.93" y2="157.90" stroke="#222" stroke-width="0.7"/>
<line x1="347.26" y1="155.50" x2="347.26" y2="157.90" stroke="#222" stroke-width="0.7"/>
<line x1="349.60" y1="155.50" x2="349.60" y2="157.90" stroke="#222" stroke-width="0.7"/>
<line x1="351.93" y1="155.50" x2="351.93" y2="157.90" stroke="#222" stroke-width="0.7"/>
<line x1="354.27" y1="155.50" x2="354.27" y2="157.90" stroke="#222" stroke-width="0.7"/>
<line x1="356.60" y1="155.50" x2="356.60" y2="157.90" stroke="#222" stroke-width="0.7"/>
<line x1="358.94" y1="155.50" x2="358.94" y2="157.90" stroke="#222" stroke-width="0.7"/>
<line x1="361.27" y1="155.50" x2="361.27" y2="157.90" stroke="#222" stroke-width="0.7"/>
<line x1="363.61" y1="155.50" x2="363.61" y2="157.90" stroke="#222" stroke-width="0.7"/>
<line x1="365.94" y1="155.50" x2="365.94" y2="157.90" stroke="#222" stroke-width="0.7"/>
<line x1="368.28" y1="155.50" x2="368.28" y2="157.90" stroke="#222" stroke-width="0.7"/>
<line x1="370.61" y1="155.50" x2="370.61" y2="157.90" stroke="#222" stroke-width="0.7"/>
<line x1="372.95" y1="155.50" x2="372.95" y2="157.90" stroke="#222" stroke-width="0.7"/>
<line x1="375.29" y1="155.50" x2="375.29" y2="157.90" stroke="#222" stroke-width="0.7"/>
<line x1="377.62" y1="155.50" x2="377.62" y2="157.90" stroke="#222" stroke-width="0.7"/>
<line x1="379.96" y1="155.50" x2="379.96" y2="157.90" stroke="#222" stroke-width="0.7"/>
<line x1="382.29" y1="155.50" x2="382.29" y2="157.90" stroke="#222" stroke-width="0.7"/>
<line x1="384.63" y1="155.50" x2="384.63" y2="157.90" stroke="#222" stroke-width="0.7"/>
<line x1="386.96" y1="155.50" x2="386.96" y2="157.90" stroke="#222" stroke-width="0.7"/>
<line x1="389.30" y1="155.50" x2="389.30" y2="157.90" stroke="#222" stroke-width="0.7"/>
<line x1="391.63" y1="155.50" x2="391.63" y2="157.90" stroke="#222" stroke-width="0.7"/>
<line x1="393.97" y1="155.50" x2="393.97" y2="157.90" stroke="#222" stroke-width="0.7"/>
<line x1="396.30" y1="155.50" x2="396.30" y2="157.90" stroke="#222" stroke-width="0.7"/>
<line x1="398.64" y1="155.50" x2="398.64" y2="157.90" stroke="#222" stroke-width="0.7"/>
<line x1="400.97" y1="155.50" x2="400.97" y2="157.90" stroke="#222" stroke-width="0.7"/>
<line x1="403.31" y1="155.50" x2="403.31" y2="157.90" stroke="#222" stroke-width="0.7"/>
<line x1="405.65" y1="155.50" x2="405.65" y2="157.90" stroke="#222" stroke-width="0.7"/>
<line x1="407.98" y1="155.50" x2="407.98" y2="157.90" stroke="#222" stroke-width="0.7"/>
<line x1="410.32" y1="155.50" x2="410.32" y2="157.90" stroke="#222" stroke-width="0.7"/>
<line x1="412.65" y1="155.50" x2="412.65" y2="157.90" stroke="#222" stroke-width="0.7"/>
<line x1="414.99" y1="155.50" x2="414.99" y2="157.90" stroke="#222" stroke-width="0.7"/>
<line x1="417.32" y1="155.50" x2="417.32" y2="157.90" stroke="#222" stroke-width="0.7"/>
<line x1="419.66" y1="155.50" x2="419.66" y2="157.90" stroke="#222" stroke-width="0.7"/>
<line x1="421.99" y1="155.50" x2="421.99" y2="157.90" stroke="#222" stroke-width="0.7"/>
<line x1="424.33" y1="155.50" x2="424.33" y2="157.90" stroke="#222" stroke-width="0.7"/>
<line x1="426.66" y1="155.50" x2="426.66" y2="157.90" stroke="#222" stroke-width="0.7"/>
<line x1="429.00" y1="155.50" x2="429.00" y2="157.90" stroke="#222" stroke-width="0.7"/>
<line x1="431.33" y1="155.50" x2="431.33" y2="157.90" stroke="#222" stroke-width="0.7"/>
<line x1="433.67" y1="155.50" x2="433.67" y2="157.90" stroke="#222" stroke-width="0.7"/>
<line x1="436.01" y1="155.50" x2="436.01" y2="157.90" stroke="#222" stroke-width="0.7"/>
<line x1="438.34" y1="155.50" x2="438.34" y2="157.90" stroke="#222" stroke-width="0.7"/>
<line x1="440.68" y1="155.50" x2="440.68" y2="157.90" stroke="#222" stroke-width="0.7"/>
<line x1="443.01" y1="155.50" x2="443.01" y2="157.90" stroke="#222" stroke-width="0.7"/>
<line x1="445.35" y1="155.50" x2="445.35" y2="157.90" stroke="#222" stroke-width="0.7"/>
<line x1="447.68" y1="155.50" x2="447.68" y2="157.90" stroke="#222" stroke-width="0.7"/>
<line x1="450.02" y1="155.50" x2="450.02" y2="157.90" stroke="#222" stroke-width="0.7"/>
<line x1="452.35" y1="155.50" x2="452.35" y2="157.90" stroke="#222" stroke-width="0.7"/>
<line x1="454.69" y1="155.50" x2="454.69" y2="157.90" stroke="#222" stroke-width="0.7"/>
<line x1="457.02" y1="155.50" x2="457.02" y2="157.90" stroke="#222" stroke-width="0.7"/>
<line x1="459.36" y1="155.50" x2="459.36" y2="157.90" stroke="#222" stroke-width="0.7"/>
<line x1="461.69" y1="155.50" x2="461.69" y2="157.90" stroke="#222" stroke-width="0.7"/>
<line x1="464.03" y1="155.50" x2="464.03" y2="157.90" stroke="#222" stroke-width="0.7"/>
<line x1="466.37" y1="155.50" x2="466.37" y2="157.90" stroke="#222" stroke-width="0.7"/>
<line x1="468.70" y1="155.50" x2="468.70" y2="157.90" stroke="#222" stroke-width="0.7"/>
<line x1="471.04" y1="155.50" x2="471.04" y2="157.90" stroke="#222" stroke-width="0.7"/>
<line x1="473.37" y1="155.50" x2="473.37" y2="157.90" stroke="#222" stroke-width="0.7"/>
<line x1="475.71" y1="155.50" x2="475.71" y2="157.90" stroke="#222" stroke-width="0.7"/>
<line x1="478.04" y1="155.50" x2="478.04" y2="157.90" stroke="#222" stroke-width="0.7"/>
<line x1="480.38" y1="155.50" x2="480.38" y2="157.90" stroke="#222" stroke-width="0.7"/>
<line x1="482.71" y1="155.50" x2="482.71" y2="157.90" stroke="#222" stroke-width="0.7"/>
<line x1="485.05" y1="155.50" x2="485.05" y2="157.90" stroke="#222" stroke-width="0.7"/>
<line x1="487.38" y1="155.50" x2="487.38" y2="157.90" stroke="#222" stroke-width="0.7"/>
<line x1="489.72" y1="155.50" x2="489.72" y2="157.90" stroke="#222" stroke-width="0.7"/>
<line x1="492.05" y1="155.50" x2="492.05" y2="157.90" stroke="#222" stroke-width="0.7"/>
<line x1="494.39" y1="155.50" x2="494.39" y2="157.90" stroke="#222" stroke-width="0.7"/>
<line x1="496.73" y1="155.50" x2="496.73" y2="157.90" stroke="#222" stroke-width="0.7"/>
<line x1="499.06" y1="155.50" x2="499.06" y2="157.90" stroke="#222" stroke-width="0.7"/>
<line x1="501.40" y1="155.50" x2="501.40" y2="157.90" stroke="#222" stroke-width="0.7"/>
<line x1="503.73" y1="155.50" x2="503.73" y2="157.90" stroke="#222" stroke-width="0.7"/>
<line x1="506.07" y1="155.50" x2="506.07" y2="157.90" stroke="#222" stroke-width="0.7"/>
<line x1="508.40" y1="155.50" x2="508.40" y2="157.90" stroke="#222" stroke-width="0.7"/>
<line x1="510.74" y1="155.50" x2="510.74" y2="157.90" stroke="#222" stroke-width="0.7"/>
<line x1="513.07" y1="155.50" x2="513.07" y2="157.90" stroke="#222" stroke-width="0.7"/>
<line x1="515.41" y1="155.50" x2="515.41" y2="157.90" stroke="#222" stroke-width="0.7"/>
<line x1="517.74" y1="155.50" x2="517.74" y2="157.90" stroke="#222" stroke-width="0.7"/>
<line x1="520.08" y1="155.50" x2="520.08" y2="157.90" stroke="#222" stroke-width="0.7"/>
<line x1="522.41" y1="155.50" x2="522.41" y2="157.90" stroke="#222" stroke-width="0.7"/>
<line x1="524.75" y1="155.50" x2="524.75" y2="157.90" stroke="#222" stroke-width="0.7"/>
<line x1="527.09" y1="155.50" x2="527.09" y2="157.90" stroke="#222" stroke-width="0.7"/>
<line x1="529.42" y1="155.50" x2="529.42" y2="157.90" stroke="#222" stroke-width="0.7"/>
<line x1="531.76" y1="155.50" x2="531.76" y2="157.90" stroke="#222" stroke-width="0.7"/>
<line x1="534.09" y1="155.50" x2="534.09" y2="157.90" stroke="#222" stroke-width="0.7"/>
<line x1="536.43" y1="155.50" x2="536.43" y2="157.90" stroke="#222" stroke-width="0.7"/>
<line x1="538.76" y1="155.50" x2="538.76" y2="157.90" stroke="#222" stroke-width="0.7"/>
<line x1="541.10" y1="155.50" x2="541.10" y2="157.90" stroke="#222" stroke-width="0.7"/>
<line x1="543.43" y1="155.50" x2="543.43" y2="157.90" stroke="#222" stroke-width="0.7"/>
<line x1="545.77" y1="155.50" x2="545.77" y2="157.90" stroke="#222" stroke-width="0.7"/>
<line x1="548.10" y1="155.50" x2="548.10" y2="157.90" stroke="#222" stroke-width="0.7"/>
<line x1="550.44" y1="155.50" x2="550.44" y2="157.90" stroke="#222" stroke-width="0.7"/>
<line x1="552.78" y1="155.50" x2="552.78" y2="157.90" stroke="#222" stroke-width="0.7"/>
<line x1="555.11" y1="155.50" x2="555.11" y2="157.90" stroke="#222" stroke-width="0.7"/>
<line x1="557.45" y1="155.50" x2="557.45" y2="157.90" stroke="#222" stroke-width="0.7"/>
<line x1="559.78" y1="155.50" x2="559.78" y2="157.90" stroke="#222" stroke-width="0.7"/>
<line x1="562.12" y1="155.50" x2="562.12" y2="157.90" stroke="#222" stroke-width="0.7"/>
<line x1="564.45" y1="155.50" x2="564.45" y2="157.90" stroke="#222" stroke-width="0.7"/>
<line x1="566.79" y1="155.50" x2="566.79" y2="157.90" stroke="#222" stroke-width="0.7"/>
<line x1="569.12" y1="155.50" x2="569.12" y2="157.90" stroke="#222" stroke-width="0.7"/>
<line x1="571.46" y1="155.50" x2="571.46" y2="157.90" stroke="#222" stroke-width="0.7"/>
<line x1="573.79" y1="155.50" x2="573.79" y2="157.90" stroke="#222" stroke-width="0.7"/>
<line x1="576.13" y1="155.50" x2="576.13" y2="157.90" stroke="#222" stroke-width="0.7"/>
<line x1="578.46" y1="155.50" x2="578.46" y2="157.90" stroke="#222" stroke-width="0.7"/>
<line x1="580.80" y1="155.50" x2="580.80" y2="157.90" stroke="#222" stroke-width="0.7"/>
<line x1="583.14" y1="155.50" x2="583.14" y2="157.90" stroke="#222" stroke-width="0.7"/>
<line x1="585.47" y1="155.50" x2="585.47" y2="157.90" stroke="#222" stroke-width="0.7"/>
<line x1="587.81" y1="155.50" x2="587.81" y2="157.90" stroke="#222" stroke-width="0.7"/>
<line x1="590.14" y1="155.50" x2="590.14" y2="157.90" stroke="#222" stroke-width="0.7"/>
<line x1="592.48" y1="155.50" x2="592.48" y2="157.90" stroke="#222" stroke-width="0.7"/>
<line x1="594.81" y1="155.50" x2="594.81" y2="157.90" stroke="#222" stroke-width="0.7"/>
<line x1="597.15" y1="155.50" x2="597.15" y2="157.90" stroke="#222" stroke-width="0.7"/>
<line x1="599.48" y1="155.50" x2="599.48" y2="157.90" stroke="#222" stroke-width="0.7"/>
<line x1="601.82" y1="155.50" x2="601.82" y2="157.90" stroke="#222" stroke-width="0.7"/>
<line x1="604.15" y1="155.50" x2="604.15" y2="157.90" stroke="#222" stroke-width="0.7"/>
<line x1="606.49" y1="155.50" x2="606.49" y2="157.90" stroke="#222" stroke-width="0.7"/>
<line x1="608.82" y1="155.50" x2="608.82" y2="157.90" stroke="#222" stroke-width="0.7"/>
<line x1="611.16" y1="155.50" x2="611.16" y2="157.90" stroke="#222" stroke-width="0.7"/>
<line x1="613.50" y1="155.50" x2="613.50" y2="157.90" stroke="#222" stroke-width="0.7"/>
<line x1="615.83" y1="155.50" x2="615.83" y2="157.90" stroke="#222" stroke-width="0.7"/>
<line x1="618.17" y1="155.50" x2="618.17" y2="157.90" stroke="#222" stroke-width="0.7"/>
<line x1="620.50" y1="155.50" x2="620.50" y2="157.90" stroke="#222" stroke-width="0.7"/>
<line x1="622.84" y1="155.50" x2="622.84" y2="157.90" stroke="#222" stroke-width="0.7"/>
<line x1="625.17" y1="155.50" x2="625.17" y2="157.90" stroke="#222" stroke-width="0.7"/>
<line x1="627.51" y1="155.50" x2="627.51" y2="157.90" stroke="#222" stroke-width="0.7"/>
<line x1="629.84" y1="155.50" x2="629.84" y2="157.90" stroke="#222" stroke-width="0.7"/>
<line x1="632.18" y1="155.50" x2="632.18" y2="157.90" stroke="#222" stroke-width="0.7"/>
<line x1="634.51" y1="155.50" x2="634.51" y2="157.90" stroke="#222" stroke-width="0.7"/>
<line x1="636.85" y1="155.50" x2="636.85" y2="157.90" stroke="#222" stroke-width="0.7"/>
<line x1="639.18" y1="155.50" x2="639.18" y2="157.90" stroke="#222" stroke-width="0.7"/>
<line x1="641.52" y1="155.50" x2="641.52" y2="157.90" stroke="#222" stroke-width="0.7"/>
<line x1="643.86" y1="155.50" x2="643.86" y2="157.90" stroke="#222" stroke-width="0.7"/>
<line x1="646.19" y1="155.50" x2="646.19" y2="157.90" stroke="#222" stroke-width="0.7"/>
<line x1="648.53" y1="155.50" x2="648.53" y2="157.90" stroke="#222" stroke-width="0.7"/>
<line x1="650.86" y1="155.50" x2="650.86" y2="157.90" stroke="#222" stroke-width="0.7"/>
<line x1="653.20" y1="155.50" x2="653.20" y2="157.90" stroke="#222" stroke-width="0.7"/>
<line x1="655.53" y1="155.50" x2="655.53" y2="157.90" stroke="#222" stroke-width="0.7"/>
<line x1="656.70" y1="26.89" x2="658.70" y2="26.89" stroke="#222" stroke-width="0.7"/>
<text x="667.60" y="26.89" font-size="7.5" text-anchor="middle" fill="#1a1a1a" transform="rotate(-90 667.60 26.89)" dominant-baseline="central">6</text>
<line x1="656.70" y1="38.08" x2="658.70" y2="38.08" stroke="#222" stroke-width="0.7"/>
<text x="667.60" y="38.08" font-size="7.5" text-anchor="middle" fill="#1a1a1a" transform="rotate(-90 667.60 38.08)" dominant-baseline="central">5</text>
<line x1="656.70" y1="49.26" x2="658.70" y2="49.26" stroke="#222" stroke-width="0.7"/>
<text x="667.60" y="49.26" font-size="7.5" text-anchor="middle" fill="#1a1a1a" transform="rotate(-90 667.60 49.26)" dominant-baseline="central">4</text>
<line x1="656.70" y1="60.44" x2="658.70" y2="60.44" stroke="#222" stroke-width="0.7"/>
<text x="667.60" y="60.44" font-size="7.5" text-anchor="middle" fill="#1a1a1a" transform="rotate(-90 667.60 60.44)" dominant-baseline="central">3</text>
<line x1="656.70" y1="71.62" x2="658.70" y2="71.62" stroke="#222" stroke-width="0.7"/>
<text x="667.60" y="71.62" font-size="7.5" text-anchor="middle" fill="#1a1a1a" transform="rotate(-90 667.60 71.62)" dominant-baseline="central">2</text>
<line x1="656.70" y1="82.81" x2="658.70" y2="82.81" stroke="#222" stroke-width="0.7"/>
<text x="667.60" y="82.81" font-size="7.5" text-anchor="middle" fill="#1a1a1a" transform="rotate(-90 667.60 82.81)" dominant-baseline="central">1</text>
<line x1="656.70" y1="93.99" x2="658.70" y2="93.99" stroke="#222" stroke-width="0.7"/>
<text x="667.60" y="93.99" font-size="7.5" text-anchor="middle" fill="#1a1a1a" transform="rotate(-90 667.60 93.99)" dominant-baseline="central">6</text>
<line x1="656.70" y1="105.17" x2="658.70" y2="105.17" stroke="#222" stroke-width="0.7"/>
<text x="667.60" y="105.17" font-size="7.5" text-anchor="middle" fill="#1a1a1a" transform="rotate(-90 667.60 105.17)" dominant-baseline="central">5</text>
<line x1="656.70" y1="116.36" x2="658.70" y2="116.36" stroke="#222" stroke-width="0.7"/>
<text x="667.60" y="116.36" font-size="7.5" text-anchor="middle" fill="#1a1a1a" transform="rotate(-90 667.60 116.36)" dominant-baseline="central">4</text>
<line x1="656.70" y1="127.54" x2="658.70" y2="127.54" stroke="#222" stroke-width="0.7"/>
<text x="667.60" y="127.54" font-size="7.5" text-anchor="middle" fill="#1a1a1a" transform="rotate(-90 667.60 127.54)" dominant-baseline="central">3</text>
<line x1="656.70" y1="138.72" x2="658.70" y2="138.72" stroke="#222" stroke-width="0.7"/>
<text x="667.60" y="138.72" font-size="7.5" text-anchor="middle" fill="#1a1a1a" transform="rotate(-90 667.60 138.72)" dominant-baseline="central">2</text>
<line x1="656.70" y1="149.91" x2="658.70" y2="149.91" stroke="#222" stroke-width="0.7"/>
<text x="667.60" y="149.91" font-size="7.5" text-anchor="middle" fill="#1a1a1a" transform="rotate(-90 667.60 149.91)" dominant-baseline="central">1</text>
<line x1="672.60" y1="21.60" x2="672.60" y2="83.40" stroke="#111" stroke-width="1.2"/>
<line x1="672.60" y1="90.00" x2="672.60" y2="151.50" stroke="#111" stroke-width="1.2"/>
<text x="683.30" y="54.50" font-size="9.2" text-anchor="middle" fill="#1a1a1a" transform="rotate(-90 683.30 54.50)">ShCtrl</text>
<text x="683.3" y="117.8" font-size="9.4" text-anchor="middle" fill="#1a1a1a" transform="rotate(-90 683.3 117.8)">Sh<tspan font-style="italic">Opa1</tspan></text>
<defs><linearGradient id="cbar" x1="0" y1="0" x2="0" y2="1">
<stop offset="0.000" stop-color="#fdf19a"/>
<stop offset="0.033" stop-color="#fde585"/>
<stop offset="0.067" stop-color="#fcd871"/>
<stop offset="0.100" stop-color="#fccd59"/>
<stop offset="0.133" stop-color="#fbc142"/>
<stop offset="0.167" stop-color="#fab433"/>
<stop offset="0.200" stop-color="#f8a824"/>
<stop offset="0.233" stop-color="#f59a25"/>
<stop offset="0.267" stop-color="#f28c28"/>
<stop offset="0.300" stop-color="#ee7d2f"/>
<stop offset="0.333" stop-color="#e96d36"/>
<stop offset="0.367" stop-color="#e36241"/>
<stop offset="0.400" stop-color="#dd584d"/>
<stop offset="0.433" stop-color="#d3515a"/>
<stop offset="0.467" stop-color="#c74a66"/>
<stop offset="0.500" stop-color="#ba4470"/>
<stop offset="0.533" stop-color="#ac3e77"/>
<stop offset="0.567" stop-color="#9f377b"/>
<stop offset="0.600" stop-color="#93317c"/>
<stop offset="0.633" stop-color="#852a7b"/>
<stop offset="0.667" stop-color="#762379"/>
<stop offset="0.700" stop-color="#661f75"/>
<stop offset="0.733" stop-color="#541d6f"/>
<stop offset="0.767" stop-color="#441a64"/>
<stop offset="0.800" stop-color="#371757"/>
<stop offset="0.833" stop-color="#2b1448"/>
<stop offset="0.867" stop-color="#211238"/>
<stop offset="0.900" stop-color="#190f2a"/>
<stop offset="0.933" stop-color="#130d1f"/>
<stop offset="0.967" stop-color="#0e0b16"/>
<stop offset="1.000" stop-color="#0a0810"/>
</linearGradient></defs>
<rect x="215.2" y="21.0" width="11.40" height="133.80" fill="url(#cbar)" stroke="#222" stroke-width="0.6"/>
<line x1="215.20" y1="39.50" x2="217.60" y2="39.50" stroke="#111" stroke-width="1.0"/>
<line x1="224.20" y1="39.50" x2="226.60" y2="39.50" stroke="#111" stroke-width="1.0"/>
<text x="235.80" y="39.50" font-size="7.4" text-anchor="middle" transform="rotate(-90 235.80 39.50)" dominant-baseline="central">2</text>
<line x1="215.20" y1="57.70" x2="217.60" y2="57.70" stroke="#111" stroke-width="1.0"/>
<line x1="224.20" y1="57.70" x2="226.60" y2="57.70" stroke="#111" stroke-width="1.0"/>
<text x="235.80" y="57.70" font-size="7.4" text-anchor="middle" transform="rotate(-90 235.80 57.70)" dominant-baseline="central">1</text>
<line x1="215.20" y1="75.90" x2="217.60" y2="75.90" stroke="#111" stroke-width="1.0"/>
<line x1="224.20" y1="75.90" x2="226.60" y2="75.90" stroke="#111" stroke-width="1.0"/>
<text x="235.80" y="75.90" font-size="7.4" text-anchor="middle" transform="rotate(-90 235.80 75.90)" dominant-baseline="central">0</text>
<line x1="215.20" y1="94.10" x2="217.60" y2="94.10" stroke="#111" stroke-width="1.0"/>
<line x1="224.20" y1="94.10" x2="226.60" y2="94.10" stroke="#111" stroke-width="1.0"/>
<text x="235.80" y="94.10" font-size="7.4" text-anchor="middle" transform="rotate(-90 235.80 94.10)" dominant-baseline="central">-1</text>
<line x1="215.20" y1="112.30" x2="217.60" y2="112.30" stroke="#111" stroke-width="1.0"/>
<line x1="224.20" y1="112.30" x2="226.60" y2="112.30" stroke="#111" stroke-width="1.0"/>
<text x="235.80" y="112.30" font-size="7.4" text-anchor="middle" transform="rotate(-90 235.80 112.30)" dominant-baseline="central">-2</text>
<line x1="215.20" y1="130.50" x2="217.60" y2="130.50" stroke="#111" stroke-width="1.0"/>
<line x1="224.20" y1="130.50" x2="226.60" y2="130.50" stroke="#111" stroke-width="1.0"/>
<text x="235.80" y="130.50" font-size="7.4" text-anchor="middle" transform="rotate(-90 235.80 130.50)" dominant-baseline="central">-3</text>
<line x1="215.20" y1="148.70" x2="217.60" y2="148.70" stroke="#111" stroke-width="1.0"/>
<line x1="224.20" y1="148.70" x2="226.60" y2="148.70" stroke="#111" stroke-width="1.0"/>
<text x="235.80" y="148.70" font-size="7.4" text-anchor="middle" transform="rotate(-90 235.80 148.70)" dominant-baseline="central">-4</text>
<g stroke="#848484" stroke-width="1.6" fill="none">
<line x1="242.17" y1="159.3" x2="242.17" y2="190.90" stroke-dasharray="1.01 0.49 1.18 0.52 1.51 0.28 0.72 0.63 1.04 0.36 1.99 0.46 1.79 0.46"/>
<line x1="244.50" y1="159.3" x2="244.50" y2="210.60" stroke-dasharray="1.53 0.32 1.53 0.64 1.38 0.58 1.57 0.28 1.69 0.52 1.09 0.26 1.83 0.46"/>
<line x1="246.84" y1="159.3" x2="246.84" y2="188.30" stroke-dasharray="1.63 0.65 1.63 0.66 1.21 0.61 1.28 0.67 1.84 0.29 0.88 0.35 1.96 0.45"/>
<line x1="249.17" y1="159.3" x2="249.17" y2="195.30" stroke-dasharray="1.51 0.39 1.36 0.42 1.16 0.51 1.46 0.66 1.59 0.67 1.81 0.70 1.57 0.32"/>
<line x1="251.51" y1="159.3" x2="251.51" y2="196.20" stroke-dasharray="1.82 0.68 1.88 0.51 1.63 0.35 1.78 0.51 1.07 0.28 1.81 0.70 0.82 0.61"/>
<line x1="253.84" y1="159.3" x2="253.84" y2="200.50" stroke-dasharray="1.23 0.32 1.08 0.60 1.83 0.27 1.50 0.27 1.63 0.40 1.85 0.69 1.36 0.70"/>
<line x1="256.18" y1="159.3" x2="256.18" y2="208.40" stroke-dasharray="1.10 0.28 1.48 0.26 0.96 0.43 1.49 0.32 0.76 0.64 1.11 0.68 1.87 0.42"/>
<line x1="258.52" y1="159.3" x2="258.52" y2="188.30" stroke-dasharray="1.30 0.48 1.54 0.52 1.43 0.53 1.92 0.48 1.26 0.57 1.01 0.39 1.97 0.48"/>
<line x1="260.85" y1="159.3" x2="260.85" y2="194.40" stroke-dasharray="1.41 0.26 1.24 0.51 0.73 0.53 1.52 0.28 1.52 0.46 1.58 0.41 1.62 0.58"/>
<line x1="263.19" y1="159.3" x2="263.19" y2="204.50" stroke-dasharray="0.73 0.28 1.58 0.68 1.03 0.46 1.47 0.39 1.17 0.39 1.18 0.52 1.09 0.42"/>
<line x1="265.52" y1="159.3" x2="265.52" y2="183.90" stroke-dasharray="1.70 0.26 1.44 0.58 1.10 0.35 1.74 0.36 0.94 0.45 1.61 0.30 1.12 0.40"/>
<line x1="267.86" y1="159.3" x2="267.86" y2="207.50" stroke-dasharray="1.78 0.45 1.81 0.33 1.14 0.54 1.85 0.45 0.99 0.30 1.39 0.34 1.75 0.63"/>
<line x1="270.19" y1="159.3" x2="270.19" y2="207.50" stroke-dasharray="0.94 0.38 1.75 0.54 1.75 0.41 0.87 0.38 1.73 0.37 1.15 0.44 1.25 0.43"/>
<line x1="272.53" y1="159.3" x2="272.53" y2="180.40" stroke-dasharray="1.90 0.32 0.71 0.67 1.84 0.69 1.26 0.68 1.91 0.35 1.67 0.63 1.56 0.48"/>
<line x1="274.86" y1="159.3" x2="274.86" y2="193.50" stroke-dasharray="1.08 0.40 1.00 0.28 1.47 0.38 1.75 0.27 1.87 0.56 1.90 0.65 1.87 0.51"/>
<line x1="277.20" y1="159.3" x2="277.20" y2="192.70" stroke-dasharray="0.72 0.59 0.92 0.38 1.56 0.49 1.24 0.67 1.50 0.40 1.03 0.64 1.32 0.60"/>
<line x1="279.53" y1="159.3" x2="279.53" y2="181.30" stroke-dasharray="1.16 0.34 1.40 0.62 0.92 0.61 1.90 0.61 1.77 0.25 1.52 0.64 0.76 0.37"/>
<line x1="281.87" y1="159.3" x2="281.87" y2="206.70" stroke-dasharray="1.05 0.49 1.25 0.46 1.71 0.25 0.77 0.31 0.86 0.28 1.97 0.63 0.81 0.48"/>
<line x1="284.20" y1="159.3" x2="284.20" y2="181.30" stroke-dasharray="1.11 0.39 1.16 0.54 1.46 0.41 0.95 0.40 0.86 0.50 1.63 0.42 0.80 0.33"/>
<line x1="286.54" y1="159.3" x2="286.54" y2="199.70" stroke-dasharray="1.19 0.52 1.72 0.42 1.74 0.53 1.26 0.42 1.34 0.57 1.25 0.56 1.30 0.36"/>
<line x1="288.88" y1="159.3" x2="288.88" y2="183.00" stroke-dasharray="1.40 0.56 0.79 0.44 1.25 0.65 1.92 0.42 1.87 0.61 1.04 0.46 0.86 0.62"/>
<line x1="291.21" y1="159.3" x2="291.21" y2="176.90" stroke-dasharray="1.56 0.65 1.73 0.55 1.65 0.50 0.83 0.51 0.71 0.31 1.71 0.27 0.82 0.29"/>
<line x1="293.55" y1="159.3" x2="293.55" y2="169.90" stroke-dasharray="1.84 0.33 0.73 0.63 0.86 0.63 1.58 0.63 1.94 0.51 1.74 0.27 1.70 0.48"/>
<line x1="295.88" y1="159.3" x2="295.88" y2="169.00" stroke-dasharray="1.63 0.30 1.67 0.67 0.78 0.40 1.43 0.62 1.01 0.33 1.02 0.53 1.68 0.43"/>
<line x1="298.22" y1="159.3" x2="298.22" y2="181.30" stroke-dasharray="1.18 0.43 1.16 0.44 0.81 0.48 1.96 0.44 1.67 0.32 1.60 0.59 1.58 0.48"/>
<line x1="300.55" y1="159.3" x2="300.55" y2="175.60" stroke-dasharray="1.33 0.54 1.87 0.32 0.82 0.59 1.89 0.48 1.28 0.57 0.94 0.37 0.96 0.51"/>
<line x1="302.89" y1="159.3" x2="302.89" y2="173.40" stroke-dasharray="1.11 0.35 1.60 0.68 1.08 0.57 1.24 0.63 1.46 0.37 0.98 0.26 1.32 0.42"/>
<line x1="305.22" y1="159.3" x2="305.22" y2="172.00" stroke-dasharray="0.92 0.41 1.12 0.60 0.89 0.70 1.32 0.52 1.31 0.63 1.77 0.50 1.33 0.57"/>
<line x1="307.56" y1="159.3" x2="307.56" y2="169.90" stroke-dasharray="1.81 0.43 1.65 0.68 1.31 0.35 1.01 0.57 1.58 0.68 1.81 0.36 0.95 0.37"/>
<line x1="309.89" y1="159.3" x2="309.89" y2="191.80" stroke-dasharray="0.94 0.57 1.82 0.65 1.03 0.64 1.11 0.44 1.65 0.29 0.82 0.63 1.08 0.41"/>
<line x1="312.23" y1="159.3" x2="312.23" y2="191.80" stroke-dasharray="1.45 0.55 0.71 0.40 1.27 0.47 0.97 0.51 1.94 0.43 1.41 0.30 1.06 0.55"/>
<line x1="314.56" y1="159.3" x2="314.56" y2="200.10" stroke-dasharray="0.85 0.65 1.88 0.29 1.92 0.42 1.70 0.59 1.08 0.55 1.55 0.61 1.05 0.59"/>
<line x1="316.90" y1="159.3" x2="316.90" y2="190.90" stroke-dasharray="1.95 0.55 1.40 0.30 1.34 0.41 1.63 0.56 1.44 0.33 1.54 0.53 0.93 0.65"/>
<line x1="319.24" y1="159.3" x2="319.24" y2="193.50" stroke-dasharray="1.55 0.31 1.91 0.31 1.13 0.57 1.48 0.50 1.54 0.46 1.11 0.33 0.79 0.57"/>
<line x1="321.57" y1="159.3" x2="321.57" y2="181.30" stroke-dasharray="1.68 0.49 1.66 0.41 1.05 0.42 1.83 0.27 1.36 0.36 1.70 0.41 1.13 0.43"/>
<line x1="323.91" y1="159.3" x2="323.91" y2="177.80" stroke-dasharray="1.40 0.60 1.16 0.63 0.85 0.37 0.83 0.30 1.71 0.58 0.94 0.34 1.24 0.58"/>
<line x1="326.24" y1="159.3" x2="326.24" y2="188.70" stroke-dasharray="1.76 0.59 1.47 0.32 1.22 0.34 1.39 0.51 0.96 0.36 1.72 0.26 1.74 0.65"/>
<line x1="328.58" y1="159.3" x2="328.58" y2="176.90" stroke-dasharray="1.93 0.42 1.42 0.51 1.52 0.69 1.59 0.38 1.82 0.47 1.48 0.58 0.70 0.60"/>
<line x1="330.91" y1="159.3" x2="330.91" y2="183.90" stroke-dasharray="1.56 0.47 1.38 0.46 0.95 0.49 0.75 0.48 1.54 0.45 1.44 0.68 1.86 0.31"/>
<line x1="333.25" y1="159.3" x2="333.25" y2="180.40" stroke-dasharray="1.73 0.53 0.77 0.41 1.00 0.29 1.40 0.67 1.12 0.64 1.60 0.31 1.82 0.52"/>
<line x1="335.58" y1="159.3" x2="335.58" y2="183.90" stroke-dasharray="1.91 0.57 1.66 0.40 1.75 0.67 1.82 0.45 1.68 0.47 0.84 0.27 0.80 0.34"/>
<line x1="337.92" y1="159.3" x2="337.92" y2="179.50" stroke-dasharray="0.91 0.47 1.61 0.49 1.25 0.54 1.10 0.46 1.68 0.43 0.93 0.65 1.64 0.42"/>
<line x1="340.25" y1="159.3" x2="340.25" y2="173.40" stroke-dasharray="1.18 0.49 1.48 0.35 0.70 0.34 1.72 0.31 1.30 0.34 0.97 0.33 1.22 0.33"/>
<line x1="342.59" y1="159.3" x2="342.59" y2="177.80" stroke-dasharray="0.74 0.30 0.92 0.47 0.78 0.26 1.28 0.43 1.61 0.27 1.22 0.43 0.73 0.68"/>
<line x1="344.93" y1="159.3" x2="344.93" y2="177.30" stroke-dasharray="0.98 0.29 1.32 0.32 1.51 0.41 0.86 0.27 1.65 0.37 1.72 0.46 1.91 0.39"/>
<line x1="347.26" y1="159.3" x2="347.26" y2="202.30" stroke-dasharray="1.02 0.37 1.76 0.53 1.15 0.29 1.59 0.69 1.47 0.25 0.74 0.29 0.92 0.27"/>
<line x1="349.60" y1="159.3" x2="349.60" y2="190.00" stroke-dasharray="0.77 0.54 1.87 0.34 1.97 0.46 1.74 0.66 1.92 0.27 1.10 0.52 1.93 0.29"/>
<line x1="351.93" y1="159.3" x2="351.93" y2="172.50" stroke-dasharray="1.08 0.63 0.85 0.43 1.13 0.56 1.91 0.33 1.66 0.58 1.79 0.50 1.90 0.41"/>
<line x1="354.27" y1="159.3" x2="354.27" y2="188.30" stroke-dasharray="1.24 0.35 1.71 0.47 1.05 0.33 1.64 0.52 1.62 0.42 1.33 0.32 1.62 0.26"/>
<line x1="356.60" y1="159.3" x2="356.60" y2="189.60" stroke-dasharray="1.31 0.59 1.58 0.29 1.01 0.63 1.54 0.65 1.83 0.45 1.87 0.58 1.13 0.42"/>
<line x1="358.94" y1="159.3" x2="358.94" y2="169.00" stroke-dasharray="0.79 0.43 1.94 0.30 1.44 0.30 0.81 0.54 1.01 0.27 0.90 0.54 1.46 0.26"/>
<line x1="361.27" y1="159.3" x2="361.27" y2="211.60" stroke-dasharray="1.00 0.69 0.99 0.50 1.25 0.60 1.49 0.60 1.40 0.33 0.93 0.29 1.77 0.30"/>
<line x1="363.61" y1="159.3" x2="363.61" y2="189.10" stroke-dasharray="0.73 0.68 0.96 0.65 0.81 0.46 0.99 0.62 1.50 0.54 1.69 0.64 1.15 0.52"/>
<line x1="365.94" y1="159.3" x2="365.94" y2="176.00" stroke-dasharray="1.28 0.30 1.79 0.52 1.76 0.34 1.40 0.46 1.65 0.28 1.15 0.47 0.79 0.50"/>
<line x1="368.28" y1="159.3" x2="368.28" y2="242.20" stroke-dasharray="1.66 0.44 1.54 0.52 0.98 0.41 1.99 0.40 1.26 0.29 0.98 0.32 1.91 0.58"/>
<line x1="370.61" y1="159.3" x2="370.61" y2="207.10" stroke-dasharray="1.84 0.69 1.50 0.67 1.40 0.44 1.93 0.66 1.93 0.47 1.71 0.43 2.00 0.66"/>
<line x1="372.95" y1="159.3" x2="372.95" y2="211.10" stroke-dasharray="1.08 0.67 0.94 0.29 1.64 0.38 1.38 0.54 0.75 0.59 1.06 0.44 1.15 0.58"/>
<line x1="375.29" y1="159.3" x2="375.29" y2="188.10" stroke-dasharray="1.67 0.38 0.83 0.38 1.23 0.28 0.90 0.59 1.61 0.69 1.97 0.64 1.18 0.32"/>
<line x1="377.62" y1="159.3" x2="377.62" y2="180.00" stroke-dasharray="1.11 0.46 1.38 0.49 1.17 0.63 1.07 0.46 1.85 0.61 1.09 0.36 1.75 0.25"/>
<line x1="379.96" y1="159.3" x2="379.96" y2="177.00" stroke-dasharray="0.87 0.49 1.40 0.32 0.77 0.34 1.70 0.46 1.97 0.60 1.97 0.27 0.94 0.26"/>
<line x1="382.29" y1="159.3" x2="382.29" y2="230.70" stroke-dasharray="1.26 0.40 0.77 0.50 0.82 0.39 1.02 0.61 1.24 0.37 0.76 0.44 1.52 0.55"/>
<line x1="384.63" y1="159.3" x2="384.63" y2="178.00" stroke-dasharray="1.89 0.61 1.02 0.31 1.69 0.61 1.36 0.62 1.42 0.38 0.92 0.26 1.54 0.65"/>
<line x1="386.96" y1="159.3" x2="386.96" y2="175.00" stroke-dasharray="1.88 0.46 1.57 0.67 1.76 0.52 1.24 0.48 0.92 0.33 1.59 0.70 1.41 0.43"/>
<line x1="389.30" y1="159.3" x2="389.30" y2="191.10" stroke-dasharray="1.16 0.45 1.74 0.45 1.95 0.32 1.11 0.48 1.24 0.63 1.78 0.67 1.50 0.26"/>
<line x1="391.63" y1="159.3" x2="391.63" y2="197.10" stroke-dasharray="1.45 0.50 1.33 0.38 1.62 0.66 0.83 0.55 1.18 0.48 1.86 0.68 1.54 0.34"/>
<line x1="393.97" y1="159.3" x2="393.97" y2="176.00" stroke-dasharray="1.90 0.33 1.20 0.62 1.11 0.37 1.93 0.67 1.11 0.43 1.07 0.31 1.03 0.69"/>
<line x1="396.30" y1="159.3" x2="396.30" y2="197.10" stroke-dasharray="0.80 0.35 0.96 0.29 1.38 0.58 1.79 0.53 1.76 0.25 1.07 0.68 0.79 0.37"/>
<line x1="398.64" y1="159.3" x2="398.64" y2="188.10" stroke-dasharray="1.33 0.37 1.41 0.27 1.01 0.68 0.89 0.66 0.93 0.70 1.58 0.54 0.88 0.27"/>
<line x1="400.97" y1="159.3" x2="400.97" y2="178.00" stroke-dasharray="1.69 0.33 0.95 0.62 1.84 0.27 1.95 0.49 1.20 0.30 1.21 0.69 1.06 0.31"/>
<line x1="403.31" y1="159.3" x2="403.31" y2="186.10" stroke-dasharray="0.89 0.31 1.16 0.66 0.80 0.34 1.92 0.70 1.97 0.36 1.16 0.68 1.33 0.57"/>
<line x1="405.65" y1="159.3" x2="405.65" y2="203.10" stroke-dasharray="1.11 0.26 1.15 0.59 1.72 0.51 1.30 0.49 1.27 0.49 1.78 0.34 1.47 0.67"/>
<line x1="407.98" y1="159.3" x2="407.98" y2="209.10" stroke-dasharray="1.80 0.33 1.95 0.63 0.92 0.37 0.96 0.27 1.97 0.43 1.83 0.30 0.72 0.64"/>
<line x1="410.32" y1="159.3" x2="410.32" y2="204.10" stroke-dasharray="1.73 0.70 1.59 0.49 1.70 0.29 1.40 0.45 0.89 0.52 1.12 0.48 1.19 0.39"/>
<line x1="412.65" y1="159.3" x2="412.65" y2="213.60" stroke-dasharray="1.17 0.52 1.97 0.67 1.82 0.63 1.07 0.69 1.05 0.31 1.35 0.58 1.14 0.54"/>
<line x1="414.99" y1="159.3" x2="414.99" y2="195.10" stroke-dasharray="1.07 0.69 1.29 0.47 1.39 0.64 1.98 0.49 1.27 0.53 0.79 0.44 1.80 0.60"/>
<line x1="417.32" y1="159.3" x2="417.32" y2="194.10" stroke-dasharray="0.78 0.63 1.20 0.69 1.18 0.35 1.41 0.65 1.26 0.64 1.62 0.41 1.09 0.48"/>
<line x1="419.66" y1="159.3" x2="419.66" y2="167.00" stroke-dasharray="1.22 0.42 1.55 0.64 1.46 0.32 0.99 0.42 1.50 0.31 0.81 0.39 1.07 0.26"/>
<line x1="421.99" y1="159.3" x2="421.99" y2="191.60" stroke-dasharray="1.40 0.66 1.39 0.58 1.78 0.63 1.89 0.45 1.59 0.30 1.84 0.42 1.32 0.65"/>
<line x1="424.33" y1="159.3" x2="424.33" y2="188.10" stroke-dasharray="1.07 0.34 1.77 0.52 0.81 0.26 1.16 0.25 1.78 0.33 1.06 0.42 1.37 0.44"/>
<line x1="426.66" y1="159.3" x2="426.66" y2="190.10" stroke-dasharray="1.52 0.55 1.27 0.29 1.97 0.56 0.81 0.45 1.68 0.70 0.79 0.25 1.32 0.44"/>
<line x1="429.00" y1="159.3" x2="429.00" y2="172.00" stroke-dasharray="1.86 0.62 1.13 0.44 1.46 0.65 0.96 0.43 0.81 0.54 0.73 0.67 1.38 0.51"/>
<line x1="431.33" y1="159.3" x2="431.33" y2="202.60" stroke-dasharray="0.81 0.35 1.31 0.64 1.40 0.38 1.98 0.55 1.39 0.34 1.09 0.65 0.87 0.49"/>
<line x1="433.67" y1="159.3" x2="433.67" y2="182.00" stroke-dasharray="1.51 0.41 1.70 0.66 1.81 0.58 0.96 0.28 1.26 0.39 0.95 0.64 0.98 0.62"/>
<line x1="436.01" y1="159.3" x2="436.01" y2="182.60" stroke-dasharray="1.92 0.30 1.89 0.43 0.98 0.33 0.75 0.47 1.20 0.63 1.78 0.28 1.22 0.43"/>
<line x1="438.34" y1="159.3" x2="438.34" y2="175.00" stroke-dasharray="0.93 0.36 1.04 0.56 1.14 0.30 0.99 0.45 1.43 0.36 1.61 0.35 1.57 0.52"/>
<line x1="440.68" y1="159.3" x2="440.68" y2="169.00" stroke-dasharray="0.93 0.59 1.21 0.49 1.48 0.53 1.28 0.28 1.72 0.64 1.34 0.51 1.05 0.65"/>
<line x1="443.01" y1="159.3" x2="443.01" y2="191.60" stroke-dasharray="1.59 0.35 1.76 0.69 1.15 0.70 1.33 0.33 1.63 0.40 1.65 0.51 0.84 0.49"/>
<line x1="445.35" y1="159.3" x2="445.35" y2="175.00" stroke-dasharray="1.81 0.47 1.40 0.64 1.28 0.47 1.46 0.62 0.96 0.29 1.69 0.50 1.09 0.65"/>
<line x1="447.68" y1="159.3" x2="447.68" y2="175.00" stroke-dasharray="1.85 0.49 1.98 0.63 1.67 0.38 0.71 0.56 1.66 0.41 1.32 0.51 1.02 0.56"/>
<line x1="450.02" y1="159.3" x2="450.02" y2="193.10" stroke-dasharray="1.43 0.42 0.84 0.50 1.12 0.58 0.92 0.43 0.96 0.43 1.45 0.30 0.77 0.47"/>
<line x1="452.35" y1="159.3" x2="452.35" y2="201.60" stroke-dasharray="0.96 0.48 0.92 0.30 1.40 0.67 1.83 0.48 1.22 0.28 1.06 0.39 1.92 0.30"/>
<line x1="454.69" y1="159.3" x2="454.69" y2="234.20" stroke-dasharray="1.93 0.46 1.26 0.37 1.95 0.33 1.44 0.48 0.96 0.35 1.98 0.61 1.65 0.66"/>
<line x1="457.02" y1="159.3" x2="457.02" y2="173.00" stroke-dasharray="0.83 0.57 1.68 0.35 1.29 0.69 1.12 0.59 0.91 0.55 1.05 0.48 1.18 0.64"/>
<line x1="459.36" y1="159.3" x2="459.36" y2="199.10" stroke-dasharray="1.67 0.48 1.59 0.44 1.75 0.37 1.41 0.51 1.20 0.27 0.92 0.54 0.97 0.59"/>
<line x1="461.69" y1="159.3" x2="461.69" y2="195.10" stroke-dasharray="1.36 0.68 1.80 0.58 1.18 0.27 1.42 0.59 1.90 0.34 0.91 0.69 1.66 0.47"/>
<line x1="464.03" y1="159.3" x2="464.03" y2="172.00" stroke-dasharray="1.66 0.32 1.41 0.55 1.48 0.32 0.88 0.53 1.85 0.31 0.71 0.29 1.72 0.43"/>
<line x1="466.37" y1="159.3" x2="466.37" y2="170.00" stroke-dasharray="1.29 0.70 1.49 0.37 1.61 0.25 1.07 0.56 0.92 0.26 1.37 0.40 1.96 0.30"/>
<line x1="468.70" y1="159.3" x2="468.70" y2="195.10" stroke-dasharray="1.74 0.42 1.75 0.45 1.57 0.40 0.99 0.45 1.74 0.41 1.00 0.44 0.82 0.39"/>
<line x1="471.04" y1="159.3" x2="471.04" y2="190.00" stroke-dasharray="1.44 0.50 1.48 0.38 0.73 0.26 1.14 0.34 1.44 0.37 1.69 0.52 1.56 0.58"/>
<line x1="473.37" y1="159.3" x2="473.37" y2="173.00" stroke-dasharray="1.38 0.44 1.10 0.28 1.73 0.48 0.83 0.67 1.46 0.53 1.27 0.31 2.00 0.33"/>
<line x1="475.71" y1="159.3" x2="475.71" y2="192.60" stroke-dasharray="1.18 0.70 0.86 0.47 1.32 0.36 1.90 0.44 0.72 0.46 0.71 0.57 1.83 0.66"/>
<line x1="478.04" y1="159.3" x2="478.04" y2="175.00" stroke-dasharray="0.76 0.55 1.10 0.46 1.09 0.39 0.87 0.53 0.82 0.68 0.76 0.68 0.95 0.29"/>
<line x1="480.38" y1="159.3" x2="480.38" y2="173.50" stroke-dasharray="1.67 0.49 1.70 0.48 1.52 0.29 1.58 0.48 1.95 0.25 0.79 0.55 1.90 0.44"/>
<line x1="482.71" y1="159.3" x2="482.71" y2="221.60" stroke-dasharray="1.62 0.50 1.21 0.46 1.48 0.26 1.10 0.58 1.04 0.46 1.03 0.41 1.55 0.58"/>
<line x1="485.05" y1="159.3" x2="485.05" y2="218.10" stroke-dasharray="1.94 0.46 0.96 0.40 0.78 0.36 1.46 0.52 1.01 0.33 0.83 0.33 1.35 0.36"/>
<line x1="487.38" y1="159.3" x2="487.38" y2="191.10" stroke-dasharray="1.85 0.50 1.14 0.44 0.75 0.58 1.68 0.41 1.64 0.37 0.99 0.35 0.96 0.52"/>
<line x1="489.72" y1="159.3" x2="489.72" y2="202.10" stroke-dasharray="1.53 0.58 0.83 0.59 1.32 0.42 1.35 0.44 0.96 0.43 1.54 0.57 1.89 0.34"/>
<line x1="492.05" y1="159.3" x2="492.05" y2="195.10" stroke-dasharray="1.86 0.61 1.63 0.69 0.88 0.60 1.87 0.30 1.47 0.68 1.08 0.63 1.88 0.45"/>
<line x1="494.39" y1="159.3" x2="494.39" y2="185.10" stroke-dasharray="0.89 0.35 1.78 0.44 1.11 0.45 1.91 0.36 0.72 0.68 1.11 0.42 1.97 0.38"/>
<line x1="496.73" y1="159.3" x2="496.73" y2="211.60" stroke-dasharray="0.81 0.65 1.02 0.35 1.92 0.35 1.87 0.40 1.09 0.35 1.40 0.50 1.22 0.48"/>
<line x1="499.06" y1="159.3" x2="499.06" y2="182.00" stroke-dasharray="1.09 0.63 1.91 0.59 1.77 0.28 1.03 0.34 0.90 0.69 1.88 0.66 1.43 0.30"/>
<line x1="501.40" y1="159.3" x2="501.40" y2="232.70" stroke-dasharray="1.26 0.28 1.88 0.37 1.07 0.68 0.96 0.67 1.10 0.55 0.84 0.65 1.22 0.41"/>
<line x1="503.73" y1="159.3" x2="503.73" y2="210.10" stroke-dasharray="1.55 0.52 1.03 0.31 1.45 0.26 1.83 0.40 0.92 0.40 0.85 0.39 1.41 0.43"/>
<line x1="506.07" y1="159.3" x2="506.07" y2="183.00" stroke-dasharray="1.13 0.38 1.33 0.60 1.27 0.60 1.33 0.30 0.92 0.63 1.32 0.42 1.37 0.63"/>
<line x1="508.40" y1="159.3" x2="508.40" y2="185.10" stroke-dasharray="1.19 0.41 1.18 0.25 1.41 0.47 1.34 0.45 1.31 0.57 0.94 0.69 0.85 0.64"/>
<line x1="510.74" y1="159.3" x2="510.74" y2="208.10" stroke-dasharray="0.93 0.61 1.04 0.29 1.40 0.63 1.80 0.64 1.97 0.27 1.19 0.30 1.68 0.45"/>
<line x1="513.07" y1="159.3" x2="513.07" y2="178.00" stroke-dasharray="1.67 0.61 2.00 0.55 1.84 0.50 0.80 0.65 0.82 0.29 1.78 0.38 1.56 0.26"/>
<line x1="515.41" y1="159.3" x2="515.41" y2="193.10" stroke-dasharray="0.97 0.57 0.75 0.48 1.92 0.35 1.62 0.58 1.51 0.59 1.61 0.26 0.95 0.49"/>
<line x1="517.74" y1="159.3" x2="517.74" y2="189.10" stroke-dasharray="1.96 0.35 1.46 0.31 1.80 0.45 1.38 0.55 0.88 0.58 1.74 0.64 1.07 0.36"/>
<line x1="520.08" y1="159.3" x2="520.08" y2="180.00" stroke-dasharray="0.91 0.65 1.27 0.43 1.38 0.56 1.11 0.40 1.70 0.60 1.08 0.28 1.91 0.58"/>
<line x1="522.41" y1="159.3" x2="522.41" y2="192.10" stroke-dasharray="1.47 0.43 1.95 0.44 0.98 0.30 1.16 0.52 1.17 0.68 1.54 0.46 1.56 0.52"/>
<line x1="524.75" y1="159.3" x2="524.75" y2="184.10" stroke-dasharray="1.50 0.47 1.38 0.47 1.78 0.34 1.72 0.38 1.80 0.28 1.33 0.45 1.63 0.34"/>
<line x1="527.09" y1="159.3" x2="527.09" y2="195.10" stroke-dasharray="1.04 0.31 1.43 0.51 0.70 0.33 0.96 0.68 1.29 0.50 1.08 0.55 1.76 0.55"/>
<line x1="529.42" y1="159.3" x2="529.42" y2="183.00" stroke-dasharray="0.70 0.45 1.34 0.27 1.73 0.39 1.08 0.53 1.46 0.47 1.82 0.48 1.15 0.28"/>
<line x1="531.76" y1="159.3" x2="531.76" y2="186.00" stroke-dasharray="1.42 0.41 1.40 0.41 0.71 0.27 0.91 0.29 1.81 0.51 1.01 0.57 1.52 0.28"/>
<line x1="534.09" y1="159.3" x2="534.09" y2="205.10" stroke-dasharray="1.68 0.35 2.00 0.31 1.07 0.36 1.82 0.62 1.45 0.32 1.26 0.57 0.78 0.66"/>
<line x1="536.43" y1="159.3" x2="536.43" y2="175.00" stroke-dasharray="1.79 0.67 1.61 0.53 1.97 0.37 1.10 0.31 0.93 0.61 0.82 0.58 1.22 0.64"/>
<line x1="538.76" y1="159.3" x2="538.76" y2="209.60" stroke-dasharray="1.69 0.56 1.80 0.27 1.05 0.42 1.26 0.55 1.84 0.58 1.91 0.56 1.16 0.48"/>
<line x1="541.10" y1="159.3" x2="541.10" y2="180.00" stroke-dasharray="1.67 0.62 1.18 0.41 1.50 0.35 1.85 0.25 1.54 0.47 0.95 0.51 1.32 0.68"/>
<line x1="543.43" y1="159.3" x2="543.43" y2="183.00" stroke-dasharray="1.85 0.51 1.83 0.65 0.91 0.62 1.78 0.70 1.69 0.43 0.97 0.54 0.97 0.59"/>
<line x1="545.77" y1="159.3" x2="545.77" y2="200.60" stroke-dasharray="1.45 0.62 1.16 0.39 1.88 0.55 1.19 0.50 1.27 0.54 1.37 0.38 1.97 0.65"/>
<line x1="548.10" y1="159.3" x2="548.10" y2="173.00" stroke-dasharray="1.69 0.38 0.95 0.58 1.77 0.54 0.98 0.57 1.38 0.42 1.47 0.45 1.54 0.59"/>
<line x1="550.44" y1="159.3" x2="550.44" y2="170.00" stroke-dasharray="1.98 0.30 1.44 0.68 1.55 0.51 1.81 0.26 1.73 0.53 1.46 0.39 1.51 0.31"/>
<line x1="552.78" y1="159.3" x2="552.78" y2="199.10" stroke-dasharray="1.38 0.37 1.91 0.61 1.31 0.59 1.20 0.49 0.91 0.64 1.69 0.59 0.81 0.62"/>
<line x1="555.11" y1="159.3" x2="555.11" y2="185.10" stroke-dasharray="0.72 0.50 1.33 0.28 1.25 0.65 1.51 0.39 1.76 0.41 1.87 0.43 0.80 0.69"/>
<line x1="557.45" y1="159.3" x2="557.45" y2="189.60" stroke-dasharray="0.79 0.36 1.70 0.30 1.41 0.64 1.47 0.41 1.69 0.62 1.45 0.53 1.12 0.43"/>
<line x1="559.78" y1="159.3" x2="559.78" y2="194.10" stroke-dasharray="1.99 0.69 0.70 0.34 0.99 0.61 0.96 0.33 1.70 0.33 1.97 0.45 1.87 0.62"/>
<line x1="562.12" y1="159.3" x2="562.12" y2="173.00" stroke-dasharray="0.97 0.60 1.24 0.35 0.76 0.57 1.43 0.39 1.78 0.34 1.28 0.29 1.16 0.65"/>
<line x1="564.45" y1="159.3" x2="564.45" y2="185.10" stroke-dasharray="1.35 0.32 1.01 0.54 1.06 0.65 0.78 0.64 1.51 0.62 1.16 0.28 0.92 0.53"/>
<line x1="566.79" y1="159.3" x2="566.79" y2="171.00" stroke-dasharray="0.73 0.30 1.72 0.65 1.81 0.63 1.42 0.64 1.61 0.50 1.25 0.26 0.82 0.36"/>
<line x1="569.12" y1="159.3" x2="569.12" y2="183.00" stroke-dasharray="1.30 0.30 1.96 0.51 1.66 0.65 0.99 0.65 1.95 0.37 0.86 0.61 1.86 0.61"/>
<line x1="571.46" y1="159.3" x2="571.46" y2="191.60" stroke-dasharray="1.23 0.52 0.85 0.36 1.24 0.59 0.82 0.67 0.74 0.69 1.01 0.62 1.76 0.68"/>
<line x1="573.79" y1="159.3" x2="573.79" y2="172.00" stroke-dasharray="1.31 0.56 1.08 0.62 0.84 0.65 1.47 0.28 1.92 0.39 0.79 0.37 0.74 0.38"/>
<line x1="576.13" y1="159.3" x2="576.13" y2="170.00" stroke-dasharray="1.62 0.69 1.52 0.63 1.77 0.57 1.20 0.36 0.90 0.50 0.97 0.58 1.12 0.51"/>
<line x1="578.46" y1="159.3" x2="578.46" y2="173.00" stroke-dasharray="1.41 0.53 0.90 0.37 1.60 0.35 1.57 0.68 1.21 0.68 1.50 0.67 1.38 0.59"/>
<line x1="580.80" y1="159.3" x2="580.80" y2="198.10" stroke-dasharray="1.59 0.34 1.37 0.51 1.30 0.55 1.88 0.61 1.76 0.31 1.61 0.53 1.92 0.25"/>
<line x1="583.14" y1="159.3" x2="583.14" y2="190.10" stroke-dasharray="0.92 0.69 1.18 0.57 1.47 0.43 1.27 0.50 1.98 0.49 1.73 0.39 1.63 0.52"/>
<line x1="585.47" y1="159.3" x2="585.47" y2="182.00" stroke-dasharray="1.67 0.65 0.80 0.69 1.49 0.37 1.30 0.29 1.00 0.63 1.62 0.64 0.91 0.30"/>
<line x1="587.81" y1="159.3" x2="587.81" y2="192.10" stroke-dasharray="1.19 0.47 1.62 0.38 1.66 0.51 1.08 0.60 0.80 0.52 0.94 0.27 1.32 0.48"/>
<line x1="590.14" y1="159.3" x2="590.14" y2="177.70" stroke-dasharray="1.50 0.42 1.91 0.60 0.90 0.25 1.95 0.43 0.84 0.33 1.61 0.33 1.18 0.55"/>
<line x1="592.48" y1="159.3" x2="592.48" y2="176.60" stroke-dasharray="1.16 0.54 1.93 0.61 1.52 0.53 1.10 0.54 1.54 0.51 1.34 0.59 0.97 0.57"/>
<line x1="594.81" y1="159.3" x2="594.81" y2="188.50" stroke-dasharray="1.97 0.27 1.03 0.69 0.81 0.62 1.46 0.28 1.52 0.25 1.80 0.39 1.90 0.65"/>
<line x1="597.15" y1="159.3" x2="597.15" y2="169.00" stroke-dasharray="0.88 0.43 0.90 0.59 0.82 0.28 0.85 0.64 1.02 0.40 1.28 0.50 1.24 0.68"/>
<line x1="599.48" y1="159.3" x2="599.48" y2="183.10" stroke-dasharray="1.14 0.46 1.82 0.36 0.93 0.63 1.11 0.65 1.77 0.42 1.13 0.30 1.84 0.45"/>
<line x1="601.82" y1="159.3" x2="601.82" y2="206.30" stroke-dasharray="1.14 0.33 0.99 0.64 0.87 0.50 1.51 0.48 1.35 0.43 0.95 0.62 1.87 0.50"/>
<line x1="604.15" y1="159.3" x2="604.15" y2="174.40" stroke-dasharray="1.03 0.66 0.96 0.33 1.51 0.62 1.44 0.30 1.97 0.32 1.15 0.69 1.73 0.59"/>
<line x1="606.49" y1="159.3" x2="606.49" y2="172.80" stroke-dasharray="0.80 0.63 1.22 0.25 1.73 0.67 0.76 0.45 1.87 0.40 1.09 0.60 1.27 0.70"/>
<line x1="608.82" y1="159.3" x2="608.82" y2="178.80" stroke-dasharray="1.81 0.64 1.62 0.34 1.59 0.51 1.33 0.50 1.10 0.34 1.89 0.42 0.84 0.69"/>
<line x1="611.16" y1="159.3" x2="611.16" y2="177.70" stroke-dasharray="1.36 0.55 1.14 0.32 1.13 0.63 1.06 0.66 1.10 0.65 0.93 0.45 0.87 0.32"/>
<line x1="613.50" y1="159.3" x2="613.50" y2="182.00" stroke-dasharray="1.38 0.41 1.40 0.35 1.10 0.39 1.87 0.29 1.24 0.63 1.44 0.37 2.00 0.30"/>
<line x1="615.83" y1="159.3" x2="615.83" y2="178.80" stroke-dasharray="0.88 0.26 1.27 0.64 1.07 0.38 1.74 0.28 0.72 0.55 0.81 0.49 0.89 0.52"/>
<line x1="618.17" y1="159.3" x2="618.17" y2="192.30" stroke-dasharray="1.81 0.45 1.06 0.53 1.61 0.28 1.01 0.42 1.36 0.37 1.56 0.36 1.88 0.41"/>
<line x1="620.50" y1="159.3" x2="620.50" y2="195.00" stroke-dasharray="0.99 0.29 0.86 0.35 1.85 0.44 1.28 0.68 1.96 0.59 1.01 0.40 1.36 0.37"/>
<line x1="622.84" y1="159.3" x2="622.84" y2="197.70" stroke-dasharray="1.15 0.35 1.01 0.59 1.48 0.45 1.31 0.53 1.59 0.26 1.80 0.46 1.14 0.68"/>
<line x1="625.17" y1="159.3" x2="625.17" y2="180.90" stroke-dasharray="1.68 0.41 0.73 0.45 1.27 0.42 0.83 0.51 1.03 0.59 1.39 0.38 1.77 0.45"/>
<line x1="627.51" y1="159.3" x2="627.51" y2="172.80" stroke-dasharray="0.81 0.38 0.77 0.44 1.88 0.67 1.55 0.32 1.01 0.34 1.18 0.54 0.73 0.47"/>
<line x1="629.84" y1="159.3" x2="629.84" y2="172.30" stroke-dasharray="1.25 0.55 1.77 0.43 1.48 0.37 1.29 0.54 0.77 0.48 1.35 0.33 1.02 0.62"/>
<line x1="632.18" y1="159.3" x2="632.18" y2="200.40" stroke-dasharray="1.15 0.34 1.07 0.48 1.22 0.41 1.12 0.35 1.36 0.52 0.82 0.52 1.10 0.69"/>
<line x1="634.51" y1="159.3" x2="634.51" y2="175.00" stroke-dasharray="1.92 0.31 1.61 0.41 0.84 0.64 1.88 0.60 1.53 0.69 1.42 0.55 1.55 0.64"/>
<line x1="636.85" y1="159.3" x2="636.85" y2="184.70" stroke-dasharray="1.81 0.39 0.97 0.50 1.47 0.41 1.82 0.63 1.59 0.49 1.60 0.34 1.75 0.31"/>
<line x1="639.18" y1="159.3" x2="639.18" y2="195.00" stroke-dasharray="1.87 0.53 1.06 0.34 1.48 0.46 1.61 0.29 1.84 0.44 1.27 0.58 1.49 0.45"/>
<line x1="641.52" y1="159.3" x2="641.52" y2="170.10" stroke-dasharray="1.08 0.46 0.74 0.37 1.77 0.30 0.81 0.63 1.19 0.49 1.46 0.57 1.11 0.60"/>
<line x1="643.86" y1="159.3" x2="643.86" y2="174.40" stroke-dasharray="0.70 0.63 1.10 0.53 1.09 0.59 1.19 0.52 1.12 0.62 1.71 0.34 1.68 0.67"/>
<line x1="646.19" y1="159.3" x2="646.19" y2="176.60" stroke-dasharray="1.01 0.34 1.91 0.68 0.87 0.60 1.91 0.37 1.71 0.38 1.72 0.48 1.31 0.31"/>
<line x1="648.53" y1="159.3" x2="648.53" y2="170.10" stroke-dasharray="1.55 0.57 1.08 0.27 0.82 0.37 2.00 0.58 1.86 0.59 0.87 0.42 1.93 0.63"/>
<line x1="650.86" y1="159.3" x2="650.86" y2="166.90" stroke-dasharray="1.99 0.62 1.62 0.59 1.89 0.44 0.74 0.39 0.72 0.37 1.47 0.37 1.02 0.29"/>
<line x1="653.20" y1="159.3" x2="653.20" y2="168.00" stroke-dasharray="1.17 0.48 1.47 0.67 0.79 0.36 0.80 0.67 1.52 0.55 1.76 0.25 1.87 0.40"/>
<line x1="655.53" y1="159.3" x2="655.53" y2="174.40" stroke-dasharray="1.52 0.43 1.67 0.39 1.06 0.36 1.64 0.46 0.90 0.41 1.44 0.42 1.47 0.63"/>
</g>
<line x1="39.20" y1="270.40" x2="39.20" y2="515.20" stroke="#6a6a6a" stroke-width="1.1"/>
<line x1="34.00" y1="270.40" x2="39.20" y2="270.40" stroke="#6a6a6a" stroke-width="1.1"/>
<text x="32.80" y="276.90" font-size="13.5" text-anchor="end" fill="#333">4</text>
<line x1="34.00" y1="331.60" x2="39.20" y2="331.60" stroke="#6a6a6a" stroke-width="1.1"/>
<text x="32.80" y="336.50" font-size="13.5" text-anchor="end" fill="#333">3</text>
<line x1="34.00" y1="392.80" x2="39.20" y2="392.80" stroke="#6a6a6a" stroke-width="1.1"/>
<text x="32.80" y="397.70" font-size="13.5" text-anchor="end" fill="#333">2</text>
<line x1="34.00" y1="454.00" x2="39.20" y2="454.00" stroke="#6a6a6a" stroke-width="1.1"/>
<text x="32.80" y="458.90" font-size="13.5" text-anchor="end" fill="#333">1</text>
<line x1="34.00" y1="515.20" x2="39.20" y2="515.20" stroke="#6a6a6a" stroke-width="1.1"/>
<text x="32.80" y="520.10" font-size="13.5" text-anchor="end" fill="#333">0.0</text>
<line x1="48.30" y1="521.80" x2="267.98" y2="521.80" stroke="#6a6a6a" stroke-width="1.1"/>
<line x1="48.30" y1="521.80" x2="48.30" y2="527.00" stroke="#6a6a6a" stroke-width="1.1"/>
<text x="48.30" y="541.80" font-size="14" text-anchor="middle" fill="#333">0.0</text>
<line x1="103.22" y1="521.80" x2="103.22" y2="527.00" stroke="#6a6a6a" stroke-width="1.1"/>
<text x="103.22" y="541.80" font-size="14" text-anchor="middle" fill="#333">0.2</text>
<line x1="158.14" y1="521.80" x2="158.14" y2="527.00" stroke="#6a6a6a" stroke-width="1.1"/>
<text x="158.14" y="541.80" font-size="14" text-anchor="middle" fill="#333">0.4</text>
<line x1="213.06" y1="521.80" x2="213.06" y2="527.00" stroke="#6a6a6a" stroke-width="1.1"/>
<text x="213.06" y="541.80" font-size="14" text-anchor="middle" fill="#333">0.6</text>
<line x1="267.98" y1="521.80" x2="267.98" y2="527.00" stroke="#6a6a6a" stroke-width="1.1"/>
<text x="267.98" y="541.80" font-size="14" text-anchor="middle" fill="#333">0.8</text>
<text x="170.80" y="561.30" font-size="13.8" text-anchor="middle" fill="#333">Pathway Impact</text>
<text x="14.40" y="391.50" font-size="13.8" text-anchor="middle" fill="#333" transform="rotate(-90 14.40 391.50)">-log10(p)</text>
<circle cx="48.30" cy="472.00" r="2.10" fill="#f18420" stroke="#2e2416" stroke-width="1.0"/>
<circle cx="48.30" cy="474.75" r="2.10" fill="#f38c1f" stroke="#2e2416" stroke-width="1.0"/>
<circle cx="48.30" cy="477.50" r="2.10" fill="#f4951d" stroke="#2e2416" stroke-width="1.0"/>
<circle cx="48.30" cy="480.25" r="2.10" fill="#f59e1c" stroke="#2e2416" stroke-width="1.0"/>
<circle cx="48.30" cy="483.00" r="2.10" fill="#f6ab1c" stroke="#2e2416" stroke-width="1.0"/>
<circle cx="48.30" cy="485.75" r="2.10" fill="#f7b71c" stroke="#2e2416" stroke-width="1.0"/>
<circle cx="48.30" cy="488.50" r="2.10" fill="#f8c31c" stroke="#2e2416" stroke-width="1.0"/>
<circle cx="48.30" cy="491.25" r="2.10" fill="#f8cd1c" stroke="#2e2416" stroke-width="1.0"/>
<circle cx="48.30" cy="494.00" r="2.10" fill="#f8d71c" stroke="#2e2416" stroke-width="1.0"/>
<circle cx="48.30" cy="496.75" r="2.10" fill="#f7dd32" stroke="#2e2416" stroke-width="1.0"/>
<circle cx="48.30" cy="499.50" r="2.10" fill="#f6e24d" stroke="#2e2416" stroke-width="1.0"/>
<circle cx="48.30" cy="502.25" r="2.10" fill="#f6e770" stroke="#2e2416" stroke-width="1.0"/>
<circle cx="48.30" cy="505.00" r="2.10" fill="#f5eb93" stroke="#2e2416" stroke-width="1.0"/>
<circle cx="48.30" cy="507.75" r="2.10" fill="#f8f2b9" stroke="#2e2416" stroke-width="1.0"/>
<circle cx="48.30" cy="510.50" r="2.10" fill="#fbf8dd" stroke="#2e2416" stroke-width="1.0"/>
<circle cx="288.80" cy="276.20" r="6.90" fill="#e6221e" stroke="#3a2a20" stroke-width="0.6"/>
<circle cx="140.20" cy="315.20" r="4.80" fill="#e6241e" stroke="#3a2a20" stroke-width="0.6"/>
<circle cx="181.90" cy="318.30" r="5.40" fill="#e6241e" stroke="#3a2a20" stroke-width="0.6"/>
<circle cx="57.80" cy="358.70" r="2.90" fill="#e6251e" stroke="#3a2a20" stroke-width="0.6"/>
<circle cx="219.80" cy="370.90" r="5.70" fill="#e6261e" stroke="#3a2a20" stroke-width="0.6"/>
<circle cx="220.80" cy="377.90" r="5.70" fill="#e6291e" stroke="#3a2a20" stroke-width="0.6"/>
<circle cx="48.30" cy="384.50" r="2.20" fill="#e72f1f" stroke="#3a2a20" stroke-width="0.6"/>
<circle cx="69.90" cy="382.20" r="3.50" fill="#e72d1e" stroke="#3a2a20" stroke-width="0.6"/>
<circle cx="95.50" cy="382.00" r="4.20" fill="#e72d1e" stroke="#3a2a20" stroke-width="0.6"/>
<circle cx="118.80" cy="379.90" r="4.80" fill="#e72b1e" stroke="#3a2a20" stroke-width="0.6"/>
<circle cx="48.40" cy="392.90" r="2.20" fill="#e8361f" stroke="#3a2a20" stroke-width="0.6"/>
<circle cx="84.10" cy="392.90" r="3.80" fill="#e8361f" stroke="#3a2a20" stroke-width="0.6"/>
<circle cx="61.50" cy="399.20" r="3.20" fill="#e93a1f" stroke="#3a2a20" stroke-width="0.6"/>
<circle cx="136.10" cy="398.50" r="4.50" fill="#e8391f" stroke="#3a2a20" stroke-width="0.6"/>
<circle cx="96.80" cy="406.30" r="4.00" fill="#e93e20" stroke="#3a2a20" stroke-width="0.6"/>
<circle cx="209.30" cy="406.20" r="5.60" fill="#e93e20" stroke="#3a2a20" stroke-width="0.6"/>
<circle cx="75.80" cy="413.80" r="3.70" fill="#ea4320" stroke="#3a2a20" stroke-width="0.6"/>
<circle cx="87.10" cy="414.60" r="3.70" fill="#ea4320" stroke="#3a2a20" stroke-width="0.6"/>
<circle cx="134.30" cy="413.90" r="4.50" fill="#ea4320" stroke="#3a2a20" stroke-width="0.6"/>
<circle cx="97.30" cy="436.20" r="3.90" fill="#ea5120" stroke="#3a2a20" stroke-width="0.6"/>
<circle cx="166.10" cy="439.20" r="5.10" fill="#ea5220" stroke="#3a2a20" stroke-width="0.6"/>
<circle cx="113.50" cy="446.10" r="4.20" fill="#eb5921" stroke="#3a2a20" stroke-width="0.6"/>
<circle cx="131.80" cy="448.20" r="4.50" fill="#eb5b21" stroke="#3a2a20" stroke-width="0.6"/>
<circle cx="152.70" cy="448.90" r="4.80" fill="#eb5b21" stroke="#3a2a20" stroke-width="0.6"/>
<circle cx="90.50" cy="451.50" r="3.80" fill="#eb5e21" stroke="#3a2a20" stroke-width="0.6"/>
<circle cx="87.90" cy="456.90" r="3.80" fill="#ec6422" stroke="#3a2a20" stroke-width="0.6"/>
<circle cx="66.30" cy="455.50" r="3.20" fill="#ec6222" stroke="#3a2a20" stroke-width="0.6"/>
<circle cx="48.30" cy="454.60" r="2.20" fill="#ec6122" stroke="#3a2a20" stroke-width="0.6"/>
<circle cx="48.30" cy="457.60" r="2.20" fill="#ec6522" stroke="#3a2a20" stroke-width="0.6"/>
<circle cx="48.30" cy="467.40" r="2.00" fill="#ef7722" stroke="#2e2416" stroke-width="1.0"/>
<circle cx="55.30" cy="475.00" r="2.80" fill="#f38d1f" stroke="#3a2a20" stroke-width="0.6"/>
<circle cx="68.80" cy="470.20" r="3.20" fill="#f07e21" stroke="#3a2a20" stroke-width="0.6"/>
<circle cx="82.80" cy="473.60" r="3.60" fill="#f28920" stroke="#3a2a20" stroke-width="0.6"/>
<circle cx="68.50" cy="478.70" r="3.20" fill="#f5991d" stroke="#3a2a20" stroke-width="0.6"/>
<circle cx="61.60" cy="485.50" r="3.00" fill="#f7b61c" stroke="#3a2a20" stroke-width="0.6"/>
<circle cx="76.80" cy="486.40" r="3.50" fill="#f8ba1c" stroke="#3a2a20" stroke-width="0.6"/>
<circle cx="87.40" cy="489.30" r="3.60" fill="#f8c61c" stroke="#3a2a20" stroke-width="0.6"/>
<circle cx="56.10" cy="493.70" r="2.60" fill="#f8d61c" stroke="#3a2a20" stroke-width="0.6"/>
<circle cx="72.80" cy="494.70" r="3.30" fill="#f8d91f" stroke="#3a2a20" stroke-width="0.6"/>
<circle cx="75.00" cy="497.40" r="3.30" fill="#f7de38" stroke="#3a2a20" stroke-width="0.6"/>
<circle cx="82.00" cy="495.20" r="3.50" fill="#f8da24" stroke="#3a2a20" stroke-width="0.6"/>
<circle cx="77.50" cy="505.40" r="3.40" fill="#f5ec98" stroke="#3a2a20" stroke-width="0.6"/>
<circle cx="85.20" cy="506.40" r="3.40" fill="#f6eea6" stroke="#3a2a20" stroke-width="0.6"/>
<circle cx="86.00" cy="507.60" r="3.50" fill="#f8f1b6" stroke="#3a2a20" stroke-width="0.6"/>
<circle cx="58.20" cy="511.10" r="2.60" fill="#fbf8df" stroke="#3a2a20" stroke-width="0.6"/>
<circle cx="62.60" cy="512.00" r="2.80" fill="#fbf9e3" stroke="#3a2a20" stroke-width="0.6"/>
<circle cx="110.50" cy="469.90" r="4.00" fill="#f07d22" stroke="#3a2a20" stroke-width="0.6"/>
<circle cx="114.30" cy="467.00" r="3.80" fill="#ef7722" stroke="#3a2a20" stroke-width="0.6"/>
<circle cx="121.50" cy="470.40" r="4.20" fill="#f17e21" stroke="#3a2a20" stroke-width="0.6"/>
<circle cx="130.70" cy="466.00" r="4.40" fill="#ef7522" stroke="#3a2a20" stroke-width="0.6"/>
<circle cx="128.90" cy="480.60" r="4.30" fill="#f5a01c" stroke="#3a2a20" stroke-width="0.6"/>
<circle cx="113.40" cy="489.60" r="4.10" fill="#f8c71c" stroke="#3a2a20" stroke-width="0.6"/>
<circle cx="139.70" cy="491.80" r="4.30" fill="#f8cf1c" stroke="#3a2a20" stroke-width="0.6"/>
<circle cx="102.90" cy="494.00" r="3.70" fill="#f8d71c" stroke="#3a2a20" stroke-width="0.6"/>
<circle cx="128.20" cy="498.40" r="4.20" fill="#f6e042" stroke="#3a2a20" stroke-width="0.6"/>
<circle cx="135.80" cy="499.10" r="4.30" fill="#f6e248" stroke="#3a2a20" stroke-width="0.6"/>
<circle cx="106.60" cy="503.10" r="3.80" fill="#f5e87b" stroke="#3a2a20" stroke-width="0.6"/>
<circle cx="213.10" cy="469.30" r="5.80" fill="#f07b22" stroke="#3a2a20" stroke-width="0.6"/>
<line x1="66.30" y1="451.80" x2="66.30" y2="447.80" stroke="#111" stroke-width="0.8"/>
<polygon points="66.30,444.20 68.00,447.80 64.60,447.80" fill="#111"/>
<line x1="55.30" y1="472.60" x2="55.81" y2="471.48" stroke="#111" stroke-width="0.8"/>
<polygon points="57.30,468.20 57.36,472.18 54.26,470.77" fill="#111"/>
<line x1="135.40" y1="450.90" x2="158.89" y2="456.21" stroke="#111" stroke-width="0.8"/>
<polygon points="162.40,457.00 158.51,457.86 159.26,454.55" fill="#111"/>
<line x1="113.40" y1="489.60" x2="170.91" y2="484.89" stroke="#111" stroke-width="0.8"/>
<polygon points="174.50,484.60 171.05,486.59 170.77,483.20" fill="#111"/>
<line x1="102.90" y1="494.00" x2="150.63" y2="511.75" stroke="#111" stroke-width="0.8"/>
<polygon points="154.00,513.00 150.03,513.34 151.22,510.15" fill="#111"/>
<line x1="128.20" y1="498.00" x2="165.81" y2="507.42" stroke="#111" stroke-width="0.8"/>
<polygon points="169.30,508.30 165.39,509.07 166.22,505.78" fill="#111"/>
<line x1="106.60" y1="503.10" x2="116.75" y2="510.23" stroke="#111" stroke-width="0.8"/>
<polygon points="119.70,512.30 115.78,511.62 117.73,508.84" fill="#111"/>
<text x="279.00" y="280.80" font-size="13.8" text-anchor="end" fill="#2a2a2a">Lactose synthesis</text>
<text x="139.90" y="308.50" font-size="13.7" fill="#2a2a2a">Methionine metabolism</text>
<text x="166.90" y="333.90" font-size="11.5" fill="#2a2a2a">Phosphotidylcholine biosynthesis</text>
<text x="223.80" y="366.20" font-size="13.6" fill="#2a2a2a">Betaine metabolism</text>
<text x="229.80" y="381.80" font-size="10.3" fill="#2a2a2a">Glutathione metabolism</text>
<text x="145.30" y="400.40" font-size="9.2" fill="#2a2a2a">Amino sugar metabolism</text>
<text x="217.60" y="408.80" font-size="9.2" fill="#2a2a2a">Nucleotide sugars metabolism</text>
<text x="145.30" y="417.80" font-size="9.2" fill="#2a2a2a">Histidine metabolism</text>
<text x="160.70" y="450.90" font-size="9.2" fill="#2a2a2a">Beta-alanine metabolism</text>
<text x="221.20" y="471.50" font-size="9.25" fill="#2a2a2a">Aspartate metabolism</text>
<text x="175.50" y="436.20" font-size="6.8" fill="#2a2a2a">Spermidine &amp; spermine biosynthesisAspartate metabolism</text>
<text x="168.70" y="459.20" font-size="7.0" fill="#2a2a2a">Phospholipid metabolism</text>
<text x="137.60" y="466.90" font-size="6.9" fill="#2a2a2a">Cardiolipin metabolism</text>
<text x="129.90" y="474.70" font-size="7.0" fill="#2a2a2a">Urea cycle</text>
<text x="135.00" y="480.10" font-size="6.85" fill="#2a2a2a">Inositol metabolism</text>
<text x="179.60" y="487.00" font-size="7.0" fill="#2a2a2a">Lysine degradation</text>
<text x="148.90" y="494.00" font-size="7.0" fill="#2a2a2a">Glycerol phosphate shuttle</text>
<text x="143.10" y="500.60" font-size="7.0" fill="#2a2a2a">Ketone body metabolism</text>
<text x="175.90" y="512.20" font-size="7.0" fill="#2a2a2a">Steroid biosynthesis</text>
<text x="150.00" y="517.80" font-size="7.0" text-anchor="end" fill="#2a2a2a">VitB6 metabolism</text>
<text x="157.70" y="517.80" font-size="7.1" fill="#2a2a2a">De novo triacylglycerol biosynthesis</text>
<text x="91.80" y="459.20" font-size="6.9" fill="#2a2a2a" transform="rotate(-3 91.80 459.20)">Taurine metabolism</text>
<text x="71.40" y="468.00" font-size="5.8" fill="#2a2a2a">Warburg</text>
<text x="73.30" y="482.30" font-size="5.5" fill="#2a2a2a">ETC</text>
<text x="60.10" y="494.20" font-size="5.6" fill="#2a2a2a" transform="rotate(-12 60.10 494.20)">TCA</text>
<text x="94.90" y="451.90" font-size="7.0" fill="#2a2a2a" transform="rotate(-20 94.90 451.90)">PPP</text>
<text x="40.00" y="407.20" font-size="4.6" fill="#5a5a5a">Gly &amp; serine metabolism</text>
<text x="46.10" y="422.30" font-size="4.5" fill="#5a5a5a">Tryptophan metabolism</text>
<text x="50.20" y="436.90" font-size="4.6" fill="#5a5a5a">Transfer of acetyl</text>
<text x="50.20" y="442.30" font-size="4.6" fill="#5a5a5a">group into mito</text>
<text x="49.00" y="461.20" font-size="4.6" fill="#5a5a5a">Ammonia</text>
<text x="49.00" y="467.00" font-size="4.6" fill="#5a5a5a">recycling</text>
<text x="102.90" y="463.00" font-size="4.0" fill="#5a5a5a">IP metabolism</text>
<text x="98.40" y="478.20" font-size="4.6" fill="#5a5a5a">Glycerolipid</text>
<text x="99.60" y="483.50" font-size="4.6" fill="#5a5a5a">metabolism</text>
<text x="47.30" y="356.20" font-size="9.0" fill="#2a2a2a" transform="rotate(-19 47.30 356.20)">Galactose metabolism</text>
<text x="68.50" y="376.60" font-size="9.0" fill="#2a2a2a" transform="rotate(-20 68.50 376.60)">Sphingolipid metabolism</text>
<text x="100.60" y="376.60" font-size="9.0" fill="#2a2a2a" transform="rotate(-17 100.60 376.60)">Glutamine metabolism</text>
<text x="127.30" y="381.00" font-size="8.2" fill="#2a2a2a" font-style="italic" transform="rotate(-17 127.30 381.00)">Pyrimidine metabolism</text>
<text x="101.30" y="402.40" font-size="9.3" fill="#2a2a2a" transform="rotate(-17 101.30 402.40)">Carnitine metabolism</text>
<text x="93.00" y="419.80" font-size="7.6" fill="#2a2a2a" font-style="italic" transform="rotate(-14 93.00 419.80)">Starch metabolism</text>
<text x="102.80" y="435.60" font-size="7.6" fill="#2a2a2a" transform="rotate(-13.5 102.80 435.60)">NAD metabolism</text>
<text x="120.00" y="442.40" font-size="7.0" fill="#2a2a2a" font-style="italic" transform="rotate(-14 120.00 442.40)">Butyrate metabolism</text>
<line x1="424.20" y1="281.85" x2="424.20" y2="511.60" stroke="#6a6a6a" stroke-width="1.1"/>
<line x1="419.00" y1="281.85" x2="424.20" y2="281.85" stroke="#6a6a6a" stroke-width="1.1"/>
<text x="414.00" y="286.75" font-size="13.5" text-anchor="end" fill="#333">5</text>
<line x1="419.00" y1="327.80" x2="424.20" y2="327.80" stroke="#6a6a6a" stroke-width="1.1"/>
<text x="414.00" y="332.70" font-size="13.5" text-anchor="end" fill="#333">4</text>
<line x1="419.00" y1="373.75" x2="424.20" y2="373.75" stroke="#6a6a6a" stroke-width="1.1"/>
<text x="414.00" y="378.65" font-size="13.5" text-anchor="end" fill="#333">3</text>
<line x1="419.00" y1="419.70" x2="424.20" y2="419.70" stroke="#6a6a6a" stroke-width="1.1"/>
<text x="414.00" y="424.60" font-size="13.5" text-anchor="end" fill="#333">2</text>
<line x1="419.00" y1="465.65" x2="424.20" y2="465.65" stroke="#6a6a6a" stroke-width="1.1"/>
<text x="414.00" y="470.55" font-size="13.5" text-anchor="end" fill="#333">1</text>
<line x1="419.00" y1="511.60" x2="424.20" y2="511.60" stroke="#6a6a6a" stroke-width="1.1"/>
<text x="414.00" y="516.50" font-size="13.5" text-anchor="end" fill="#333">0.0</text>
<line x1="432.60" y1="516.40" x2="652.60" y2="516.40" stroke="#6a6a6a" stroke-width="1.1"/>
<line x1="432.60" y1="516.40" x2="432.60" y2="521.00" stroke="#6a6a6a" stroke-width="1.1"/>
<text x="431.00" y="537.20" font-size="13.5" text-anchor="middle" fill="#333">0.0</text>
<line x1="476.60" y1="516.40" x2="476.60" y2="521.00" stroke="#6a6a6a" stroke-width="1.1"/>
<text x="475.00" y="537.20" font-size="13.5" text-anchor="middle" fill="#333">0.1</text>
<line x1="520.60" y1="516.40" x2="520.60" y2="521.00" stroke="#6a6a6a" stroke-width="1.1"/>
<text x="519.00" y="537.20" font-size="13.5" text-anchor="middle" fill="#333">0.2</text>
<line x1="564.60" y1="516.40" x2="564.60" y2="521.00" stroke="#6a6a6a" stroke-width="1.1"/>
<text x="563.00" y="537.20" font-size="13.5" text-anchor="middle" fill="#333">0.3</text>
<line x1="608.60" y1="516.40" x2="608.60" y2="521.00" stroke="#6a6a6a" stroke-width="1.1"/>
<text x="607.00" y="537.20" font-size="13.5" text-anchor="middle" fill="#333">0.4</text>
<line x1="652.60" y1="516.40" x2="652.60" y2="521.00" stroke="#6a6a6a" stroke-width="1.1"/>
<text x="651.00" y="537.20" font-size="13.5" text-anchor="middle" fill="#333">0.5</text>
<text x="541.20" y="560.80" font-size="13.8" text-anchor="middle" fill="#333">Pathway Impact</text>
<text x="392.80" y="390.40" font-size="13.8" text-anchor="middle" fill="#333" transform="rotate(-90 392.80 390.40)">-log10(p)</text>
<circle cx="432.30" cy="492.60" r="2.00" fill="#ec6f22" stroke="#2e2418" stroke-width="0.9"/>
<circle cx="432.30" cy="494.80" r="2.00" fill="#f08920" stroke="#2e2418" stroke-width="0.9"/>
<circle cx="432.30" cy="497.00" r="2.00" fill="#f7b61c" stroke="#2e2418" stroke-width="0.9"/>
<circle cx="432.30" cy="499.20" r="2.00" fill="#f7d41e" stroke="#2e2418" stroke-width="0.9"/>
<circle cx="432.30" cy="501.40" r="2.00" fill="#f6e236" stroke="#2e2418" stroke-width="0.9"/>
<circle cx="432.30" cy="503.60" r="2.00" fill="#f5e870" stroke="#2e2418" stroke-width="0.9"/>
<circle cx="432.30" cy="505.80" r="2.00" fill="#f6eea5" stroke="#2e2418" stroke-width="0.9"/>
<circle cx="476.90" cy="287.70" r="5.20" fill="#e6201e" stroke="#2e2418" stroke-width="0.6"/>
<circle cx="432.40" cy="442.80" r="2.50" fill="#e6241e" stroke="#2e2418" stroke-width="0.6"/>
<circle cx="434.60" cy="446.90" r="2.80" fill="#e6241e" stroke="#2e2418" stroke-width="0.6"/>
<circle cx="432.30" cy="480.10" r="2.20" fill="#e84220" stroke="#2e2418" stroke-width="0.6"/>
<circle cx="440.40" cy="495.90" r="3.00" fill="#f59e1c" stroke="#2e2418" stroke-width="0.6"/>
<circle cx="436.70" cy="504.20" r="2.80" fill="#f5e980" stroke="#2e2418" stroke-width="0.6"/>
<circle cx="445.90" cy="505.00" r="3.20" fill="#f5ec96" stroke="#2e2418" stroke-width="0.6"/>
<circle cx="455.40" cy="508.00" r="3.70" fill="#faf4cd" stroke="#2e2418" stroke-width="0.6"/>
<circle cx="452.40" cy="488.70" r="3.30" fill="#e95620" stroke="#2e2418" stroke-width="0.6"/>
<circle cx="451.40" cy="491.60" r="3.30" fill="#eb6521" stroke="#2e2418" stroke-width="0.6"/>
<circle cx="456.10" cy="493.50" r="3.30" fill="#ee7a21" stroke="#2e2418" stroke-width="0.6"/>
<circle cx="463.10" cy="493.50" r="3.50" fill="#ee7a21" stroke="#2e2418" stroke-width="0.6"/>
<circle cx="456.10" cy="498.90" r="3.50" fill="#f7d11e" stroke="#2e2418" stroke-width="0.6"/>
<circle cx="460.40" cy="500.40" r="3.50" fill="#f6df20" stroke="#2e2418" stroke-width="0.6"/>
<circle cx="467.70" cy="498.90" r="3.50" fill="#f7d11e" stroke="#2e2418" stroke-width="0.6"/>
<circle cx="468.50" cy="501.10" r="3.50" fill="#f6e12e" stroke="#2e2418" stroke-width="0.6"/>
<circle cx="473.30" cy="485.50" r="4.50" fill="#e84e20" stroke="#2e2418" stroke-width="0.6"/>
<circle cx="478.70" cy="480.70" r="4.50" fill="#e84320" stroke="#2e2418" stroke-width="0.6"/>
<circle cx="477.70" cy="483.90" r="4.20" fill="#e84a20" stroke="#2e2418" stroke-width="0.6"/>
<circle cx="497.60" cy="471.70" r="5.00" fill="#e7311f" stroke="#2e2418" stroke-width="0.6"/>
<circle cx="495.20" cy="482.30" r="5.00" fill="#e84720" stroke="#2e2418" stroke-width="0.6"/>
<circle cx="489.40" cy="489.40" r="5.00" fill="#ea5720" stroke="#2e2418" stroke-width="0.6"/>
<circle cx="489.80" cy="499.40" r="5.00" fill="#f7d61e" stroke="#2e2418" stroke-width="0.6"/>
<circle cx="512.20" cy="490.80" r="5.60" fill="#ea5d20" stroke="#2e2418" stroke-width="0.6"/>
<circle cx="529.20" cy="495.80" r="5.80" fill="#f49c1d" stroke="#2e2418" stroke-width="0.6"/>
<circle cx="542.30" cy="495.00" r="5.80" fill="#f08b20" stroke="#2e2418" stroke-width="0.6"/>
<circle cx="579.10" cy="492.00" r="6.90" fill="#ec6922" stroke="#2e2418" stroke-width="0.6"/>
<circle cx="652.90" cy="490.60" r="7.80" fill="#ea5b20" stroke="#2e2418" stroke-width="0.6"/>
<line x1="433.10" y1="438.90" x2="461.30" y2="341.66" stroke="#111" stroke-width="0.8"/>
<polygon points="462.30,338.20 462.93,342.13 459.66,341.18" fill="#111"/>
<line x1="437.20" y1="441.10" x2="466.64" y2="380.04" stroke="#111" stroke-width="0.8"/>
<polygon points="468.20,376.80 468.17,380.78 465.11,379.30" fill="#111"/>
<line x1="470.40" y1="480.00" x2="483.56" y2="407.44" stroke="#111" stroke-width="0.8"/>
<polygon points="484.20,403.90 485.23,407.75 481.88,407.14" fill="#111"/>
<line x1="479.10" y1="477.60" x2="490.84" y2="423.12" stroke="#111" stroke-width="0.8"/>
<polygon points="491.60,419.60 492.50,423.48 489.18,422.76" fill="#111"/>
<line x1="482.80" y1="477.60" x2="495.43" y2="446.93" stroke="#111" stroke-width="0.8"/>
<polygon points="496.80,443.60 497.00,447.58 493.86,446.28" fill="#111"/>
<line x1="501.40" y1="482.00" x2="507.50" y2="471.42" stroke="#111" stroke-width="0.8"/>
<polygon points="509.30,468.30 508.97,472.27 506.03,470.57" fill="#111"/>
<text x="483.60" y="289.20" font-size="13.8" fill="#2a2a2a">Purine metabolism</text>
<text x="466.10" y="336.50" font-size="13.7" fill="#2a2a2a">Thiamine metabolism</text>
<text x="472.60" y="372.40" font-size="13.7" fill="#2a2a2a">Bile acid metabolism</text>
<text x="487.90" y="401.20" font-size="6.8" fill="#2a2a2a">Tyrosine metabolism</text>
<text x="491.10" y="414.30" font-size="6.8" fill="#2a2a2a">Gluconeogenesis</text>
<text x="496.00" y="429.80" font-size="6.8" fill="#2a2a2a">Warburg</text>
<text x="496.00" y="437.90" font-size="6.8" fill="#2a2a2a">Effect</text>
<text x="475.00" y="503.30" font-size="6.8" fill="#2a2a2a">PPP</text>
<text x="462.20" y="512.50" font-size="6.7" fill="#2a2a2a">TCA</text>
<text x="496.20" y="509.40" font-size="6.86" fill="#2a2a2a">Mito b-oxidation of very long chain saturated FA</text>
<text x="437.30" y="477.60" font-size="6.9" fill="#2a2a2a" transform="rotate(-62.5 437.30 477.60)">Beta-alanine metabolism</text>
<text x="443.60" y="491.60" font-size="6.8" fill="#2a2a2a" transform="rotate(-66.5 443.60 491.60)">Transfer of acetyl group into mito</text>
<text x="499.80" y="464.60" font-size="7.2" fill="#2a2a2a" transform="rotate(-47.5 499.80 464.60)">Glycolysis</text>
<text x="511.00" y="467.60" font-size="7.1" fill="#2a2a2a" transform="rotate(-48 511.00 467.60)">Fructose &amp; mannose degradation</text>
<text x="516.30" y="482.50" font-size="7.0" fill="#2a2a2a" transform="rotate(-47.8 516.30 482.50)">B-oxidation of very long chain FA</text>
<text x="532.80" y="488.30" font-size="6.9" fill="#2a2a2a" transform="rotate(-47.8 532.80 488.30)">Phosphatidylcholine biosynthesis</text>
<text x="549.00" y="488.30" font-size="6.9" fill="#2a2a2a" transform="rotate(-47.1 549.00 488.30)">Mito b-oxidation of short chain FA</text>
<text x="585.30" y="483.60" font-size="8.0" fill="#2a2a2a" transform="rotate(-52.4 585.30 483.60)">Catecholamine biosynthesis</text>
<text x="654.60" y="480.60" font-size="9.2" fill="#2a2a2a" transform="rotate(-82.5 654.60 480.60)">Phosphotidylethanolamine biosynthesis</text>
<text x="116.30" y="594.50" font-size="13.85">Up metabolite sets enrichment</text>
<rect x="118.8" y="602.2" width="184.60" height="268.00" fill="#ffffff"/>
<line x1="146.25" y1="602.20" x2="146.25" y2="870.20" stroke="#f4f4f4" stroke-width="0.6"/>
<line x1="205.75" y1="602.20" x2="205.75" y2="870.20" stroke="#f4f4f4" stroke-width="0.6"/>
<line x1="265.25" y1="602.20" x2="265.25" y2="870.20" stroke="#f4f4f4" stroke-width="0.6"/>
<line x1="176.00" y1="602.20" x2="176.00" y2="870.20" stroke="#ebebeb" stroke-width="0.7"/>
<line x1="235.50" y1="602.20" x2="235.50" y2="870.20" stroke="#ebebeb" stroke-width="0.7"/>
<line x1="295.00" y1="602.20" x2="295.00" y2="870.20" stroke="#ebebeb" stroke-width="0.7"/>
<line x1="118.80" y1="608.40" x2="303.40" y2="608.40" stroke="#eeeeee" stroke-width="0.8"/>
<line x1="118.80" y1="619.02" x2="303.40" y2="619.02" stroke="#eeeeee" stroke-width="0.8"/>
<line x1="118.80" y1="629.65" x2="303.40" y2="629.65" stroke="#eeeeee" stroke-width="0.8"/>
<line x1="118.80" y1="640.27" x2="303.40" y2="640.27" stroke="#eeeeee" stroke-width="0.8"/>
<line x1="118.80" y1="650.90" x2="303.40" y2="650.90" stroke="#eeeeee" stroke-width="0.8"/>
<line x1="118.80" y1="661.52" x2="303.40" y2="661.52" stroke="#eeeeee" stroke-width="0.8"/>
<line x1="118.80" y1="672.15" x2="303.40" y2="672.15" stroke="#eeeeee" stroke-width="0.8"/>
<line x1="118.80" y1="682.77" x2="303.40" y2="682.77" stroke="#eeeeee" stroke-width="0.8"/>
<line x1="118.80" y1="693.40" x2="303.40" y2="693.40" stroke="#eeeeee" stroke-width="0.8"/>
<line x1="118.80" y1="704.02" x2="303.40" y2="704.02" stroke="#eeeeee" stroke-width="0.8"/>
<line x1="118.80" y1="714.65" x2="303.40" y2="714.65" stroke="#eeeeee" stroke-width="0.8"/>
<line x1="118.80" y1="725.27" x2="303.40" y2="725.27" stroke="#eeeeee" stroke-width="0.8"/>
<line x1="118.80" y1="735.90" x2="303.40" y2="735.90" stroke="#eeeeee" stroke-width="0.8"/>
<line x1="118.80" y1="746.52" x2="303.40" y2="746.52" stroke="#eeeeee" stroke-width="0.8"/>
<line x1="118.80" y1="757.15" x2="303.40" y2="757.15" stroke="#eeeeee" stroke-width="0.8"/>
<line x1="118.80" y1="767.77" x2="303.40" y2="767.77" stroke="#eeeeee" stroke-width="0.8"/>
<line x1="118.80" y1="778.40" x2="303.40" y2="778.40" stroke="#eeeeee" stroke-width="0.8"/>
<line x1="118.80" y1="789.02" x2="303.40" y2="789.02" stroke="#eeeeee" stroke-width="0.8"/>
<line x1="118.80" y1="799.65" x2="303.40" y2="799.65" stroke="#eeeeee" stroke-width="0.8"/>
<line x1="118.80" y1="810.27" x2="303.40" y2="810.27" stroke="#eeeeee" stroke-width="0.8"/>
<line x1="118.80" y1="820.90" x2="303.40" y2="820.90" stroke="#eeeeee" stroke-width="0.8"/>
<line x1="118.80" y1="831.52" x2="303.40" y2="831.52" stroke="#eeeeee" stroke-width="0.8"/>
<line x1="118.80" y1="842.15" x2="303.40" y2="842.15" stroke="#eeeeee" stroke-width="0.8"/>
<line x1="118.80" y1="852.77" x2="303.40" y2="852.77" stroke="#eeeeee" stroke-width="0.8"/>
<line x1="118.80" y1="863.40" x2="303.40" y2="863.40" stroke="#eeeeee" stroke-width="0.8"/>
<rect x="118.8" y="602.2" width="184.60" height="268.00" fill="none" stroke="#a5a5a5" stroke-width="0.9"/>
<line x1="116.60" y1="608.40" x2="118.80" y2="608.40" stroke="#444" stroke-width="0.7"/>
<text x="115.80" y="610.80" font-size="6.87" text-anchor="end">Glutamate metabolism</text>
<line x1="116.60" y1="619.02" x2="118.80" y2="619.02" stroke="#444" stroke-width="0.7"/>
<text x="115.80" y="621.42" font-size="6.87" text-anchor="end">Arginine &amp; proline metabolism</text>
<line x1="116.60" y1="629.65" x2="118.80" y2="629.65" stroke="#444" stroke-width="0.7"/>
<text x="115.80" y="632.05" font-size="6.87" text-anchor="end">Urea cycle</text>
<line x1="116.60" y1="640.27" x2="118.80" y2="640.27" stroke="#444" stroke-width="0.7"/>
<text x="115.80" y="642.67" font-size="6.87" text-anchor="end">Methionine metabolism</text>
<line x1="116.60" y1="650.90" x2="118.80" y2="650.90" stroke="#444" stroke-width="0.7"/>
<text x="115.80" y="653.30" font-size="6.87" text-anchor="end">Glycine &amp; serine metabolism</text>
<line x1="116.60" y1="661.52" x2="118.80" y2="661.52" stroke="#444" stroke-width="0.7"/>
<text x="115.80" y="663.92" font-size="6.87" text-anchor="end">Glutathione metabolism</text>
<line x1="116.60" y1="672.15" x2="118.80" y2="672.15" stroke="#444" stroke-width="0.7"/>
<text x="115.80" y="674.55" font-size="6.87" text-anchor="end">Tryptophan metabolism</text>
<line x1="116.60" y1="682.77" x2="118.80" y2="682.77" stroke="#444" stroke-width="0.7"/>
<text x="115.80" y="685.17" font-size="6.87" text-anchor="end">Starch &amp; sucrose metabolism</text>
<line x1="116.60" y1="693.40" x2="118.80" y2="693.40" stroke="#444" stroke-width="0.7"/>
<text x="115.80" y="695.80" font-size="6.87" text-anchor="end">Glucose-alanine cycle</text>
<line x1="116.60" y1="704.02" x2="118.80" y2="704.02" stroke="#444" stroke-width="0.7"/>
<text x="115.80" y="706.42" font-size="6.87" text-anchor="end">Lactose synthesis</text>
<line x1="116.60" y1="714.65" x2="118.80" y2="714.65" stroke="#444" stroke-width="0.7"/>
<text x="115.80" y="717.05" font-size="6.87" text-anchor="end">Pyrimidine metabolism</text>
<line x1="116.60" y1="725.27" x2="118.80" y2="725.27" stroke="#444" stroke-width="0.7"/>
<text x="115.80" y="727.67" font-size="6.87" text-anchor="end">Amino sugar metabolism</text>
<line x1="116.60" y1="735.90" x2="118.80" y2="735.90" stroke="#444" stroke-width="0.7"/>
<text x="115.80" y="738.30" font-size="6.87" text-anchor="end">Catecholamine biosynthesis</text>
<line x1="116.60" y1="746.52" x2="118.80" y2="746.52" stroke="#444" stroke-width="0.7"/>
<text x="115.80" y="748.92" font-size="6.87" text-anchor="end">Histidine metabolism</text>
<line x1="116.60" y1="757.15" x2="118.80" y2="757.15" stroke="#444" stroke-width="0.7"/>
<text x="115.80" y="759.55" font-size="6.87" text-anchor="end">PC biosynthesis</text>
<line x1="116.60" y1="767.77" x2="118.80" y2="767.77" stroke="#444" stroke-width="0.7"/>
<text x="115.80" y="770.17" font-size="6.87" text-anchor="end">NAD metabolism</text>
<line x1="116.60" y1="778.40" x2="118.80" y2="778.40" stroke="#444" stroke-width="0.7"/>
<text x="115.80" y="780.80" font-size="6.87" text-anchor="end">Betaine metabolism</text>
<line x1="116.60" y1="789.02" x2="118.80" y2="789.02" stroke="#444" stroke-width="0.7"/>
<text x="115.80" y="791.42" font-size="6.87" text-anchor="end">Cartinine synthesis</text>
<line x1="116.60" y1="799.65" x2="118.80" y2="799.65" stroke="#444" stroke-width="0.7"/>
<text x="115.80" y="802.05" font-size="6.87" text-anchor="end">Malate-aspartate shuttle</text>
<line x1="116.60" y1="810.27" x2="118.80" y2="810.27" stroke="#444" stroke-width="0.7"/>
<text x="115.80" y="812.67" font-size="6.87" text-anchor="end">Galactose metabolism</text>
<line x1="116.60" y1="820.90" x2="118.80" y2="820.90" stroke="#444" stroke-width="0.7"/>
<text x="115.80" y="823.30" font-size="6.87" text-anchor="end">Ammonia recycling</text>
<line x1="116.60" y1="831.52" x2="118.80" y2="831.52" stroke="#444" stroke-width="0.7"/>
<text x="115.80" y="833.92" font-size="6.87" text-anchor="end">Alanine metabolism</text>
<line x1="116.60" y1="842.15" x2="118.80" y2="842.15" stroke="#444" stroke-width="0.7"/>
<text x="115.80" y="844.55" font-size="6.87" text-anchor="end">Estrone metabolism</text>
<line x1="116.60" y1="852.77" x2="118.80" y2="852.77" stroke="#444" stroke-width="0.7"/>
<text x="115.80" y="855.17" font-size="6.87" text-anchor="end">Sphingolipid metabolism</text>
<line x1="116.60" y1="863.40" x2="118.80" y2="863.40" stroke="#444" stroke-width="0.7"/>
<text x="115.80" y="865.80" font-size="6.87" text-anchor="end">Spermidine &amp; spermine biosynthesis</text>
<ellipse cx="294.90" cy="608.40" rx="2.80" ry="3.08" fill="#e8221f"/>
<ellipse cx="269.90" cy="619.02" rx="2.50" ry="2.75" fill="#e8261f"/>
<ellipse cx="247.20" cy="629.65" rx="3.30" ry="3.63" fill="#e92a1f"/>
<ellipse cx="242.60" cy="640.27" rx="2.80" ry="3.08" fill="#e92e20"/>
<ellipse cx="232.00" cy="650.90" rx="2.00" ry="2.20" fill="#e93220"/>
<ellipse cx="211.60" cy="661.52" rx="3.40" ry="3.74" fill="#ea3620"/>
<ellipse cx="194.70" cy="672.15" rx="1.80" ry="1.98" fill="#ea3a20"/>
<ellipse cx="178.30" cy="682.77" rx="2.50" ry="2.75" fill="#eb3f20"/>
<ellipse cx="169.30" cy="693.40" rx="3.70" ry="4.07" fill="#eb4521"/>
<ellipse cx="168.10" cy="704.02" rx="3.20" ry="3.52" fill="#ec4a21"/>
<ellipse cx="167.50" cy="714.65" rx="1.10" ry="1.21" fill="#ed4f21"/>
<ellipse cx="166.60" cy="725.27" rx="2.50" ry="2.75" fill="#ed5522"/>
<ellipse cx="160.20" cy="735.90" rx="3.20" ry="3.52" fill="#ee5a22"/>
<ellipse cx="159.90" cy="746.52" rx="2.20" ry="2.42" fill="#ef5f22"/>
<ellipse cx="159.00" cy="757.15" rx="3.50" ry="3.85" fill="#ef6522"/>
<ellipse cx="155.80" cy="767.77" rx="2.40" ry="2.64" fill="#f06a22"/>
<ellipse cx="153.00" cy="778.40" rx="2.80" ry="3.08" fill="#f16f22"/>
<ellipse cx="146.50" cy="789.02" rx="2.70" ry="2.97" fill="#f17522"/>
<ellipse cx="143.00" cy="799.65" rx="3.80" ry="4.18" fill="#f27a22"/>
<ellipse cx="141.50" cy="810.27" rx="1.90" ry="2.09" fill="#f38022"/>
<ellipse cx="136.90" cy="820.90" rx="2.30" ry="2.53" fill="#f48721"/>
<ellipse cx="134.20" cy="831.52" rx="3.00" ry="3.30" fill="#f48d21"/>
<ellipse cx="133.90" cy="842.15" rx="2.70" ry="2.97" fill="#f59321"/>
<ellipse cx="132.80" cy="852.77" rx="1.60" ry="1.76" fill="#f69a20"/>
<ellipse cx="127.50" cy="863.40" rx="3.00" ry="3.30" fill="#f7a020"/>
<line x1="176.00" y1="870.20" x2="176.00" y2="872.40" stroke="#444" stroke-width="0.7"/>
<line x1="235.50" y1="870.20" x2="235.50" y2="872.40" stroke="#444" stroke-width="0.7"/>
<line x1="295.00" y1="870.20" x2="295.00" y2="872.40" stroke="#444" stroke-width="0.7"/>
<text x="176.00" y="881.80" font-size="10.7" text-anchor="middle">3</text>
<text x="235.50" y="881.80" font-size="10.7" text-anchor="middle">4</text>
<text x="295.00" y="881.80" font-size="10.7" text-anchor="middle">5</text>
<text x="212.10" y="893.20" font-size="11.6" text-anchor="middle">-log10(p)</text>
<text x="312.80" y="692.30" font-size="6.9">Enrichment Ratio</text>
<circle cx="316.7" cy="700.4" r="1.9" fill="#000"/>
<text x="323.90" y="702.70" font-size="6.6">3</text>
<circle cx="316.7" cy="708.5" r="2.9" fill="#000"/>
<text x="323.90" y="710.80" font-size="6.6">4</text>
<circle cx="316.7" cy="717.3" r="3.6" fill="#000"/>
<text x="323.90" y="719.60" font-size="6.6">5</text>
<text x="312.80" y="741.20" font-size="6.9">P-value</text>
<defs><linearGradient id="dpg" x1="0" y1="0" x2="0" y2="1"><stop offset="0" stop-color="#f7a21d"/><stop offset="0.5" stop-color="#f06c22"/><stop offset="1" stop-color="#e8221f"/></linearGradient></defs>
<rect x="312.6" y="745.2" width="6.4" height="41.5" fill="url(#dpg)"/>
<text x="322.80" y="750.50" font-size="6.6">0.006</text>
<text x="322.80" y="763.05" font-size="6.6">0.004</text>
<text x="322.80" y="775.60" font-size="6.6">0.002</text>
<text x="322.80" y="788.15" font-size="6.6">0.000</text>
<line x1="18.90" y1="766.50" x2="18.90" y2="769.50" stroke="#bbb" stroke-width="0.6"/>
<text x="440.00" y="594.50" font-size="13.85">Down metabolite sets enrichment</text>
<rect x="480.5" y="603.3" width="133.00" height="268.70" fill="#ffffff"/>
<line x1="490.51" y1="603.30" x2="490.51" y2="872.00" stroke="#f4f4f4" stroke-width="0.6"/>
<line x1="518.89" y1="603.30" x2="518.89" y2="872.00" stroke="#f4f4f4" stroke-width="0.6"/>
<line x1="547.27" y1="603.30" x2="547.27" y2="872.00" stroke="#f4f4f4" stroke-width="0.6"/>
<line x1="575.65" y1="603.30" x2="575.65" y2="872.00" stroke="#f4f4f4" stroke-width="0.6"/>
<line x1="604.03" y1="603.30" x2="604.03" y2="872.00" stroke="#f4f4f4" stroke-width="0.6"/>
<line x1="504.70" y1="603.30" x2="504.70" y2="872.00" stroke="#ebebeb" stroke-width="0.7"/>
<line x1="533.08" y1="603.30" x2="533.08" y2="872.00" stroke="#ebebeb" stroke-width="0.7"/>
<line x1="561.46" y1="603.30" x2="561.46" y2="872.00" stroke="#ebebeb" stroke-width="0.7"/>
<line x1="589.84" y1="603.30" x2="589.84" y2="872.00" stroke="#ebebeb" stroke-width="0.7"/>
<line x1="480.50" y1="609.60" x2="613.50" y2="609.60" stroke="#eeeeee" stroke-width="0.8"/>
<line x1="480.50" y1="620.28" x2="613.50" y2="620.28" stroke="#eeeeee" stroke-width="0.8"/>
<line x1="480.50" y1="630.96" x2="613.50" y2="630.96" stroke="#eeeeee" stroke-width="0.8"/>
<line x1="480.50" y1="641.64" x2="613.50" y2="641.64" stroke="#eeeeee" stroke-width="0.8"/>
<line x1="480.50" y1="652.32" x2="613.50" y2="652.32" stroke="#eeeeee" stroke-width="0.8"/>
<line x1="480.50" y1="663.00" x2="613.50" y2="663.00" stroke="#eeeeee" stroke-width="0.8"/>
<line x1="480.50" y1="673.68" x2="613.50" y2="673.68" stroke="#eeeeee" stroke-width="0.8"/>
<line x1="480.50" y1="684.36" x2="613.50" y2="684.36" stroke="#eeeeee" stroke-width="0.8"/>
<line x1="480.50" y1="695.04" x2="613.50" y2="695.04" stroke="#eeeeee" stroke-width="0.8"/>
<line x1="480.50" y1="705.72" x2="613.50" y2="705.72" stroke="#eeeeee" stroke-width="0.8"/>
<line x1="480.50" y1="716.40" x2="613.50" y2="716.40" stroke="#eeeeee" stroke-width="0.8"/>
<line x1="480.50" y1="727.08" x2="613.50" y2="727.08" stroke="#eeeeee" stroke-width="0.8"/>
<line x1="480.50" y1="737.76" x2="613.50" y2="737.76" stroke="#eeeeee" stroke-width="0.8"/>
<line x1="480.50" y1="748.44" x2="613.50" y2="748.44" stroke="#eeeeee" stroke-width="0.8"/>
<line x1="480.50" y1="759.12" x2="613.50" y2="759.12" stroke="#eeeeee" stroke-width="0.8"/>
<line x1="480.50" y1="769.80" x2="613.50" y2="769.80" stroke="#eeeeee" stroke-width="0.8"/>
<line x1="480.50" y1="780.48" x2="613.50" y2="780.48" stroke="#eeeeee" stroke-width="0.8"/>
<line x1="480.50" y1="791.16" x2="613.50" y2="791.16" stroke="#eeeeee" stroke-width="0.8"/>
<line x1="480.50" y1="801.84" x2="613.50" y2="801.84" stroke="#eeeeee" stroke-width="0.8"/>
<line x1="480.50" y1="812.52" x2="613.50" y2="812.52" stroke="#eeeeee" stroke-width="0.8"/>
<line x1="480.50" y1="823.20" x2="613.50" y2="823.20" stroke="#eeeeee" stroke-width="0.8"/>
<line x1="480.50" y1="833.88" x2="613.50" y2="833.88" stroke="#eeeeee" stroke-width="0.8"/>
<line x1="480.50" y1="844.56" x2="613.50" y2="844.56" stroke="#eeeeee" stroke-width="0.8"/>
<line x1="480.50" y1="855.24" x2="613.50" y2="855.24" stroke="#eeeeee" stroke-width="0.8"/>
<line x1="480.50" y1="865.92" x2="613.50" y2="865.92" stroke="#eeeeee" stroke-width="0.8"/>
<rect x="480.5" y="603.3" width="133.00" height="268.70" fill="none" stroke="#a5a5a5" stroke-width="0.9"/>
<line x1="478.30" y1="609.60" x2="480.50" y2="609.60" stroke="#444" stroke-width="0.7"/>
<text x="477.50" y="612.00" font-size="6.87" text-anchor="end">Purine metabolism</text>
<line x1="478.30" y1="620.28" x2="480.50" y2="620.28" stroke="#444" stroke-width="0.7"/>
<text x="477.50" y="622.68" font-size="6.87" text-anchor="end">Thiamine metabolism</text>
<line x1="478.30" y1="630.96" x2="480.50" y2="630.96" stroke="#444" stroke-width="0.7"/>
<text x="477.50" y="633.36" font-size="6.87" text-anchor="end">Bile acid biosynthesis</text>
<line x1="478.30" y1="641.64" x2="480.50" y2="641.64" stroke="#444" stroke-width="0.7"/>
<text x="477.50" y="644.04" font-size="6.87" text-anchor="end">Riboflavin metabolism</text>
<line x1="478.30" y1="652.32" x2="480.50" y2="652.32" stroke="#444" stroke-width="0.7"/>
<text x="477.50" y="654.72" font-size="6.87" text-anchor="end">Beta-alanine metabolism</text>
<line x1="478.30" y1="663.00" x2="480.50" y2="663.00" stroke="#444" stroke-width="0.7"/>
<text x="477.50" y="665.40" font-size="6.87" text-anchor="end">Methylhistidine metabolism</text>
<line x1="478.30" y1="673.68" x2="480.50" y2="673.68" stroke="#444" stroke-width="0.7"/>
<text x="477.50" y="676.08" font-size="6.87" text-anchor="end">Vitamine B6 metabolism</text>
<line x1="478.30" y1="684.36" x2="480.50" y2="684.36" stroke="#444" stroke-width="0.7"/>
<text x="477.50" y="686.76" font-size="6.87" text-anchor="end">Butyrate metabolism</text>
<line x1="478.30" y1="695.04" x2="480.50" y2="695.04" stroke="#444" stroke-width="0.7"/>
<text x="477.50" y="697.44" font-size="6.87" text-anchor="end">Ethanol degradation</text>
<line x1="478.30" y1="705.72" x2="480.50" y2="705.72" stroke="#444" stroke-width="0.7"/>
<text x="477.50" y="708.12" font-size="6.87" text-anchor="end">Pentothenate &amp; CoA biosynthesis</text>
<line x1="478.30" y1="716.40" x2="480.50" y2="716.40" stroke="#444" stroke-width="0.7"/>
<text x="477.50" y="718.80" font-size="6.87" text-anchor="end">Glycolysis</text>
<line x1="478.30" y1="727.08" x2="480.50" y2="727.08" stroke="#444" stroke-width="0.7"/>
<text x="477.50" y="729.48" font-size="6.87" text-anchor="end">Glutamate metabolism</text>
<line x1="478.30" y1="737.76" x2="480.50" y2="737.76" stroke="#444" stroke-width="0.7"/>
<text x="477.50" y="740.16" font-size="6.87" text-anchor="end">Mito b-oxid of short chain sFA</text>
<line x1="478.30" y1="748.44" x2="480.50" y2="748.44" stroke="#444" stroke-width="0.7"/>
<text x="477.50" y="750.84" font-size="6.87" text-anchor="end">Mito b-oxid of medium chain sFA</text>
<line x1="478.30" y1="759.12" x2="480.50" y2="759.12" stroke="#444" stroke-width="0.7"/>
<text x="477.50" y="761.52" font-size="6.87" text-anchor="end">Mito b-oxid of long chain sFA</text>
<line x1="478.30" y1="769.80" x2="480.50" y2="769.80" stroke="#444" stroke-width="0.7"/>
<text x="477.50" y="772.20" font-size="6.87" text-anchor="end">Phenylacetate metabolism</text>
<line x1="478.30" y1="780.48" x2="480.50" y2="780.48" stroke="#444" stroke-width="0.7"/>
<text x="477.50" y="782.88" font-size="6.87" text-anchor="end">Pentose phosphate pathway</text>
<line x1="478.30" y1="791.16" x2="480.50" y2="791.16" stroke="#444" stroke-width="0.7"/>
<text x="477.50" y="793.56" font-size="6.87" text-anchor="end">Fructose &amp; mannose degradation</text>
<line x1="478.30" y1="801.84" x2="480.50" y2="801.84" stroke="#444" stroke-width="0.7"/>
<text x="477.50" y="804.24" font-size="6.87" text-anchor="end">Gluconeogenesis</text>
<line x1="478.30" y1="812.52" x2="480.50" y2="812.52" stroke="#444" stroke-width="0.7"/>
<text x="477.50" y="814.92" font-size="6.87" text-anchor="end">Pyrimidine metabolism</text>
<line x1="478.30" y1="823.20" x2="480.50" y2="823.20" stroke="#444" stroke-width="0.7"/>
<text x="477.50" y="825.60" font-size="6.87" text-anchor="end">Warburg effect</text>
<line x1="478.30" y1="833.88" x2="480.50" y2="833.88" stroke="#444" stroke-width="0.7"/>
<text x="477.50" y="836.28" font-size="6.87" text-anchor="end">PE biosynthesis</text>
<line x1="478.30" y1="844.56" x2="480.50" y2="844.56" stroke="#444" stroke-width="0.7"/>
<text x="477.50" y="846.96" font-size="6.87" text-anchor="end">Glycine &amp; serine metabolism</text>
<line x1="478.30" y1="855.24" x2="480.50" y2="855.24" stroke="#444" stroke-width="0.7"/>
<text x="477.50" y="857.64" font-size="6.87" text-anchor="end">Ketone body metabolism</text>
<line x1="478.30" y1="865.92" x2="480.50" y2="865.92" stroke="#444" stroke-width="0.7"/>
<text x="477.50" y="868.32" font-size="6.87" text-anchor="end">PC biosynthesis</text>
<ellipse cx="607.50" cy="609.60" rx="2.90" ry="3.19" fill="#e8221f"/>
<ellipse cx="546.80" cy="620.28" rx="4.20" ry="4.62" fill="#e8251f"/>
<ellipse cx="520.30" cy="630.96" rx="2.30" ry="2.53" fill="#e92820"/>
<ellipse cx="517.70" cy="641.64" rx="3.00" ry="3.30" fill="#e92d20"/>
<ellipse cx="501.30" cy="652.32" rx="2.20" ry="2.42" fill="#eb4521"/>
<ellipse cx="500.20" cy="663.00" rx="3.60" ry="3.96" fill="#ec5922"/>
<ellipse cx="499.10" cy="673.68" rx="2.40" ry="2.64" fill="#ed5e22"/>
<ellipse cx="499.10" cy="684.36" rx="2.40" ry="2.64" fill="#ed6222"/>
<ellipse cx="499.10" cy="695.04" rx="2.40" ry="2.64" fill="#ee6722"/>
<ellipse cx="496.90" cy="705.72" rx="2.10" ry="2.31" fill="#ef6b22"/>
<ellipse cx="495.10" cy="716.40" rx="2.00" ry="2.20" fill="#ef7022"/>
<ellipse cx="492.50" cy="727.08" rx="1.70" ry="1.87" fill="#f07422"/>
<ellipse cx="492.10" cy="737.76" rx="2.10" ry="2.31" fill="#f07922"/>
<ellipse cx="492.10" cy="748.44" rx="2.10" ry="2.31" fill="#f17e22"/>
<ellipse cx="491.40" cy="759.12" rx="2.00" ry="2.20" fill="#f28222"/>
<ellipse cx="491.00" cy="769.80" rx="2.60" ry="2.86" fill="#f28622"/>
<ellipse cx="490.80" cy="780.48" rx="2.00" ry="2.20" fill="#f38922"/>
<ellipse cx="489.70" cy="791.16" rx="1.80" ry="1.98" fill="#f38d22"/>
<ellipse cx="488.60" cy="801.84" rx="1.80" ry="1.98" fill="#f49022"/>
<ellipse cx="488.40" cy="812.52" rx="1.40" ry="1.54" fill="#f49322"/>
<ellipse cx="488.40" cy="823.20" rx="1.40" ry="1.54" fill="#f49622"/>
<ellipse cx="487.70" cy="833.88" rx="2.10" ry="2.31" fill="#f59821"/>
<ellipse cx="487.70" cy="844.56" rx="1.00" ry="1.10" fill="#f59b21"/>
<ellipse cx="487.00" cy="855.24" rx="2.00" ry="2.20" fill="#f69e20"/>
<ellipse cx="486.40" cy="865.92" rx="2.10" ry="2.31" fill="#f6a020"/>
<line x1="504.70" y1="872.00" x2="504.70" y2="874.20" stroke="#444" stroke-width="0.7"/>
<line x1="533.08" y1="872.00" x2="533.08" y2="874.20" stroke="#444" stroke-width="0.7"/>
<line x1="561.46" y1="872.00" x2="561.46" y2="874.20" stroke="#444" stroke-width="0.7"/>
<line x1="589.84" y1="872.00" x2="589.84" y2="874.20" stroke="#444" stroke-width="0.7"/>
<text x="504.70" y="883.50" font-size="10.7" text-anchor="middle">1</text>
<text x="533.08" y="883.50" font-size="10.7" text-anchor="middle">2</text>
<text x="561.46" y="883.50" font-size="10.7" text-anchor="middle">3</text>
<text x="589.84" y="883.50" font-size="10.7" text-anchor="middle">4</text>
<text x="536.20" y="894.60" font-size="11.6" text-anchor="middle">-log10(p)</text>
<text x="624.00" y="688.80" font-size="7.8">Enrichment Ratio</text>
<circle cx="629.3" cy="697.1" r="2.4" fill="#000"/>
<text x="638.20" y="699.50" font-size="6.9">3</text>
<circle cx="629.3" cy="705.0" r="3.0" fill="#000"/>
<text x="638.20" y="707.40" font-size="6.9">5</text>
<circle cx="629.3" cy="713.7" r="3.5" fill="#000"/>
<text x="638.20" y="716.10" font-size="6.9">7</text>
<circle cx="629.3" cy="723.9" r="4.3" fill="#000"/>
<text x="638.20" y="726.30" font-size="6.9">9</text>
<text x="624.00" y="748.30" font-size="7.6">P-value</text>
<defs><linearGradient id="epg" x1="0" y1="0" x2="0" y2="1"><stop offset="0" stop-color="#f7a21d"/><stop offset="0.5" stop-color="#f06c22"/><stop offset="1" stop-color="#e8221f"/></linearGradient></defs>
<rect x="624.0" y="752.5" width="8.0" height="40.3" fill="url(#epg)"/>
<text x="636.10" y="756.50" font-size="7.0">0.4</text>
<text x="636.10" y="766.28" font-size="7.0">0.3</text>
<text x="636.10" y="776.06" font-size="7.0">0.2</text>
<text x="636.10" y="785.84" font-size="7.0">0.1</text>
<text x="636.10" y="795.62" font-size="7.0">0.0</text>
</svg>
</body></html>
